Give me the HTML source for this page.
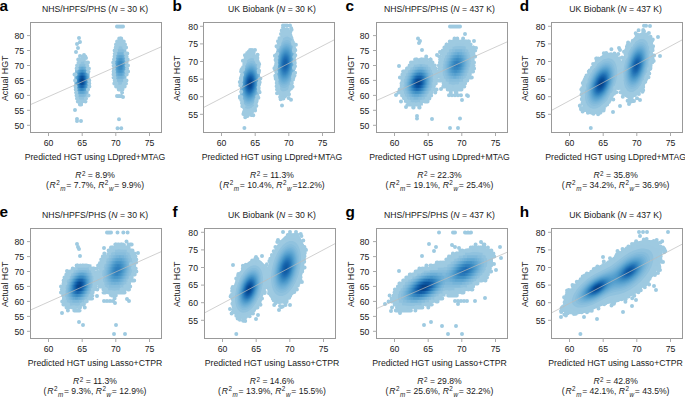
<!DOCTYPE html>
<html><head><meta charset="utf-8"><style>
html,body{margin:0;padding:0;background:#fff;}
svg{display:block;}
</style></head><body>
<svg width="685" height="397" viewBox="0 0 685 397" font-family="'Liberation Sans', sans-serif" font-size="8.6" fill="#1a1a1a">
<clipPath id="c0"><rect x="30.5" y="22.5" width="131.0" height="110.0"/></clipPath>
<g clip-path="url(#c0)">
<path fill="#9dc9e1" d="M122 90.6L117.9 90.5L117.9 88L116.5 87.8L116.2 87.5L116.2 85L115.5 84.9L115.1 84.5L115.1 82L114.5 81.9L114.1 81.5L114.1 79L113.6 78.5L113.6 76L113 75.5L113 58.5L113.5 58L113.5 55.5L114.1 55L114.1 52.5L114.6 52L114.6 49.5L115 49.1L115.6 49L115.6 46.5L116 46.1L116.7 46L116.7 43.5L117 43.2L118.9 43L119 40.4L122.5 40.4L122.6 43L124.5 43.2L124.8 43.5L124.8 46L125.5 46.1L125.9 46.5L125.9 49L126.4 49.5L126.4 52L126.9 52.5L126.9 55L127.5 55.5L127.5 72.5L127 73L127 75.5L126.4 76L126.4 78.5L125.9 79L125.9 81.5L125.4 82L125.4 84.5L125 84.9L123.8 85L123.8 87.5L123.5 87.8L122.1 88L122 90.6ZM83 105.6L80 105.6L79.9 103L78 102.8L77.7 102.5L77.7 100L77 99.9L76.6 99.5L76.6 97L76 96.9L75.6 96.5L75.6 94L75 93.5L75 91L74.5 90.5L74.5 73L75 72.5L75 70L75.6 69.5L75.6 67L76 66.6L76.6 66.5L76.6 64.5L77 64.1L77.6 64L77.6 61.5L78 61.1L79.3 61L79.3 58.5L79.5 58.3L85 58.2L85.8 58.5L85.8 61L87 61.1L87.4 61.5L87.4 64L87.9 64.5L87.9 66.5L88.5 66.5L89 67L89 72.5L89.5 73L89.5 87.5L89 88L89 90.5L88.5 91L88.5 93.5L87.9 94L87.9 96.5L87.5 96.9L86.9 97L86.9 99.5L86.5 99.9L85.8 100L85.8 102.5L85.5 102.8L83.1 103L83 105.6Z"/>
<path fill="#90c2de" d="M122.5 84.6L119.5 84.7L116.9 84.5L116.9 82L114.5 81.5L114.5 79L113.9 78.5L113.9 76L113.3 75.5L113.2 58.5L113.8 58L113.8 55.5L114.4 55L114.4 52.5L115.2 52L115.2 49.5L117.8 49L117.8 46.5L119 46.3L123.7 46.5L123.7 49L126 49.5L126 52L126.7 52.5L126.7 55L127.2 55.5L127.3 72.5L126.7 73L126.7 75.5L126.2 76L126.2 78.5L125.4 79L125.4 81.5L122.8 82L122.8 84.5L122.5 84.6ZM85 99.6L81 99.8L77.7 99.5L77.7 97L75.9 96.5L75.9 94L75.3 93.5L75.3 91L74.7 90.5L74.7 73L75.2 72.5L75.2 70L75.8 69.5L75.8 67L77 66.5L77 64.5L80.2 64L80.2 61.5L84.7 61.5L84.7 64L87.5 64.4L87.6 66.5L88.7 67L88.8 72.5L89.3 73L89.3 87.5L88.8 88L88.8 90.5L88.2 91L88.2 93.5L87.6 94L87.6 96.5L85.4 97L85.4 99.5L85 99.6Z"/>
<path fill="#87bddc" d="M122.5 81.6L119.5 81.8L116.9 81.5L116.9 79L114.9 78.5L114.9 76L113.8 75.5L113.8 73L113.4 72.5L113.4 69.5L113.5 58.5L114.2 58L114.2 55.5L115.4 55L115.4 52.5L117.6 52L117.6 49.5L118.5 49.4L121 49.2L123.7 49.5L123.7 52L125.7 52.5L125.7 55L126.8 55.5L127.2 61.5L127 72.5L126.4 73L126.4 75.5L125.2 76L125.2 78.5L123 79L123 81.5L122.5 81.6ZM85.5 96.6L81 96.9L77.3 96.5L77.3 94L75.6 93.5L75.6 91L74.9 90.5L74.9 73L75.5 72.5L75.5 70L76.7 69.5L76.7 67L79.1 66.5L79.1 64.5L82.5 64.2L85.7 64.5L85.7 66.5L87.9 67L87.9 69.5L88.6 70L88.6 72.5L89.2 73L89.2 87.5L88.6 88L88.6 90.5L87.9 91L87.9 93.5L86 94L86 96.5L85.5 96.6Z"/>
<path fill="#7eb8da" d="M123.5 78.6L119.5 78.9L116.2 78.5L116.2 76L114.8 75.5L114.8 73L114.1 72.5L114.1 70L113.7 69.5L113.6 66.5L113.8 61.5L114.3 61L114.3 58.5L115.2 58L115.2 55.5L116.8 55L116.8 52.5L117 52.4L121 52.1L124.4 52.5L124.4 55L125.8 55.5L125.8 58L126.5 58.5L126.5 61L126.9 61.5L127 64.5L126.8 69.5L126.3 70L126.3 72.5L125.4 73L125.4 75.5L123.8 76L123.8 78.5L123.5 78.6ZM84 96.6L81.5 96.7L78.9 96.5L78.9 94L76.6 93.5L76.6 91L75.4 90.5L75.4 88L74.9 87.5L74.9 84.5L74.9 76L75.2 75.5L75.2 73L76.2 72.5L76.2 70L77.8 69.5L77.8 67L79 66.7L83.5 66.5L86.8 67L86.8 69.5L88.2 70L88.2 72.5L89 73L89 87.5L88.2 88L88.2 90.5L86.9 91L86.9 93.5L84.4 94L84.4 96.5L84 96.6Z"/>
<path fill="#75b3d8" d="M122 78.6L117.6 78.5L117.6 76L115.7 75.5L115.7 73L114.8 72.5L114.8 70L114.4 69.5L114.3 64.5L114.5 64L114.5 61.5L115.1 61L115.1 58.5L116.1 58L116.1 55.5L118.1 55L118.1 52.5L119 52.4L123 52.5L123 55L124.9 55.5L124.9 58L125.8 58.5L125.8 61L126.2 61.5L126.3 66.5L126.1 67L126.1 69.5L125.5 70L125.5 72.5L124.5 73L124.5 75.5L122.5 76L122.5 78.5L122 78.6ZM86 93.5L81.5 94L77.5 93.5L77.4 91L76 90.5L76 88L75.3 87.5L75.3 85L75 84.5L75.2 76L75.8 75.5L75.8 73L76.9 72.5L76.9 70L78.8 69.5L78.8 67L82.5 66.7L85.8 67L85.8 69.5L87.5 70L87.5 72.5L88.5 73L88.5 75.5L89 76L88.9 84.5L88.4 85L88.4 87.5L87.5 88L87.5 90.5L86 91L86 93.5Z"/>
<path fill="#6caed6" d="M123.5 75.5L120 76L116.5 75.5L116.5 73L115.5 72.5L115.5 70L115 69.5L114.8 66.5L115.1 61.5L115.7 61L115.7 58.5L116.9 58L116.9 55.5L120.5 55L124.1 55.5L124.1 58L125.1 58.5L125.1 61L125.6 61.5L125.8 64.5L125.5 69.5L124.9 70L124.9 72.5L123.7 73L123.5 75.5ZM85 93.6L81.5 93.9L78.2 93.5L78.2 91L76.6 90.5L76.6 88L75.8 87.5L75.4 81.5L75.7 76L76.3 75.5L76.3 73L77.5 72.5L77.5 70L79.9 69.5L79.9 67L82.5 66.8L84.8 67L84.8 69.5L86.9 70L86.9 72.5L88 73L88 75.5L88.5 76L88.7 79L88.5 84.5L87.9 85L87.9 87.5L87 88L87 90.5L85.2 91L85.2 93.5L85 93.6Z"/>
<path fill="#64a9d3" d="M122.5 75.6L120 75.8L117.4 75.5L117.4 73L116.1 72.5L116.1 70L115.5 69.5L115.4 66.5L115.6 61.5L116.3 61L116.3 58.5L117.8 58L117.8 55.5L118 55.5L120.5 55.2L123.2 55.5L123.2 58L124.5 58.5L124.5 61L125.1 61.5L125.2 64.5L125 69.5L124.3 70L124.3 72.5L122.8 73L122.8 75.5L122.5 75.6ZM84 93.6L81.5 93.7L79 93.5L79 91L77.1 90.5L77.1 88L76.2 87.5L76.2 85L75.8 84.5L75.8 79L76.1 78.5L76.1 76L76.8 75.5L76.8 73L78.1 72.5L78.1 70L81.3 69.5L81.3 67L83.3 67L83.3 69.5L86.4 70L86.4 72.5L87.5 73L87.5 75.5L88.1 76L88.3 81.5L88.1 84.5L87.5 85L87.5 87.5L86.5 88L86.5 90.5L84.5 91L84.5 93.5L84 93.6Z"/>
<path fill="#5da4d0" d="M121.5 75.5L118.4 75.5L118.4 73L116.7 72.5L116.7 70L116 69.5L115.8 64.5L116.1 64L116.1 61.5L116.9 61L116.9 58.5L118.8 58L118.8 55.5L119.5 55.4L122.2 55.5L122.2 58L123.9 58.5L123.9 61L124.6 61.5L124.8 66.5L124.5 67L124.5 69.5L123.7 70L123.7 72.5L121.8 73L121.8 75.5L121.5 75.5ZM83.5 93.5L79.9 93.5L79.9 91L77.6 90.5L77.6 88L76.6 87.5L76.6 85L76.2 84.5L76.1 79L76.4 78.5L76.4 76L77.2 75.5L77.2 73L78.6 72.5L78.6 70L80 69.7L83 69.6L85.8 70L85.8 72.5L87.1 73L87.1 75.5L87.7 76L87.9 81.5L87.7 84.5L87.1 85L87.1 87.5L86 88L86 90.5L83.5 91L83.5 93.5Z"/>
<path fill="#559fce" d="M123 72.5L120 72.9L117.3 72.5L117.3 70L116.5 69.5L116.3 64.5L116.6 64L116.6 61.5L117.5 61L117.5 58.5L120.5 58L123.3 58.5L123.3 61L124.1 61.5L124.3 66.5L124 67L124 69.5L123.1 70L123 72.5ZM85.5 90.5L81.5 91L78 90.5L78 88L77 87.5L77 85L76.5 84.5L76.4 81.5L76.8 76L77.6 75.5L77.6 73L79.2 72.5L79.2 70L82.5 69.7L85.3 70L85.3 72.5L86.7 73L86.7 75.5L87.4 76L87.6 79L87.4 84.5L86.8 85L86.8 87.5L85.5 88L85.5 90.5Z"/>
<path fill="#4e9acb" d="M122 72.6L120 72.8L117.9 72.5L117.9 70L117 69.5L116.8 64.5L117.1 64L117.1 61.5L118.2 61L118.2 58.5L120.5 58.2L122.6 58.5L122.6 61L123.6 61.5L123.8 66.5L123.5 67L123.5 69.5L122.4 70L122.4 72.5L122 72.6ZM85 90.5L81.5 90.9L78.5 90.5L78.5 88L77.3 87.5L77.3 85L76.8 84.5L76.7 81.5L77.1 76L78 75.5L78 73L79.8 72.5L79.8 70L82.5 69.8L84.7 70L84.7 72.5L86.4 73L86.4 75.5L87.1 76L87.1 78.5L87.3 79L87.1 84.5L86.4 85L86.4 87.5L85.1 88L85 90.5Z"/>
<path fill="#4795c8" d="M121.5 72.5L118.8 72.5L118.8 70L117.5 69.5L117.2 64.5L117.6 64L117.6 61.5L119.1 61L119.1 58.5L121.8 58.5L121.8 61L123.1 61.5L123.4 66.5L123 67L123 69.5L121.5 70L121.5 72.5ZM84.5 90.5L81.5 90.8L79 90.5L79 88L77.6 87.5L77.6 85L77.1 84.5L77 81.5L77.4 76L78.3 75.5L78.3 73L80.5 72.5L80.5 70L84 70L84 72.5L86 73L86 75.5L86.8 76L86.8 78.5L87 79L86.8 84.5L86.1 85L86.1 87.5L84.6 88L84.5 90.5Z"/>
<path fill="#4090c5" d="M122 69.6L120 69.9L118.1 69.5L117.7 64.5L118.2 64L118.2 61.5L120.5 61.1L122.5 61.5L122.9 66.5L122.4 67L122.4 69.5L122 69.6ZM84 90.5L81.5 90.7L79.5 90.5L79.5 88L77.9 87.5L77.9 85L77.3 84.5L77.3 79L77.7 78.5L77.7 76L78.7 75.5L78.7 73L81.5 72.5L81.5 70L82.9 70L82.9 72.5L85.6 73L85.6 75.5L86.5 76L86.5 78.5L86.8 79L86.5 84.5L85.8 85L85.8 87.5L84.1 88L84 90.5Z"/>
<path fill="#3a8ac2" d="M121.5 69.6L120 69.7L118.8 69.5L118.8 67L118.3 66.5L118.3 64.5L118.9 64L118.9 61.5L120.5 61.3L121.8 61.5L121.8 64L122.3 64.5L122.3 66.5L121.7 67L121.7 69.5L121.5 69.6ZM83.5 90.5L80.1 90.5L80.1 88L78.3 87.5L78.3 85L77.6 84.5L77.5 79L78 78.5L78 76L79 75.5L79 73L80 72.8L83 72.6L85.3 73L85.3 75.5L86.2 76L86.2 78.5L86.5 79L86.3 84.5L85.5 85L85.5 87.5L83.5 88L83.5 90.5Z"/>
<path fill="#3484bf" d="M121.5 66.6L120 66.9L119 66.5L119 64.5L120.5 64L121.5 64.4L121.5 66.6ZM82.5 90.5L80.9 90.5L80.9 88L78.6 87.5L78.6 85L77.9 84.5L77.8 79L78.2 78.5L78.2 76L79.4 75.5L79.4 73L81.5 72.7L84.9 73L84.9 75.5L85.9 76L85.9 78.5L86.2 79L86 84.5L85.1 85L85.1 87.5L82.6 88L82.5 90.5Z"/>
<path fill="#2e7ebc" d="M84.5 87.6L81.5 87.9L78.9 87.5L78.9 85L78.1 84.5L78 79L78.5 78.5L78.5 76L79.8 75.5L79.8 73L82 72.7L84.5 73L84.5 75.5L85.7 76L85.7 78.5L86 79L85.7 84.5L84.8 85L84.8 87.5L84.5 87.6Z"/>
<path fill="#2878b9" d="M84 87.6L81.5 87.9L79.2 87.5L79.2 85L78.4 84.5L78.3 79L78.8 78.5L78.8 76L80.3 75.5L80.3 73L82 72.8L84.1 73L84.1 75.5L85.4 76L85.4 78.5L85.8 79L85.5 84.5L84.5 85L84.5 87.5L84 87.6Z"/>
<path fill="#2272b6" d="M84 87.5L82 87.8L79.6 87.5L79.6 85L78.7 84.5L78.5 79L79.1 78.5L79.1 76L80.8 75.5L80.8 73L83.5 73L83.5 75.5L85.1 76L85.1 78.5L85.5 79L85.2 84.5L84.1 85L84 87.5Z"/>
<path fill="#1d6cb1" d="M83.5 87.5L80 87.5L80 85L78.9 84.5L78.8 79L79.3 78.5L79.3 76L81.7 75.5L81.7 73L82.6 73L82.6 75.5L84.8 76L84.8 78.5L85.3 79L85 84.5L83.7 85L83.7 87.5L83.5 87.5Z"/>
<path fill="#1966ad" d="M83 87.5L80.5 87.5L80.5 85L79.2 84.5L79 79L79.6 78.5L79.6 76L80.5 75.8L82.5 75.6L84.5 76L84.5 78.5L85 79L84.7 84.5L83.2 85L83.2 87.5L83 87.5Z"/>
<path fill="#1461a8" d="M82.5 87.5L81.3 87.5L81.3 85L79.5 84.5L79.3 79L80 78.5L80 76L81.5 75.7L84.2 76L84.2 78.5L84.7 79L84.4 84.5L82.5 85L82.5 87.5Z"/>
<path fill="#105ba4" d="M84 84.5L82 84.9L79.8 84.5L79.5 79L80.3 78.5L80.3 76L82 75.8L83.8 76L83.8 78.5L84.5 79L84.5 81.5L84.1 82L84 84.5Z"/>
<path fill="#0b559f" d="M83.5 84.6L81.5 84.8L80.1 84.5L79.8 79L80.8 78.5L80.8 76L83.4 76L83.4 78.5L84.2 79L84.2 81.5L83.8 82L83.8 84.5L83.5 84.6Z"/>
<path fill="#084f9a" d="M83 84.6L80.5 84.5L80.2 79L81.4 78.5L81.4 76L82.8 76L82.8 78.5L83.9 79L83.9 81.5L83.4 82L83.4 84.5L83 84.6Z"/>
<path fill="#084991" d="M82.5 84.6L81 84.5L81 82L80.5 81.5L80.5 79L81.5 78.7L82.5 78.6L83.5 79L83.5 81.5L82.9 82L82.9 84.5L82.5 84.6Z"/>
<path fill="#084388" d="M83 81.5L82 81.9L81 81.5L81 79L82 78.8L83.1 79L83 81.5Z"/>
<path fill="#9ECAE1" d="M73.6 86.4a2 2 0 1 0 4 0a2 2 0 1 0-4 0M86.5 95.4a2 2 0 1 0 4 0a2 2 0 1 0-4 0M73.5 74.5a2 2 0 1 0 4 0a2 2 0 1 0-4 0M114.3 44.6a2 2 0 1 0 4 0a2 2 0 1 0-4 0M85.7 68.5a2 2 0 1 0 4 0a2 2 0 1 0-4 0M123.6 83.4a2 2 0 1 0 4 0a2 2 0 1 0-4 0M114.1 47.6a2 2 0 1 0 4 0a2 2 0 1 0-4 0M76.2 59.5a2 2 0 1 0 4 0a2 2 0 1 0-4 0M111.9 65.5a2 2 0 1 0 4 0a2 2 0 1 0-4 0M114.0 50.5a2 2 0 1 0 4 0a2 2 0 1 0-4 0M116.7 89.4a2 2 0 1 0 4 0a2 2 0 1 0-4 0M114.2 83.4a2 2 0 1 0 4 0a2 2 0 1 0-4 0M83.5 101.4a2 2 0 1 0 4 0a2 2 0 1 0-4 0M116.8 89.4a2 2 0 1 0 4 0a2 2 0 1 0-4 0M117.3 89.4a2 2 0 1 0 4 0a2 2 0 1 0-4 0M123.0 44.6a2 2 0 1 0 4 0a2 2 0 1 0-4 0M86.0 62.5a2 2 0 1 0 4 0a2 2 0 1 0-4 0M77.9 104.4a2 2 0 1 0 4 0a2 2 0 1 0-4 0M86.0 89.4a2 2 0 1 0 4 0a2 2 0 1 0-4 0M120.1 89.4a2 2 0 1 0 4 0a2 2 0 1 0-4 0M77.4 101.4a2 2 0 1 0 4 0a2 2 0 1 0-4 0M123.6 47.6a2 2 0 1 0 4 0a2 2 0 1 0-4 0M120.6 86.4a2 2 0 1 0 4 0a2 2 0 1 0-4 0M121.6 44.6a2 2 0 1 0 4 0a2 2 0 1 0-4 0M80.5 59.5a2 2 0 1 0 4 0a2 2 0 1 0-4 0M115.0 86.4a2 2 0 1 0 4 0a2 2 0 1 0-4 0M120.3 86.4a2 2 0 1 0 4 0a2 2 0 1 0-4 0M73.7 89.4a2 2 0 1 0 4 0a2 2 0 1 0-4 0M113.0 50.5a2 2 0 1 0 4 0a2 2 0 1 0-4 0M112.3 59.5a2 2 0 1 0 4 0a2 2 0 1 0-4 0M73.5 86.4a2 2 0 1 0 4 0a2 2 0 1 0-4 0M111.6 77.5a2 2 0 1 0 4 0a2 2 0 1 0-4 0M111.6 65.5a2 2 0 1 0 4 0a2 2 0 1 0-4 0M112.7 80.4a2 2 0 1 0 4 0a2 2 0 1 0-4 0M121.8 41.6a2 2 0 1 0 4 0a2 2 0 1 0-4 0M81.5 56.5a2 2 0 1 0 4 0a2 2 0 1 0-4 0M87.3 83.4a2 2 0 1 0 4 0a2 2 0 1 0-4 0M122.7 86.4a2 2 0 1 0 4 0a2 2 0 1 0-4 0M81.4 56.5a2 2 0 1 0 4 0a2 2 0 1 0-4 0M111.2 62.5a2 2 0 1 0 4 0a2 2 0 1 0-4 0M79.1 104.4a2 2 0 1 0 4 0a2 2 0 1 0-4 0M124.6 65.5a2 2 0 1 0 4 0a2 2 0 1 0-4 0M111.6 65.5a2 2 0 1 0 4 0a2 2 0 1 0-4 0M112.8 53.5a2 2 0 1 0 4 0a2 2 0 1 0-4 0M111.6 71.5a2 2 0 1 0 4 0a2 2 0 1 0-4 0M76.9 62.5a2 2 0 1 0 4 0a2 2 0 1 0-4 0M117.7 41.6a2 2 0 1 0 4 0a2 2 0 1 0-4 0M116.2 41.6a2 2 0 1 0 4 0a2 2 0 1 0-4 0M112.0 59.5a2 2 0 1 0 4 0a2 2 0 1 0-4 0M75.4 65.5a2 2 0 1 0 4 0a2 2 0 1 0-4 0M120.5 89.4a2 2 0 1 0 4 0a2 2 0 1 0-4 0M74.5 95.4a2 2 0 1 0 4 0a2 2 0 1 0-4 0M113.2 53.5a2 2 0 1 0 4 0a2 2 0 1 0-4 0M112.5 77.5a2 2 0 1 0 4 0a2 2 0 1 0-4 0M114.0 44.6a2 2 0 1 0 4 0a2 2 0 1 0-4 0M125.1 68.5a2 2 0 1 0 4 0a2 2 0 1 0-4 0M119.2 41.6a2 2 0 1 0 4 0a2 2 0 1 0-4 0M124.3 56.5a2 2 0 1 0 4 0a2 2 0 1 0-4 0M112.1 74.5a2 2 0 1 0 4 0a2 2 0 1 0-4 0M124.6 65.5a2 2 0 1 0 4 0a2 2 0 1 0-4 0M124.4 71.5a2 2 0 1 0 4 0a2 2 0 1 0-4 0M124.6 62.5a2 2 0 1 0 4 0a2 2 0 1 0-4 0M121.2 44.6a2 2 0 1 0 4 0a2 2 0 1 0-4 0M123.1 80.4a2 2 0 1 0 4 0a2 2 0 1 0-4 0M124.6 59.5a2 2 0 1 0 4 0a2 2 0 1 0-4 0M114.3 83.4a2 2 0 1 0 4 0a2 2 0 1 0-4 0M112.3 83.4a2 2 0 1 0 4 0a2 2 0 1 0-4 0M74.8 68.5a2 2 0 1 0 4 0a2 2 0 1 0-4 0M73.1 80.4a2 2 0 1 0 4 0a2 2 0 1 0-4 0M113.8 50.5a2 2 0 1 0 4 0a2 2 0 1 0-4 0M122.0 83.4a2 2 0 1 0 4 0a2 2 0 1 0-4 0M114.1 86.4a2 2 0 1 0 4 0a2 2 0 1 0-4 0M122.3 47.6a2 2 0 1 0 4 0a2 2 0 1 0-4 0M83.2 56.5a2 2 0 1 0 4 0a2 2 0 1 0-4 0M112.6 50.5a2 2 0 1 0 4 0a2 2 0 1 0-4 0M121.8 86.4a2 2 0 1 0 4 0a2 2 0 1 0-4 0M124.5 74.5a2 2 0 1 0 4 0a2 2 0 1 0-4 0M121.2 44.6a2 2 0 1 0 4 0a2 2 0 1 0-4 0M84.0 98.4a2 2 0 1 0 4 0a2 2 0 1 0-4 0M124.9 59.5a2 2 0 1 0 4 0a2 2 0 1 0-4 0M112.5 56.5a2 2 0 1 0 4 0a2 2 0 1 0-4 0M125.3 53.5a2 2 0 1 0 4 0a2 2 0 1 0-4 0M122.9 83.4a2 2 0 1 0 4 0a2 2 0 1 0-4 0M114.4 83.4a2 2 0 1 0 4 0a2 2 0 1 0-4 0M117.1 89.4a2 2 0 1 0 4 0a2 2 0 1 0-4 0M120.7 41.6a2 2 0 1 0 4 0a2 2 0 1 0-4 0M86.0 71.5a2 2 0 1 0 4 0a2 2 0 1 0-4 0M118.4 38.6a2 2 0 1 0 4 0a2 2 0 1 0-4 0M74.6 68.5a2 2 0 1 0 4 0a2 2 0 1 0-4 0M124.5 74.5a2 2 0 1 0 4 0a2 2 0 1 0-4 0M76.6 59.5a2 2 0 1 0 4 0a2 2 0 1 0-4 0M76.6 62.5a2 2 0 1 0 4 0a2 2 0 1 0-4 0M80.8 56.5a2 2 0 1 0 4 0a2 2 0 1 0-4 0M120.7 44.6a2 2 0 1 0 4 0a2 2 0 1 0-4 0M112.0 71.5a2 2 0 1 0 4 0a2 2 0 1 0-4 0M120.1 92.4a2 2 0 1 0 4 0a2 2 0 1 0-4 0M123.7 53.5a2 2 0 1 0 4 0a2 2 0 1 0-4 0M123.0 83.4a2 2 0 1 0 4 0a2 2 0 1 0-4 0M118.8 38.6a2 2 0 1 0 4 0a2 2 0 1 0-4 0M86.5 71.5a2 2 0 1 0 4 0a2 2 0 1 0-4 0M85.3 65.5a2 2 0 1 0 4 0a2 2 0 1 0-4 0M121.1 41.6a2 2 0 1 0 4 0a2 2 0 1 0-4 0M84.3 62.5a2 2 0 1 0 4 0a2 2 0 1 0-4 0M114.8 47.6a2 2 0 1 0 4 0a2 2 0 1 0-4 0M122.5 83.4a2 2 0 1 0 4 0a2 2 0 1 0-4 0M75.8 101.4a2 2 0 1 0 4 0a2 2 0 1 0-4 0M112.7 53.5a2 2 0 1 0 4 0a2 2 0 1 0-4 0M124.6 53.5a2 2 0 1 0 4 0a2 2 0 1 0-4 0M112.4 77.5a2 2 0 1 0 4 0a2 2 0 1 0-4 0M112.0 71.5a2 2 0 1 0 4 0a2 2 0 1 0-4 0M74.7 95.4a2 2 0 1 0 4 0a2 2 0 1 0-4 0M111.2 62.5a2 2 0 1 0 4 0a2 2 0 1 0-4 0M120.2 86.4a2 2 0 1 0 4 0a2 2 0 1 0-4 0M87.4 86.4a2 2 0 1 0 4 0a2 2 0 1 0-4 0M125.3 59.5a2 2 0 1 0 4 0a2 2 0 1 0-4 0M75.1 65.5a2 2 0 1 0 4 0a2 2 0 1 0-4 0M117.7 89.4a2 2 0 1 0 4 0a2 2 0 1 0-4 0M113.9 47.6a2 2 0 1 0 4 0a2 2 0 1 0-4 0M72.5 74.5a2 2 0 1 0 4 0a2 2 0 1 0-4 0M119.2 38.6a2 2 0 1 0 4 0a2 2 0 1 0-4 0M126.0 65.5a2 2 0 1 0 4 0a2 2 0 1 0-4 0M111.6 65.5a2 2 0 1 0 4 0a2 2 0 1 0-4 0M117.6 89.4a2 2 0 1 0 4 0a2 2 0 1 0-4 0M113.3 50.5a2 2 0 1 0 4 0a2 2 0 1 0-4 0M126.1 71.5a2 2 0 1 0 4 0a2 2 0 1 0-4 0M124.1 47.6a2 2 0 1 0 4 0a2 2 0 1 0-4 0M116.8 44.6a2 2 0 1 0 4 0a2 2 0 1 0-4 0M125.1 59.5a2 2 0 1 0 4 0a2 2 0 1 0-4 0M119.9 41.6a2 2 0 1 0 4 0a2 2 0 1 0-4 0M117.0 41.6a2 2 0 1 0 4 0a2 2 0 1 0-4 0M79.9 59.5a2 2 0 1 0 4 0a2 2 0 1 0-4 0M87.3 80.4a2 2 0 1 0 4 0a2 2 0 1 0-4 0M120.4 41.6a2 2 0 1 0 4 0a2 2 0 1 0-4 0M124.6 62.5a2 2 0 1 0 4 0a2 2 0 1 0-4 0M75.4 65.5a2 2 0 1 0 4 0a2 2 0 1 0-4 0M124.0 83.4a2 2 0 1 0 4 0a2 2 0 1 0-4 0M111.5 62.5a2 2 0 1 0 4 0a2 2 0 1 0-4 0M117.2 38.6a2 2 0 1 0 4 0a2 2 0 1 0-4 0M75.0 98.4a2 2 0 1 0 4 0a2 2 0 1 0-4 0M114.1 83.4a2 2 0 1 0 4 0a2 2 0 1 0-4 0M81.5 56.5a2 2 0 1 0 4 0a2 2 0 1 0-4 0M121.9 44.6a2 2 0 1 0 4 0a2 2 0 1 0-4 0M112.9 50.5a2 2 0 1 0 4 0a2 2 0 1 0-4 0M113.9 50.5a2 2 0 1 0 4 0a2 2 0 1 0-4 0M86.9 68.5a2 2 0 1 0 4 0a2 2 0 1 0-4 0M111.8 68.5a2 2 0 1 0 4 0a2 2 0 1 0-4 0M125.3 71.5a2 2 0 1 0 4 0a2 2 0 1 0-4 0M74.1 92.4a2 2 0 1 0 4 0a2 2 0 1 0-4 0M119.4 41.6a2 2 0 1 0 4 0a2 2 0 1 0-4 0M76.5 62.5a2 2 0 1 0 4 0a2 2 0 1 0-4 0M86.3 71.5a2 2 0 1 0 4 0a2 2 0 1 0-4 0M74.2 92.4a2 2 0 1 0 4 0a2 2 0 1 0-4 0M124.8 71.5a2 2 0 1 0 4 0a2 2 0 1 0-4 0M120.1 86.4a2 2 0 1 0 4 0a2 2 0 1 0-4 0M121.7 44.6a2 2 0 1 0 4 0a2 2 0 1 0-4 0M124.7 59.5a2 2 0 1 0 4 0a2 2 0 1 0-4 0M124.6 56.5a2 2 0 1 0 4 0a2 2 0 1 0-4 0M122.4 47.6a2 2 0 1 0 4 0a2 2 0 1 0-4 0M117.4 41.6a2 2 0 1 0 4 0a2 2 0 1 0-4 0M113.4 50.5a2 2 0 1 0 4 0a2 2 0 1 0-4 0M111.5 74.5a2 2 0 1 0 4 0a2 2 0 1 0-4 0M111.4 62.5a2 2 0 1 0 4 0a2 2 0 1 0-4 0M123.5 80.4a2 2 0 1 0 4 0a2 2 0 1 0-4 0M113.2 80.4a2 2 0 1 0 4 0a2 2 0 1 0-4 0M113.6 50.5a2 2 0 1 0 4 0a2 2 0 1 0-4 0M112.2 74.5a2 2 0 1 0 4 0a2 2 0 1 0-4 0M124.5 80.4a2 2 0 1 0 4 0a2 2 0 1 0-4 0M120.4 44.6a2 2 0 1 0 4 0a2 2 0 1 0-4 0M112.5 77.5a2 2 0 1 0 4 0a2 2 0 1 0-4 0M112.1 74.5a2 2 0 1 0 4 0a2 2 0 1 0-4 0M119.5 41.6a2 2 0 1 0 4 0a2 2 0 1 0-4 0M86.3 71.5a2 2 0 1 0 4 0a2 2 0 1 0-4 0M124.7 74.5a2 2 0 1 0 4 0a2 2 0 1 0-4 0M120.4 86.4a2 2 0 1 0 4 0a2 2 0 1 0-4 0M114.5 47.6a2 2 0 1 0 4 0a2 2 0 1 0-4 0M113.7 47.6a2 2 0 1 0 4 0a2 2 0 1 0-4 0M125.7 59.5a2 2 0 1 0 4 0a2 2 0 1 0-4 0M113.6 83.4a2 2 0 1 0 4 0a2 2 0 1 0-4 0M115.1 41.6a2 2 0 1 0 4 0a2 2 0 1 0-4 0M116.5 44.6a2 2 0 1 0 4 0a2 2 0 1 0-4 0M123.1 47.6a2 2 0 1 0 4 0a2 2 0 1 0-4 0M84.0 98.4a2 2 0 1 0 4 0a2 2 0 1 0-4 0M77.0 38.0a2 2 0 1 0 4 0a2 2 0 1 0-4 0M78.0 42.0a2 2 0 1 0 4 0a2 2 0 1 0-4 0M75.0 44.0a2 2 0 1 0 4 0a2 2 0 1 0-4 0M76.0 48.0a2 2 0 1 0 4 0a2 2 0 1 0-4 0M74.0 52.0a2 2 0 1 0 4 0a2 2 0 1 0-4 0M78.0 56.0a2 2 0 1 0 4 0a2 2 0 1 0-4 0M82.0 55.0a2 2 0 1 0 4 0a2 2 0 1 0-4 0M84.0 58.0a2 2 0 1 0 4 0a2 2 0 1 0-4 0M75.0 119.0a2 2 0 1 0 4 0a2 2 0 1 0-4 0M75.0 121.0a2 2 0 1 0 4 0a2 2 0 1 0-4 0M79.0 121.0a2 2 0 1 0 4 0a2 2 0 1 0-4 0M115.0 26.4a2 2 0 1 0 4 0a2 2 0 1 0-4 0M117.0 26.4a2 2 0 1 0 4 0a2 2 0 1 0-4 0M119.0 26.4a2 2 0 1 0 4 0a2 2 0 1 0-4 0M121.0 26.4a2 2 0 1 0 4 0a2 2 0 1 0-4 0M117.0 119.3a2 2 0 1 0 4 0a2 2 0 1 0-4 0M115.5 128.2a2 2 0 1 0 4 0a2 2 0 1 0-4 0M119.3 128.2a2 2 0 1 0 4 0a2 2 0 1 0-4 0M115.0 95.9a2 2 0 1 0 4 0a2 2 0 1 0-4 0M117.0 95.9a2 2 0 1 0 4 0a2 2 0 1 0-4 0M119.0 95.9a2 2 0 1 0 4 0a2 2 0 1 0-4 0M121.0 97.0a2 2 0 1 0 4 0a2 2 0 1 0-4 0M73.0 110.0a2 2 0 1 0 4 0a2 2 0 1 0-4 0"/>
<line x1="30.5" y1="104.6" x2="161.5" y2="46.7" stroke="#bcbcbc" stroke-width="0.7"/>
</g>
<rect x="30.5" y="22.5" width="131.0" height="110.0" fill="none" stroke="#999" stroke-width="1"/>
<line x1="48.5" y1="132.5" x2="48.5" y2="136.0" stroke="#aaa" stroke-width="1"/>
<text x="48.5" y="145.8" text-anchor="middle" font-size="8.7">60</text>
<line x1="82.2" y1="132.5" x2="82.2" y2="136.0" stroke="#aaa" stroke-width="1"/>
<text x="82.2" y="145.8" text-anchor="middle" font-size="8.7">65</text>
<line x1="115.8" y1="132.5" x2="115.8" y2="136.0" stroke="#aaa" stroke-width="1"/>
<text x="115.8" y="145.8" text-anchor="middle" font-size="8.7">70</text>
<line x1="149.5" y1="132.5" x2="149.5" y2="136.0" stroke="#aaa" stroke-width="1"/>
<text x="149.5" y="145.8" text-anchor="middle" font-size="8.7">75</text>
<line x1="27.0" y1="125.3" x2="30.5" y2="125.3" stroke="#aaa" stroke-width="1"/>
<text x="24.1" y="128.5" text-anchor="end" font-size="8.7">50</text>
<line x1="27.0" y1="110.3" x2="30.5" y2="110.3" stroke="#aaa" stroke-width="1"/>
<text x="24.1" y="113.5" text-anchor="end" font-size="8.7">55</text>
<line x1="27.0" y1="95.4" x2="30.5" y2="95.4" stroke="#aaa" stroke-width="1"/>
<text x="24.1" y="98.6" text-anchor="end" font-size="8.7">60</text>
<line x1="27.0" y1="80.4" x2="30.5" y2="80.4" stroke="#aaa" stroke-width="1"/>
<text x="24.1" y="83.6" text-anchor="end" font-size="8.7">65</text>
<line x1="27.0" y1="65.5" x2="30.5" y2="65.5" stroke="#aaa" stroke-width="1"/>
<text x="24.1" y="68.7" text-anchor="end" font-size="8.7">70</text>
<line x1="27.0" y1="50.5" x2="30.5" y2="50.5" stroke="#aaa" stroke-width="1"/>
<text x="24.1" y="53.8" text-anchor="end" font-size="8.7">75</text>
<line x1="27.0" y1="35.6" x2="30.5" y2="35.6" stroke="#aaa" stroke-width="1"/>
<text x="24.1" y="38.8" text-anchor="end" font-size="8.7">80</text>
<text transform="translate(7.7,78.3) rotate(-90)" text-anchor="middle" font-size="8.8">Actual HGT</text>
<text x="95.0" y="12.3" text-anchor="middle" font-size="8.66">NHS/HPFS/PHS (<tspan font-style="italic">N</tspan> = 30 K)</text>
<text x="-0.6" y="11.0" font-weight="bold" font-size="15.3" fill="#000">a</text>
<text x="95.0" y="159.5" text-anchor="middle" font-size="8.68">Predicted HGT using LDpred+MTAG</text>
<text x="95.0" y="178.0" text-anchor="middle"><tspan font-style="italic">R</tspan><tspan font-size="6.3" dy="-1.9" dx="0.5">2</tspan><tspan dy="1.9"> = 8.9%</tspan></text>
<text x="95.0" y="187.8" text-anchor="middle">(<tspan font-style="italic" dx="0.8">R</tspan><tspan font-size="6.3" dy="-2.4" dx="0.5">2</tspan><tspan font-size="6.3" font-style="italic" dy="5.4" dx="0.5">m</tspan><tspan dy="-3.0" dx="0.8">= 7.7%, </tspan><tspan font-style="italic">R</tspan><tspan font-size="6.3" dy="-2.4" dx="0.5">2</tspan><tspan font-size="6.3" font-style="italic" dy="5.4" dx="0.5">w</tspan><tspan dy="-3.0" dx="0.8">= 9.9%)</tspan></text>
<clipPath id="c1"><rect x="203.5" y="22.5" width="131.0" height="110.0"/></clipPath>
<g clip-path="url(#c1)">
<path fill="#9dc9e1" d="M285 98.5L282.5 98.6L282 98.1L281.5 98.1L280.3 97L279.7 95.5L279.2 95L279.2 94.5L278.7 94L278.7 93.5L278.2 93L278.1 92L277.6 91.5L277.6 90.5L277.1 90L277.1 88.5L276.6 88L276.6 86.5L276.1 86L276.1 83L275.6 82.5L275.5 79L275 78.5L275 59.5L275.5 59L275.5 55L276 54.5L276.1 51.5L276.5 51L276.6 48.5L277.1 48L277.1 46L277.6 45.5L277.6 44L278.1 43.5L278.1 42L278.6 41.5L278.6 40.5L279.1 40L279.1 39L279.6 38.5L279.7 37.5L280.2 37L280.2 36L280.7 35.5L280.7 35L281.2 34.5L281.8 33L282.8 32L282.9 31.5L284.5 30L285 29.9L285.5 29.5L288.5 29.4L290.2 31L290.2 31.5L291.2 32.5L291.8 34L292.3 34.5L292.3 35.5L292.8 36L292.9 37L293.4 37.5L293.4 39L293.9 39.5L293.9 41L294.4 41.5L294.4 44L294.9 44.5L295 48L295.5 48.5L295.5 69.5L295 70L295 74L294.5 74.5L294.4 77.5L294 78L293.9 80L293.4 80.5L293.4 82.5L292.9 83L292.9 84.5L292.4 85L292.4 86.5L291.9 87L291.9 88L291.4 88.5L291.3 89.5L290.8 90L290.8 91L290.3 91.5L290.3 92L289.8 92.5L289.8 93L289.3 93.5L288.7 95L287.7 96L287.6 96.5L286 98L285.5 98.1L285 98.5ZM250 115L247 115.1L244.3 112.5L243.7 111L243.2 110.5L243.1 109.5L242.1 108L242.1 106.5L241.6 106L241.6 104.5L241.1 104L241.1 102L240.6 101.5L240.5 98L240 97.5L240 78.5L240.5 78L240.5 74.5L241 74L241.1 71L241.5 70.5L241.6 68.5L242.1 68L242.1 66.5L242.6 66L242.6 64.5L243.1 64L243.1 63L243.6 62.5L243.6 61.5L244.1 61L244.2 60L245.2 58.5L245.2 57.5L248.5 52.9L249 52.9L250 52L253 51.9L255.7 54.5L256.3 56L256.8 56.5L256.9 57.5L257.9 59L257.9 60.5L258.4 61L258.4 62.5L258.9 63L258.9 65L259.4 65.5L259.5 69L260 69.5L260 88.5L259.5 89L259.5 92.5L259 93L258.9 96L258.5 96.5L258.4 98.5L257.9 99L257.9 100.5L257.4 101L257.4 102.5L256.9 103L256.9 104L256.4 104.5L256.4 105.5L255.9 106L255.8 107L254.8 108.5L254.8 109.5L254.3 110L254.2 110.5L252.2 113L252.1 113.5L250 115Z"/>
<path fill="#90c2de" d="M285.5 91L283 91.4L280.5 90.5L278.4 88.5L276.5 85.4L276.4 83L275.9 82.5L275.8 79L275.3 78.5L275.2 59.5L275.7 59L275.8 55L276.2 54.5L276.3 51.5L276.8 51L276.9 48.5L277.4 48L277.5 46.1L278.8 43.5L280.8 40.5L283 38.2L285.5 36.9L287.5 36.6L289.5 37.2L291.8 39L293.8 42L294.1 44L294.6 44.5L294.7 48L295.2 48.5L295.2 49.5L295.3 69.5L294.8 70L294.7 74L294.2 74.5L294.1 77.5L293.7 78L293.6 80L293.1 80.5L292.8 82.5L291.2 85.5L289.5 87.9L287.5 89.9L285.5 91ZM250 108.6L247.5 108.8L245.5 108.2L243.4 106.5L241.5 103.8L241.4 102L240.9 101.5L240.8 98L240.3 97.5L240.2 78.5L240.7 78L240.8 74.5L241.2 74L241.3 71L241.8 70.5L241.9 68.5L242.4 68L242.5 66.5L242.9 66L243.2 65L245.3 62L247.5 59.8L250 58.4L252 58.1L254.5 58.8L256.5 60.4L258.5 63.2L258.6 65L259.1 65.5L259.2 69L259.7 69.5L259.7 70L259.8 88.5L259.3 89L259.2 92.5L258.8 93L258.7 96L258.2 96.5L258.1 98.5L257.6 99L257.5 100.5L257.1 101L257 101.6L255.1 104.5L253.5 106.4L252 107.6L250 108.6Z"/>
<path fill="#87bddc" d="M284 88L282.5 87.8L281.5 87.4L279.5 85.8L277.7 83L276.4 79.5L275.5 75.9L275.5 59.5L275.9 59L276 56.2L277.1 52L278.4 48.5L279.9 45.5L281.5 43.2L283.5 41.2L285.5 40.2L287 40L288.5 40.3L289.5 40.8L291.3 42.5L293.1 45.5L294.4 49L295 52.5L295 69.5L294.6 70L294.5 72.3L293.3 76.5L290.7 82.5L289 84.9L287.5 86.5L285.5 87.7L284 88ZM250.5 105.5L248 106L245.5 105L243.4 103L241.6 99.5L240.5 96.2L240.4 80.5L240.4 78.5L240.9 78L241.1 74.5L241.4 74L241.5 73.1L242.4 70.5L244.1 67L245.8 64.5L247.5 62.7L249.5 61.5L251.5 61L254 61.6L256 63.3L257.8 66L259.1 69.5L259.5 70.8L259.6 73.5L259.6 86.5L259.6 88.5L259.1 89L259 92.2L256.7 98.5L255.3 101L253.8 103L252 104.7L250.5 105.5Z"/>
<path fill="#7eb8da" d="M285 85.6L283 85.7L281 84.7L279.5 83.1L278.1 80.5L276.9 77L276.2 73.5L275.8 69.5L275.8 65L276.3 60L277.2 55.5L278.2 52L279.7 48.5L281.2 46L283 43.9L285 42.6L287 42.2L288.5 42.6L290.4 44L291.8 46L292.9 48.5L293.8 51.5L294.5 55L294.8 59L294.8 63L293.8 71L292.7 75L291.6 78L290.1 81L288.5 83.2L287 84.6L285 85.6ZM249.5 104L247.5 104L245.5 103L243.7 101L242.4 98.5L241.3 95L240.6 91.5L240.5 82.9L241.8 75.5L242.9 72L244.2 69L245.8 66.5L247.5 64.6L249.5 63.3L251.5 62.9L253.5 63.4L255 64.5L256.5 66.4L257.8 69L258.7 72L259.4 76L259.5 84.1L258.2 91.5L256 97.5L254.6 100L253 101.9L251.5 103.1L249.5 104Z"/>
<path fill="#75b3d8" d="M284.5 84L282.5 83.8L281 82.8L279.5 80.9L278.3 78.5L277.4 75.5L276.8 72L276.5 68L276.6 64L277.1 59.5L277.9 56L278.9 52.5L280.2 49.5L281.8 47L283.5 45.2L285 44.3L287 43.9L288.5 44.4L290 45.6L291.3 47.5L292.4 50L293.3 53L293.8 56.5L294 64L292.9 71.5L290.8 77.5L289.5 80L288 82L286.5 83.3L284.5 84ZM249.5 102.6L247.5 102.5L246 101.7L244.5 100.2L243.2 98L242.1 95L241.4 91.5L241.1 88L241.1 84L242.2 76.5L243.3 73L244.6 70L246.2 67.5L248 65.7L249.5 64.7L251.5 64.3L253 64.7L254.8 66L256 67.5L257.2 70L258.2 73L258.7 76L258.9 83L257.9 90L255.9 96L254.5 98.4L253 100.4L251.5 101.7L249.5 102.6Z"/>
<path fill="#6caed6" d="M285 82.5L283 82.5L281.5 81.6L280.1 80L279.1 78L278.2 75.5L277.6 72.5L277.2 69L277.2 65L278.2 57.5L279.2 54L280.4 51L282 48.3L283.5 46.7L285 45.7L286.5 45.4L288 45.7L289.5 46.8L290.8 48.5L291.7 50.5L292.6 53.5L293.2 56.5L293.4 63L292.6 69.5L291.8 73L290.7 76L289.4 78.5L288 80.5L286.5 81.8L285 82.5ZM250.5 101.1L248.5 101.4L247 101L245.5 99.9L244 97.9L243 95.5L242.2 92.5L241.7 89L241.6 85L241.9 81.5L242.6 77.5L243.6 74L244.9 71L246.5 68.5L248 66.9L250 65.8L251.5 65.6L253 66L254.5 67.1L255.6 68.5L256.7 70.5L258.1 76L258.4 82L257.6 88.5L255.8 94.5L253.5 98.5L252 100.1L250.5 101.1Z"/>
<path fill="#64a9d3" d="M285.5 81.1L284 81.4L282.5 80.9L281 79.6L279.9 78L278.9 75.5L278.2 72.5L277.8 69L277.7 65.5L278.5 58.5L279.3 55.5L280.5 52.3L282 49.7L283.5 47.9L285 47L286.5 46.6L288 47L289 47.7L290.4 49.5L291.3 51.5L292.6 56.5L292.9 62.5L292.2 69L290.6 74.5L289.4 77L288.1 79L287 80.1L285.5 81.1ZM250.5 100L248.5 100.4L247 99.9L245.5 98.7L244.3 97L243.3 94.5L242.6 92L242.2 88.5L242.1 85L242.9 78.5L243.8 75L245.1 72L246.5 69.6L248 68L250 66.8L251.5 66.6L253 67.1L254.2 68L255.4 69.5L256.4 71.5L257.6 76.5L257.9 82L257.2 88L255.6 93.5L253.4 97.5L252 99L250.5 100Z"/>
<path fill="#5da4d0" d="M285 80.1L283.5 80.1L282.2 79.5L281 78.2L280 76.5L279.1 74L278.5 71L278.3 64.5L279.2 58L281 52.7L282.3 50.5L283.5 49.1L285 48.1L286.5 47.8L288 48.3L289 49.1L290.1 50.5L291 52.5L292.1 57.5L292.3 63.5L291.6 69L290 74.5L288.9 76.5L287.5 78.5L286.5 79.4L285 80.1ZM250.5 99.1L249 99.5L247.5 99.2L246 98.1L244.8 96.5L243.9 94.5L243.1 92L242.7 89L242.5 85.5L243.2 79L244.2 75.5L245.2 73L246.5 70.7L248 68.9L249.5 67.9L251 67.5L252.5 67.8L253.5 68.4L254.5 69.5L255.7 71.5L257.1 76L257.5 81.5L256.9 87.5L255.3 93L253 97L252 98.1L250.5 99.1Z"/>
<path fill="#559fce" d="M285 79.1L283.5 79L282.5 78.5L281.4 77.5L280.3 75.5L279 70.5L278.7 64.5L279.6 58.5L281.3 53.5L282.5 51.4L283.7 50L285 49.1L286.5 48.9L288 49.4L289 50.3L290.7 53.5L291.7 58L291.9 63.5L291.2 69L289.6 74L287.5 77.4L286.5 78.3L285 79.1ZM249.5 98.6L248 98.5L246.5 97.6L245.5 96.5L244.5 94.7L243.2 90L243 84L243.9 78L245.7 73L248 69.8L249.5 68.8L251 68.4L252.5 68.7L253.5 69.4L254.5 70.5L255.6 72.5L256.8 77.5L257 83L256.3 88.5L254.5 93.5L253.4 95.5L252 97.2L250.5 98.2L249.5 98.6Z"/>
<path fill="#4e9acb" d="M285 78.1L283.5 78L282.5 77.4L281.5 76.3L280.5 74.5L279.4 70L279.2 64.5L279.9 59L281.6 54L282.9 52L284 50.8L285 50.1L286.5 49.9L287.5 50.2L288.5 50.9L289.5 52.3L290.3 54L291.3 58.5L291.4 63.5L290.7 69L289.2 73.5L287.3 76.5L286 77.7L285 78.1ZM250 97.6L248.5 97.8L247.5 97.4L246 96.1L245 94.5L243.6 90L243.3 84.5L244 79L245.7 74L248 70.6L249.5 69.6L251 69.2L252.5 69.6L253.5 70.3L255.2 73L256.4 77.5L256.7 82.5L256.1 87.5L254.5 92.5L252.5 95.8L251.5 96.8L250 97.6Z"/>
<path fill="#4795c8" d="M285 77.1L284 77.1L282.7 76.5L281.8 75.5L280.9 74L279.8 69.5L279.6 64L280.4 59L282 54.5L284 51.8L285 51.1L286.5 50.8L287.5 51.2L288.5 52.1L290 54.9L290.9 59L291 63.5L290.4 68.5L289 72.7L287 75.9L285 77.1ZM249.5 97L248 96.8L247 96.3L246 95.2L245.1 93.5L243.9 89L243.7 84L244.5 78.5L246.2 74L247.5 72L248.5 71L249.5 70.3L251 70L252 70.2L253.3 71L255 73.7L256.1 78L256.3 83L255.6 88L254.1 92.5L252 95.6L251 96.4L249.5 97Z"/>
<path fill="#4090c5" d="M285.5 76L284.5 76.2L283.5 76L282.5 75.3L281.5 73.8L280.3 70L280 65.5L280.5 60.5L281.8 56L282.9 54L284 52.7L285 52L286 51.8L287 51.9L288 52.6L289.5 55L290.4 58.5L290.6 62.5L290.2 67L289 71.5L287.5 74.3L285.5 76ZM250 96.2L248.5 96.3L247.5 95.8L246.5 94.9L245.6 93.5L244.3 89.5L244 84.5L244.8 79L246.4 74.5L248.5 71.7L250 70.8L251 70.7L252 70.9L253 71.6L254.7 74L255.8 78L256 82.5L255.4 87.5L254.1 91.5L252 94.8L250 96.2Z"/>
<path fill="#3a8ac2" d="M285.5 75.1L284.5 75.3L283.5 75L282.5 74.2L281.8 73L280.7 69.5L280.4 65L280.9 60.5L282.1 56.5L284 53.7L285 52.9L286 52.7L287.5 53.2L289.1 55.5L290 59L290.2 63L289.8 67L288.7 71L287 73.9L285.5 75.1ZM249.5 95.6L248.5 95.5L247.4 95L246.5 94L245.5 92.3L244.5 88.5L244.4 83.5L245.1 79L246.6 75L248.5 72.4L249.5 71.7L251 71.4L252 71.6L253 72.4L254.6 75L255.5 79L255.6 83.5L254.9 88L253.5 91.8L251.5 94.6L249.5 95.6Z"/>
<path fill="#3484bf" d="M285.5 74.2L284.5 74.4L283.5 74L282 72.2L281 69L280.8 65L281.3 60.5L282.5 56.9L284 54.6L285 53.9L286 53.6L287.5 54.3L288.9 56.5L289.6 59.5L289.8 63L289.5 66.5L288.5 70.2L287 72.9L285.5 74.2ZM250.5 94.6L249.5 94.9L248.5 94.8L247.5 94.3L246.4 93L245.1 89.5L244.6 84.5L245.3 79.5L246.8 75.5L248 73.6L249 72.7L250 72.2L251 72.1L252 72.4L252.8 73L254.1 75L255.1 78.5L255.4 82.5L254.9 86.5L253.9 90L252.5 92.7L250.5 94.6Z"/>
<path fill="#2e7ebc" d="M285.5 73.3L284 73.3L282.5 71.8L281.5 69L281.2 65L281.6 61L282.8 57.5L284.5 55.1L286 54.6L287.5 55.3L288.5 57L289.2 59.5L289.4 63L289.1 66.5L288.3 69.5L287 71.9L285.5 73.3ZM250 94.2L249 94.3L248 93.9L246.3 92L245.2 88.5L245 84L245.6 79.5L247 75.9L249 73.4L250 72.8L251 72.7L252.6 73.5L254.1 76L254.9 79L255 83L254.6 86.5L253.5 90.1L252 92.6L251 93.6L250 94.2Z"/>
<path fill="#2878b9" d="M285.5 72.3L284 72.3L283.1 71.5L282.5 70.5L281.8 68L281.6 64.5L282 61.3L283 58.2L284.5 56.1L286 55.5L287.5 56.5L288.3 58L288.9 60.5L289 63.5L288.6 66.5L287.9 69L286.9 71L285.5 72.3ZM249.5 93.6L248.5 93.5L247.7 93L246.3 91L245.4 87.5L245.3 83.5L246 79.5L247.4 76L249 74L250 73.5L251 73.4L252.5 74.2L253.9 76.5L254.6 79.5L254.7 83.5L254 87.5L252.9 90.5L251.5 92.5L250.5 93.3L249.5 93.6Z"/>
<path fill="#2272b6" d="M285.5 71.3L284.5 71.4L284 71.2L283 70L282.2 67.5L282 64.5L282.5 61.2L283.5 58.5L284.5 57.1L286 56.5L287 57.1L288 58.9L288.5 61L288.6 63.5L288.2 66.5L287.5 68.7L286.5 70.5L285.5 71.3ZM250.5 92.6L249.5 92.9L248.5 92.8L247 91.3L245.9 88.5L245.6 85L246 81L247 77.6L248.5 75.2L249.5 74.4L250.5 74.1L252 74.5L253.2 76L254.1 78.5L254.4 82L254.1 85.5L253.4 88.5L252 91.2L250.5 92.6Z"/>
<path fill="#1d6cb1" d="M285.5 70.2L284.5 70.3L283.5 69.4L282.8 67.5L282.5 65L282.7 62.5L283.4 60L284.5 58.2L285.5 57.6L286.5 57.9L287.3 59L287.9 61L288.1 63L287.9 65.5L287.4 67.5L286.5 69.3L285.5 70.2ZM250 92.2L248.5 92.1L247 90.4L246.1 87.5L245.9 84.5L246.4 80.5L247.4 77.5L249 75.4L250.5 74.7L252 75.3L253 76.6L253.9 79.5L254.1 82.5L253.8 85.5L253 88.5L251.5 91.1L250 92.2Z"/>
<path fill="#1966ad" d="M285 69.1L284 68.6L283.5 67.6L283.1 66L283.1 64L283.4 62L284 60.3L284.5 59.5L285.5 58.9L286.5 59.3L287 60.1L287.5 62L287.5 64L287.2 66L286.5 67.9L286 68.6L285 69.1ZM250 91.5L248.5 91.3L247.1 89.5L246.4 87L246.2 84L246.6 81L247.6 78L249 76.1L250.5 75.4L252 76L253 77.6L253.6 80L253.8 83L253.4 86L252.5 88.7L251.5 90.4L250 91.5Z"/>
<path fill="#1461a8" d="M285 67.6L284.5 67.3L284 66.4L283.8 64L284.5 61.2L285.5 60.4L286 60.6L286.5 61.3L286.8 64L286.2 66.5L285.5 67.4L285 67.6ZM250.5 90.6L249 90.8L247.6 89.5L246.8 87.5L246.5 84.5L246.9 81L247.8 78.5L249 76.8L250.5 76.1L251.6 76.5L252.7 78L253.3 80L253.5 82.5L253.3 85L252.6 87.5L251.6 89.5L250.5 90.6Z"/>
<path fill="#105ba4" d="M250 90.1L249 90.1L248.5 89.8L247.6 88.5L247 86.5L246.9 84L247.2 81.5L248 79.1L249 77.6L250.5 76.8L251.5 77.2L252.5 78.7L253 80.7L253.1 83L252.8 85.5L252 87.9L251 89.4L250 90.1Z"/>
<path fill="#0b559f" d="M250.5 89.1L249.5 89.4L248.2 88.5L247.5 86.8L247.2 84.5L247.5 81.8L248.3 79.5L249.5 77.9L250.5 77.6L251.5 78.1L252.1 79L252.6 80.5L252.8 82.5L252.1 86.5L251.5 87.9L250.5 89.1Z"/>
<path fill="#084f9a" d="M250 88.5L249 88.3L248.3 87.5L247.7 85.5L247.7 83.5L248 81.5L248.6 80L249.5 78.8L250.5 78.5L251.5 79.2L252 80.2L252.3 83.5L251.5 86.9L251 87.7L250 88.5Z"/>
<path fill="#084991" d="M250 87.5L249 87.3L248.5 86.5L248.1 83.5L248.5 81.5L249 80.4L249.5 79.8L250.5 79.4L251.5 80.5L251.9 83.5L251.3 86L250.7 87L250 87.5Z"/>
<path fill="#084388" d="M250 86.3L249.5 86.3L249 85.7L248.7 84L249 81.9L250 80.7L250.5 80.7L251 81.3L251.3 83L251 85.1L250 86.3Z"/>
<path fill="#9ECAE1" d="M251.9 108.3a2 2 0 1 0 4 0a2 2 0 1 0-4 0M241.9 112.3a2 2 0 1 0 4 0a2 2 0 1 0-4 0M257.4 92.0a2 2 0 1 0 4 0a2 2 0 1 0-4 0M239.3 79.0a2 2 0 1 0 4 0a2 2 0 1 0-4 0M292.1 67.2a2 2 0 1 0 4 0a2 2 0 1 0-4 0M274.2 72.0a2 2 0 1 0 4 0a2 2 0 1 0-4 0M274.1 56.9a2 2 0 1 0 4 0a2 2 0 1 0-4 0M290.7 41.9a2 2 0 1 0 4 0a2 2 0 1 0-4 0M248.2 54.3a2 2 0 1 0 4 0a2 2 0 1 0-4 0M256.4 97.8a2 2 0 1 0 4 0a2 2 0 1 0-4 0M242.8 60.2a2 2 0 1 0 4 0a2 2 0 1 0-4 0M257.2 64.2a2 2 0 1 0 4 0a2 2 0 1 0-4 0M293.1 72.8a2 2 0 1 0 4 0a2 2 0 1 0-4 0M276.6 42.8a2 2 0 1 0 4 0a2 2 0 1 0-4 0M245.0 113.7a2 2 0 1 0 4 0a2 2 0 1 0-4 0M273.8 75.7a2 2 0 1 0 4 0a2 2 0 1 0-4 0M279.0 34.0a2 2 0 1 0 4 0a2 2 0 1 0-4 0M275.9 86.1a2 2 0 1 0 4 0a2 2 0 1 0-4 0M247.2 55.7a2 2 0 1 0 4 0a2 2 0 1 0-4 0M245.2 57.5a2 2 0 1 0 4 0a2 2 0 1 0-4 0M277.3 44.2a2 2 0 1 0 4 0a2 2 0 1 0-4 0M249.9 112.4a2 2 0 1 0 4 0a2 2 0 1 0-4 0M256.6 70.8a2 2 0 1 0 4 0a2 2 0 1 0-4 0M243.7 57.6a2 2 0 1 0 4 0a2 2 0 1 0-4 0M293.3 55.2a2 2 0 1 0 4 0a2 2 0 1 0-4 0M278.1 39.9a2 2 0 1 0 4 0a2 2 0 1 0-4 0M273.0 69.4a2 2 0 1 0 4 0a2 2 0 1 0-4 0M277.6 91.8a2 2 0 1 0 4 0a2 2 0 1 0-4 0M277.5 41.6a2 2 0 1 0 4 0a2 2 0 1 0-4 0M237.9 97.8a2 2 0 1 0 4 0a2 2 0 1 0-4 0M272.9 55.7a2 2 0 1 0 4 0a2 2 0 1 0-4 0M289.6 29.7a2 2 0 1 0 4 0a2 2 0 1 0-4 0M277.6 42.5a2 2 0 1 0 4 0a2 2 0 1 0-4 0M240.8 70.0a2 2 0 1 0 4 0a2 2 0 1 0-4 0M247.1 53.2a2 2 0 1 0 4 0a2 2 0 1 0-4 0M255.6 54.8a2 2 0 1 0 4 0a2 2 0 1 0-4 0M285.8 32.7a2 2 0 1 0 4 0a2 2 0 1 0-4 0M285.2 93.7a2 2 0 1 0 4 0a2 2 0 1 0-4 0M238.3 85.5a2 2 0 1 0 4 0a2 2 0 1 0-4 0M248.4 51.0a2 2 0 1 0 4 0a2 2 0 1 0-4 0M243.8 114.4a2 2 0 1 0 4 0a2 2 0 1 0-4 0M241.4 113.9a2 2 0 1 0 4 0a2 2 0 1 0-4 0M291.9 73.8a2 2 0 1 0 4 0a2 2 0 1 0-4 0M275.0 93.2a2 2 0 1 0 4 0a2 2 0 1 0-4 0M245.9 112.6a2 2 0 1 0 4 0a2 2 0 1 0-4 0M291.1 79.5a2 2 0 1 0 4 0a2 2 0 1 0-4 0M274.4 64.5a2 2 0 1 0 4 0a2 2 0 1 0-4 0M274.1 76.9a2 2 0 1 0 4 0a2 2 0 1 0-4 0M278.5 40.3a2 2 0 1 0 4 0a2 2 0 1 0-4 0M248.1 49.9a2 2 0 1 0 4 0a2 2 0 1 0-4 0M255.2 96.4a2 2 0 1 0 4 0a2 2 0 1 0-4 0M240.9 60.7a2 2 0 1 0 4 0a2 2 0 1 0-4 0M281.2 28.6a2 2 0 1 0 4 0a2 2 0 1 0-4 0M291.4 75.8a2 2 0 1 0 4 0a2 2 0 1 0-4 0M237.9 96.5a2 2 0 1 0 4 0a2 2 0 1 0-4 0M273.6 60.1a2 2 0 1 0 4 0a2 2 0 1 0-4 0M273.3 75.7a2 2 0 1 0 4 0a2 2 0 1 0-4 0M281.0 27.5a2 2 0 1 0 4 0a2 2 0 1 0-4 0M277.7 39.9a2 2 0 1 0 4 0a2 2 0 1 0-4 0M287.8 31.7a2 2 0 1 0 4 0a2 2 0 1 0-4 0M293.2 44.7a2 2 0 1 0 4 0a2 2 0 1 0-4 0M291.5 77.5a2 2 0 1 0 4 0a2 2 0 1 0-4 0M257.7 82.3a2 2 0 1 0 4 0a2 2 0 1 0-4 0M292.3 57.1a2 2 0 1 0 4 0a2 2 0 1 0-4 0M253.6 57.0a2 2 0 1 0 4 0a2 2 0 1 0-4 0M289.8 83.3a2 2 0 1 0 4 0a2 2 0 1 0-4 0M292.3 45.3a2 2 0 1 0 4 0a2 2 0 1 0-4 0M242.9 55.3a2 2 0 1 0 4 0a2 2 0 1 0-4 0M246.9 51.4a2 2 0 1 0 4 0a2 2 0 1 0-4 0M277.5 38.2a2 2 0 1 0 4 0a2 2 0 1 0-4 0M274.2 61.6a2 2 0 1 0 4 0a2 2 0 1 0-4 0M238.5 83.5a2 2 0 1 0 4 0a2 2 0 1 0-4 0M239.3 77.0a2 2 0 1 0 4 0a2 2 0 1 0-4 0M273.6 65.9a2 2 0 1 0 4 0a2 2 0 1 0-4 0M273.6 59.8a2 2 0 1 0 4 0a2 2 0 1 0-4 0M251.3 115.3a2 2 0 1 0 4 0a2 2 0 1 0-4 0M240.1 74.8a2 2 0 1 0 4 0a2 2 0 1 0-4 0M291.2 44.0a2 2 0 1 0 4 0a2 2 0 1 0-4 0M255.8 96.6a2 2 0 1 0 4 0a2 2 0 1 0-4 0M291.0 77.3a2 2 0 1 0 4 0a2 2 0 1 0-4 0M245.0 56.3a2 2 0 1 0 4 0a2 2 0 1 0-4 0M289.2 28.2a2 2 0 1 0 4 0a2 2 0 1 0-4 0M292.3 48.5a2 2 0 1 0 4 0a2 2 0 1 0-4 0M281.6 34.3a2 2 0 1 0 4 0a2 2 0 1 0-4 0M239.0 80.7a2 2 0 1 0 4 0a2 2 0 1 0-4 0M283.5 33.2a2 2 0 1 0 4 0a2 2 0 1 0-4 0M275.0 89.5a2 2 0 1 0 4 0a2 2 0 1 0-4 0M239.3 99.9a2 2 0 1 0 4 0a2 2 0 1 0-4 0M252.8 108.4a2 2 0 1 0 4 0a2 2 0 1 0-4 0M254.3 60.1a2 2 0 1 0 4 0a2 2 0 1 0-4 0M274.7 83.0a2 2 0 1 0 4 0a2 2 0 1 0-4 0M240.0 74.4a2 2 0 1 0 4 0a2 2 0 1 0-4 0M291.9 50.3a2 2 0 1 0 4 0a2 2 0 1 0-4 0M257.1 84.4a2 2 0 1 0 4 0a2 2 0 1 0-4 0M242.9 60.1a2 2 0 1 0 4 0a2 2 0 1 0-4 0M272.4 68.3a2 2 0 1 0 4 0a2 2 0 1 0-4 0M241.4 67.2a2 2 0 1 0 4 0a2 2 0 1 0-4 0M255.4 57.9a2 2 0 1 0 4 0a2 2 0 1 0-4 0M274.5 46.2a2 2 0 1 0 4 0a2 2 0 1 0-4 0M258.4 78.6a2 2 0 1 0 4 0a2 2 0 1 0-4 0M274.0 58.8a2 2 0 1 0 4 0a2 2 0 1 0-4 0M254.1 102.6a2 2 0 1 0 4 0a2 2 0 1 0-4 0M254.1 59.8a2 2 0 1 0 4 0a2 2 0 1 0-4 0M292.2 51.5a2 2 0 1 0 4 0a2 2 0 1 0-4 0M251.7 52.8a2 2 0 1 0 4 0a2 2 0 1 0-4 0M239.9 69.0a2 2 0 1 0 4 0a2 2 0 1 0-4 0M239.3 97.0a2 2 0 1 0 4 0a2 2 0 1 0-4 0M254.5 101.6a2 2 0 1 0 4 0a2 2 0 1 0-4 0M276.3 87.2a2 2 0 1 0 4 0a2 2 0 1 0-4 0M274.1 55.0a2 2 0 1 0 4 0a2 2 0 1 0-4 0M284.3 29.7a2 2 0 1 0 4 0a2 2 0 1 0-4 0M292.8 49.6a2 2 0 1 0 4 0a2 2 0 1 0-4 0M242.8 61.9a2 2 0 1 0 4 0a2 2 0 1 0-4 0M292.3 62.3a2 2 0 1 0 4 0a2 2 0 1 0-4 0M256.8 72.2a2 2 0 1 0 4 0a2 2 0 1 0-4 0M292.8 63.1a2 2 0 1 0 4 0a2 2 0 1 0-4 0M254.4 105.8a2 2 0 1 0 4 0a2 2 0 1 0-4 0M250.2 54.0a2 2 0 1 0 4 0a2 2 0 1 0-4 0M239.9 100.9a2 2 0 1 0 4 0a2 2 0 1 0-4 0M251.5 53.2a2 2 0 1 0 4 0a2 2 0 1 0-4 0M279.1 38.7a2 2 0 1 0 4 0a2 2 0 1 0-4 0M274.8 80.0a2 2 0 1 0 4 0a2 2 0 1 0-4 0M241.1 67.2a2 2 0 1 0 4 0a2 2 0 1 0-4 0M275.6 47.1a2 2 0 1 0 4 0a2 2 0 1 0-4 0M248.4 54.5a2 2 0 1 0 4 0a2 2 0 1 0-4 0M237.8 81.9a2 2 0 1 0 4 0a2 2 0 1 0-4 0M276.9 41.8a2 2 0 1 0 4 0a2 2 0 1 0-4 0M286.6 98.1a2 2 0 1 0 4 0a2 2 0 1 0-4 0M239.4 70.0a2 2 0 1 0 4 0a2 2 0 1 0-4 0M273.7 78.7a2 2 0 1 0 4 0a2 2 0 1 0-4 0M257.6 79.1a2 2 0 1 0 4 0a2 2 0 1 0-4 0M241.0 69.4a2 2 0 1 0 4 0a2 2 0 1 0-4 0M283.2 30.6a2 2 0 1 0 4 0a2 2 0 1 0-4 0M254.0 57.7a2 2 0 1 0 4 0a2 2 0 1 0-4 0M254.6 99.2a2 2 0 1 0 4 0a2 2 0 1 0-4 0M285.5 29.6a2 2 0 1 0 4 0a2 2 0 1 0-4 0M255.6 61.0a2 2 0 1 0 4 0a2 2 0 1 0-4 0M249.6 55.0a2 2 0 1 0 4 0a2 2 0 1 0-4 0M253.0 109.0a2 2 0 1 0 4 0a2 2 0 1 0-4 0M289.4 86.8a2 2 0 1 0 4 0a2 2 0 1 0-4 0M290.5 86.7a2 2 0 1 0 4 0a2 2 0 1 0-4 0M274.5 58.1a2 2 0 1 0 4 0a2 2 0 1 0-4 0M292.3 48.7a2 2 0 1 0 4 0a2 2 0 1 0-4 0M285.0 32.6a2 2 0 1 0 4 0a2 2 0 1 0-4 0M253.9 59.5a2 2 0 1 0 4 0a2 2 0 1 0-4 0M254.3 100.5a2 2 0 1 0 4 0a2 2 0 1 0-4 0M256.7 88.1a2 2 0 1 0 4 0a2 2 0 1 0-4 0M281.4 98.6a2 2 0 1 0 4 0a2 2 0 1 0-4 0M239.1 84.0a2 2 0 1 0 4 0a2 2 0 1 0-4 0M242.3 63.7a2 2 0 1 0 4 0a2 2 0 1 0-4 0M287.5 33.2a2 2 0 1 0 4 0a2 2 0 1 0-4 0M287.0 94.2a2 2 0 1 0 4 0a2 2 0 1 0-4 0M240.4 70.6a2 2 0 1 0 4 0a2 2 0 1 0-4 0M249.8 110.3a2 2 0 1 0 4 0a2 2 0 1 0-4 0M291.5 43.9a2 2 0 1 0 4 0a2 2 0 1 0-4 0M239.0 97.8a2 2 0 1 0 4 0a2 2 0 1 0-4 0M274.1 67.1a2 2 0 1 0 4 0a2 2 0 1 0-4 0M254.7 100.8a2 2 0 1 0 4 0a2 2 0 1 0-4 0M281.9 33.7a2 2 0 1 0 4 0a2 2 0 1 0-4 0M249.7 53.7a2 2 0 1 0 4 0a2 2 0 1 0-4 0M243.3 112.5a2 2 0 1 0 4 0a2 2 0 1 0-4 0M283.3 32.7a2 2 0 1 0 4 0a2 2 0 1 0-4 0M243.3 113.5a2 2 0 1 0 4 0a2 2 0 1 0-4 0M278.6 99.3a2 2 0 1 0 4 0a2 2 0 1 0-4 0M273.5 76.8a2 2 0 1 0 4 0a2 2 0 1 0-4 0M285.0 32.0a2 2 0 1 0 4 0a2 2 0 1 0-4 0M292.5 75.4a2 2 0 1 0 4 0a2 2 0 1 0-4 0M241.6 106.2a2 2 0 1 0 4 0a2 2 0 1 0-4 0M285.8 30.7a2 2 0 1 0 4 0a2 2 0 1 0-4 0M273.5 69.6a2 2 0 1 0 4 0a2 2 0 1 0-4 0M288.3 88.7a2 2 0 1 0 4 0a2 2 0 1 0-4 0M239.1 71.6a2 2 0 1 0 4 0a2 2 0 1 0-4 0M245.5 116.0a2 2 0 1 0 4 0a2 2 0 1 0-4 0M256.6 66.8a2 2 0 1 0 4 0a2 2 0 1 0-4 0M287.3 33.0a2 2 0 1 0 4 0a2 2 0 1 0-4 0M243.0 61.7a2 2 0 1 0 4 0a2 2 0 1 0-4 0M280.4 32.9a2 2 0 1 0 4 0a2 2 0 1 0-4 0M257.1 70.8a2 2 0 1 0 4 0a2 2 0 1 0-4 0M292.5 61.1a2 2 0 1 0 4 0a2 2 0 1 0-4 0M255.2 62.3a2 2 0 1 0 4 0a2 2 0 1 0-4 0M246.4 54.8a2 2 0 1 0 4 0a2 2 0 1 0-4 0M274.2 63.8a2 2 0 1 0 4 0a2 2 0 1 0-4 0M276.0 41.3a2 2 0 1 0 4 0a2 2 0 1 0-4 0M276.5 89.8a2 2 0 1 0 4 0a2 2 0 1 0-4 0M240.3 106.3a2 2 0 1 0 4 0a2 2 0 1 0-4 0M249.8 110.5a2 2 0 1 0 4 0a2 2 0 1 0-4 0M288.0 35.4a2 2 0 1 0 4 0a2 2 0 1 0-4 0M292.0 68.1a2 2 0 1 0 4 0a2 2 0 1 0-4 0M242.5 110.7a2 2 0 1 0 4 0a2 2 0 1 0-4 0M277.1 42.3a2 2 0 1 0 4 0a2 2 0 1 0-4 0M245.2 53.0a2 2 0 1 0 4 0a2 2 0 1 0-4 0M274.2 78.1a2 2 0 1 0 4 0a2 2 0 1 0-4 0M278.0 93.1a2 2 0 1 0 4 0a2 2 0 1 0-4 0M253.8 105.0a2 2 0 1 0 4 0a2 2 0 1 0-4 0M278.3 39.5a2 2 0 1 0 4 0a2 2 0 1 0-4 0M239.2 91.7a2 2 0 1 0 4 0a2 2 0 1 0-4 0M254.2 58.1a2 2 0 1 0 4 0a2 2 0 1 0-4 0M284.1 32.7a2 2 0 1 0 4 0a2 2 0 1 0-4 0M275.0 46.5a2 2 0 1 0 4 0a2 2 0 1 0-4 0M256.5 87.3a2 2 0 1 0 4 0a2 2 0 1 0-4 0M274.6 86.3a2 2 0 1 0 4 0a2 2 0 1 0-4 0M279.7 30.6a2 2 0 1 0 4 0a2 2 0 1 0-4 0M288.8 86.7a2 2 0 1 0 4 0a2 2 0 1 0-4 0M248.9 111.5a2 2 0 1 0 4 0a2 2 0 1 0-4 0M257.1 83.0a2 2 0 1 0 4 0a2 2 0 1 0-4 0M293.9 44.7a2 2 0 1 0 4 0a2 2 0 1 0-4 0M249.2 114.9a2 2 0 1 0 4 0a2 2 0 1 0-4 0M273.6 68.7a2 2 0 1 0 4 0a2 2 0 1 0-4 0M256.6 62.9a2 2 0 1 0 4 0a2 2 0 1 0-4 0M242.8 112.8a2 2 0 1 0 4 0a2 2 0 1 0-4 0M254.2 105.9a2 2 0 1 0 4 0a2 2 0 1 0-4 0M249.5 54.1a2 2 0 1 0 4 0a2 2 0 1 0-4 0M278.6 94.6a2 2 0 1 0 4 0a2 2 0 1 0-4 0M293.0 66.2a2 2 0 1 0 4 0a2 2 0 1 0-4 0M256.7 90.5a2 2 0 1 0 4 0a2 2 0 1 0-4 0M243.2 117.2a2 2 0 1 0 4 0a2 2 0 1 0-4 0M275.4 46.9a2 2 0 1 0 4 0a2 2 0 1 0-4 0M257.6 92.2a2 2 0 1 0 4 0a2 2 0 1 0-4 0M244.3 58.4a2 2 0 1 0 4 0a2 2 0 1 0-4 0M288.3 32.1a2 2 0 1 0 4 0a2 2 0 1 0-4 0M277.1 92.5a2 2 0 1 0 4 0a2 2 0 1 0-4 0M293.3 50.3a2 2 0 1 0 4 0a2 2 0 1 0-4 0M253.1 110.6a2 2 0 1 0 4 0a2 2 0 1 0-4 0M274.7 54.4a2 2 0 1 0 4 0a2 2 0 1 0-4 0M257.3 83.6a2 2 0 1 0 4 0a2 2 0 1 0-4 0M275.3 53.7a2 2 0 1 0 4 0a2 2 0 1 0-4 0M281.6 33.4a2 2 0 1 0 4 0a2 2 0 1 0-4 0M240.0 103.0a2 2 0 1 0 4 0a2 2 0 1 0-4 0M239.9 103.1a2 2 0 1 0 4 0a2 2 0 1 0-4 0M243.7 112.0a2 2 0 1 0 4 0a2 2 0 1 0-4 0M238.8 78.4a2 2 0 1 0 4 0a2 2 0 1 0-4 0M239.2 80.5a2 2 0 1 0 4 0a2 2 0 1 0-4 0M253.5 104.6a2 2 0 1 0 4 0a2 2 0 1 0-4 0M286.8 94.2a2 2 0 1 0 4 0a2 2 0 1 0-4 0M285.2 32.6a2 2 0 1 0 4 0a2 2 0 1 0-4 0M255.4 98.0a2 2 0 1 0 4 0a2 2 0 1 0-4 0M289.0 88.5a2 2 0 1 0 4 0a2 2 0 1 0-4 0M278.1 96.9a2 2 0 1 0 4 0a2 2 0 1 0-4 0M286.4 31.9a2 2 0 1 0 4 0a2 2 0 1 0-4 0M286.5 33.5a2 2 0 1 0 4 0a2 2 0 1 0-4 0M245.4 113.0a2 2 0 1 0 4 0a2 2 0 1 0-4 0M242.4 128.0a2 2 0 1 0 4 0a2 2 0 1 0-4 0M280.0 105.5a2 2 0 1 0 4 0a2 2 0 1 0-4 0M289.0 99.7a2 2 0 1 0 4 0a2 2 0 1 0-4 0M281.0 25.5a2 2 0 1 0 4 0a2 2 0 1 0-4 0M283.0 25.5a2 2 0 1 0 4 0a2 2 0 1 0-4 0M285.0 25.5a2 2 0 1 0 4 0a2 2 0 1 0-4 0M288.0 25.5a2 2 0 1 0 4 0a2 2 0 1 0-4 0M250.0 50.0a2 2 0 1 0 4 0a2 2 0 1 0-4 0M253.0 50.0a2 2 0 1 0 4 0a2 2 0 1 0-4 0"/>
<line x1="203.5" y1="107.5" x2="334.5" y2="39.7" stroke="#bcbcbc" stroke-width="0.7"/>
</g>
<rect x="203.5" y="22.5" width="131.0" height="110.0" fill="none" stroke="#999" stroke-width="1"/>
<line x1="221.5" y1="132.5" x2="221.5" y2="136.0" stroke="#aaa" stroke-width="1"/>
<text x="221.5" y="145.8" text-anchor="middle" font-size="8.7">60</text>
<line x1="255.2" y1="132.5" x2="255.2" y2="136.0" stroke="#aaa" stroke-width="1"/>
<text x="255.2" y="145.8" text-anchor="middle" font-size="8.7">65</text>
<line x1="288.8" y1="132.5" x2="288.8" y2="136.0" stroke="#aaa" stroke-width="1"/>
<text x="288.8" y="145.8" text-anchor="middle" font-size="8.7">70</text>
<line x1="322.5" y1="132.5" x2="322.5" y2="136.0" stroke="#aaa" stroke-width="1"/>
<text x="322.5" y="145.8" text-anchor="middle" font-size="8.7">75</text>
<line x1="200.0" y1="114.3" x2="203.5" y2="114.3" stroke="#aaa" stroke-width="1"/>
<text x="198.0" y="117.5" text-anchor="end" font-size="8.7">55</text>
<line x1="200.0" y1="96.7" x2="203.5" y2="96.7" stroke="#aaa" stroke-width="1"/>
<text x="198.0" y="99.9" text-anchor="end" font-size="8.7">60</text>
<line x1="200.0" y1="79.1" x2="203.5" y2="79.1" stroke="#aaa" stroke-width="1"/>
<text x="198.0" y="82.3" text-anchor="end" font-size="8.7">65</text>
<line x1="200.0" y1="61.5" x2="203.5" y2="61.5" stroke="#aaa" stroke-width="1"/>
<text x="198.0" y="64.7" text-anchor="end" font-size="8.7">70</text>
<line x1="200.0" y1="43.9" x2="203.5" y2="43.9" stroke="#aaa" stroke-width="1"/>
<text x="198.0" y="47.1" text-anchor="end" font-size="8.7">75</text>
<line x1="200.0" y1="26.3" x2="203.5" y2="26.3" stroke="#aaa" stroke-width="1"/>
<text x="198.0" y="29.5" text-anchor="end" font-size="8.7">80</text>
<text transform="translate(180.1,78.3) rotate(-90)" text-anchor="middle" font-size="8.8">Actual HGT</text>
<text x="272.0" y="12.3" text-anchor="middle" font-size="8.66">UK Biobank (<tspan font-style="italic">N</tspan> = 30 K)</text>
<text x="172.4" y="11.0" font-weight="bold" font-size="15.3" fill="#000">b</text>
<text x="272.0" y="159.5" text-anchor="middle" font-size="8.68">Predicted HGT using LDpred+MTAG</text>
<text x="272.0" y="178.0" text-anchor="middle"><tspan font-style="italic">R</tspan><tspan font-size="6.3" dy="-1.9" dx="0.5">2</tspan><tspan dy="1.9"> = 11.3%</tspan></text>
<text x="272.0" y="187.8" text-anchor="middle">(<tspan font-style="italic" dx="0.8">R</tspan><tspan font-size="6.3" dy="-2.4" dx="0.5">2</tspan><tspan font-size="6.3" font-style="italic" dy="5.4" dx="0.5">m</tspan><tspan dy="-3.0" dx="0.8">= 10.4%, </tspan><tspan font-style="italic">R</tspan><tspan font-size="6.3" dy="-2.4" dx="0.5">2</tspan><tspan font-size="6.3" font-style="italic" dy="5.4" dx="0.5">w</tspan><tspan dy="-3.0" dx="0.8">=12.2%)</tspan></text>
<clipPath id="c2"><rect x="376.5" y="22.5" width="131.0" height="110.0"/></clipPath>
<g clip-path="url(#c2)">
<path fill="#9cc9e1" d="M422.5 105.6L414 105.9L407 105.5L407 103L403.9 102.5L403.9 100L402.1 99.5L402.1 97L400.9 96.5L400.9 94L400.2 93.5L400.2 91L399.8 90.5L399.8 85L400.1 84.5L400.1 82L400.6 81.5L400.6 79L401.4 78.5L401.4 76L402.6 75.5L402.6 73L404 72.5L404 70L405.9 69.5L405.9 67L408.4 66.5L408.4 64.5L411.7 64L411.7 61.5L417.5 61L417.5 58.5L426 58.5L426.3 58.5L426.3 61L431.2 61.5L431.2 64L433.7 64.5L433.7 66.5L435.6 67L435.6 69.5L437.5 69.8L438 69.5L438 67L438.7 66.5L438.7 64.5L439.3 64L439.3 61.5L440.1 61L440.1 58.5L441.2 58L441.2 55.5L442.6 55L442.6 52.5L444.3 52L444.3 49.5L446.5 49L446.5 46.5L449.4 46L449.4 43.5L453.8 43L453.8 40.5L460 40.2L466.2 40.5L466.2 43L469.7 43.5L469.7 46L471.8 46.5L471.8 49L473.1 49.5L473.1 52L473.9 52.5L473.9 55L474.4 55.5L474.6 58.5L474.5 64L474.2 64.5L474.2 66.5L473.6 67L473.6 69.5L472.7 70L472.7 72.5L471.6 73L471.6 75.5L470.1 76L470.1 78.5L468.3 79L468.3 81.5L465.9 82L465.9 84.5L462.6 85L462.6 87.5L456.9 88L456.9 90.5L449.3 90.5L449.3 88L444.4 87.5L444.4 85L441.9 84.5L441.9 82L440.1 81.5L440.1 79L438.5 78.6L437.5 78.8L437.3 79L437.3 81.5L436.5 82L436.5 84.5L435.8 85L435.8 87.5L434.7 88L434.7 90.5L433.4 91L433.4 93.5L431.8 94L431.8 96.5L429.7 97L429.7 99.5L426.9 100L426.9 102.5L422.9 103L422.9 105.5L422.5 105.6Z"/>
<path fill="#90c2de" d="M459 84.5L454 84.8L448.8 84.5L448.8 82L445.6 81.5L445.6 79L443.9 78.5L443.9 76L442.9 75.5L442.9 73L442.4 72.5L442.3 69.5L442.5 64.5L443.1 64L443.1 61.5L444 61L444 58.5L445.2 58L445.2 55.5L446.8 55L446.8 52.5L449.1 52L449.1 49.5L452.5 49L452.5 46.5L459.5 46.1L465.7 46.5L465.7 49L468.2 49.5L468.2 52L469.7 52.5L469.7 55L470.5 55.5L470.5 58L470.8 58.5L470.8 64L470.5 64.5L470.5 66.5L469.9 67L469.9 69.5L468.9 70L468.9 72.5L467.5 73L467.5 75.5L465.7 76L465.7 78.5L463.1 79L463.1 81.5L459.1 82L459 84.5ZM420 102.5L415 102.7L410.7 102.5L410.7 100L406.9 99.5L406.9 97L405 96.5L405 94L403.9 93.5L403.9 91L403.3 90.5L403.2 85L403.4 84.5L403.4 82L404 81.5L404 79L404.9 78.5L404.9 76L406.2 75.5L406.2 73L408 72.5L408 70L410.4 69.5L410.4 67L414 66.5L414 64.5L421.5 64.1L427.9 64.5L427.9 66.5L430.6 67L430.6 69.5L432.2 70L432.2 72.5L433 73L433 75.5L433.4 76L433.4 78.5L433.4 81.5L433 82L433 84.5L432.3 85L432.3 87.5L431.2 88L431.2 90.5L429.7 91L429.7 93.5L427.7 94L427.7 96.5L424.9 97L424.9 99.5L420.2 100L420 102.5Z"/>
<path fill="#87bddc" d="M459.5 81.5L454 81.8L449.2 81.5L449.2 79L446.5 78.5L446.5 76L445.2 75.5L445.2 73L444.5 72.5L444.5 70L444.3 69.5L444.5 64.5L445 64L445 61.5L446 61L446 58.5L447.3 58L447.3 55.5L449.3 55L449.3 52.5L452.2 52L452.2 49.5L459 49L465.1 49.5L465.1 52L467.2 52.5L467.2 55L468.3 55.5L468.3 58L468.8 58.5L468.9 64L468.6 64.5L468.6 66.5L467.9 67L467.9 69.5L466.8 70L466.8 72.5L465.3 73L465.3 75.5L463.1 76L463.1 78.5L459.5 79L459.5 81.5ZM421.5 99.5L415.5 99.8L410.1 99.5L410.1 97L407.3 96.5L407.3 94L405.9 93.5L405.9 91L405.1 90.5L405.1 88L404.9 87.5L405.1 82L405.7 81.5L405.7 79L406.6 78.5L406.6 76L408.1 75.5L408.1 73L410.1 72.5L410.1 70L413.1 69.5L413.1 67L419.8 66.5L419.8 64.5L422.1 64.5L422.1 66.5L427.9 67L427.9 69.5L430 70L430 72.5L431.1 73L431.1 75.5L431.6 76L431.7 81.5L431.3 82L431.3 84.5L430.6 85L430.6 87.5L429.4 88L429.4 90.5L427.8 91L427.8 93.5L425.4 94L425.4 96.5L421.7 97L421.7 99.5L421.5 99.5Z"/>
<path fill="#7eb8da" d="M461 78.5L454.5 79L448.6 78.5L448.6 76L446.8 75.5L446.8 73L445.9 72.5L445.9 70L445.6 69.5L445.7 64.5L446.3 64L446.3 61.5L447.3 61L447.3 58.5L448.8 58L448.8 55.5L451.1 55L451.1 52.5L455.2 52L455.2 49.5L462.2 49.5L462.2 52L465.4 52.5L465.4 55L466.8 55.5L466.8 58L467.5 58.5L467.6 64L467.3 64.5L467.3 66.5L466.6 67L466.6 69.5L465.4 70L465.4 72.5L463.7 73L463.7 75.5L461 76L461 78.5ZM418 99.5L413.5 99.5L413.5 97L409 96.5L409 94L407.2 93.5L407.2 91L406.3 90.5L406.3 88L406 87.5L406.2 82L406.8 81.5L406.8 79L407.8 78.5L407.8 76L409.3 75.5L409.3 73L411.6 72.5L411.6 70L415.2 69.5L415.2 67L420.5 66.7L425.8 67L425.8 69.5L428.5 70L428.5 72.5L429.8 73L429.8 75.5L430.5 76L430.6 79L430.2 84.5L429.4 85L429.4 87.5L428.2 88L428.2 90.5L426.4 91L426.4 93.5L423.7 94L423.7 96.5L418.3 97L418.3 99.5L418 99.5Z"/>
<path fill="#75b3d8" d="M459 78.5L454.5 78.8L450.5 78.5L450.5 76L448.1 75.5L448.1 73L447 72.5L447 70L446.6 69.5L446.6 67L446.8 64.5L447.3 64L447.3 61.5L448.4 61L448.4 58.5L450.1 58L450.1 55.5L452.8 55L452.8 52.5L458.5 52.1L463.7 52.5L463.7 55L465.6 55.5L465.6 58L466.4 58.5L466.6 64L466.3 64.5L466.3 66.5L465.6 67L465.6 69.5L464.3 70L464.3 72.5L462.4 73L462.4 75.5L459.1 76L459 78.5ZM422 96.5L416 96.9L410.5 96.5L410.5 94L408.3 93.5L408.3 91L407.3 90.5L407.3 88L406.9 87.5L407 82L407.6 81.5L407.6 79L408.7 78.5L408.7 76L410.3 75.5L410.3 73L412.8 72.5L412.8 70L417.7 69.5L417.7 67L423.4 67L423.4 69.5L427.3 70L427.3 72.5L428.8 73L428.8 75.5L429.6 76L429.7 81.5L429.4 82L429.4 84.5L428.6 85L428.6 87.5L427.3 88L427.3 90.5L425.3 91L425.3 93.5L422.2 94L422.2 96.5L422 96.5Z"/>
<path fill="#6caed6" d="M456 78.5L453.3 78.5L453.3 76L449.3 75.5L449.3 73L448 72.5L448 70L447.5 69.5L447.6 64.5L448.2 64L448.2 61.5L449.4 61L449.4 58.5L451.2 58L451.2 55.5L454.5 55L454.5 52.5L458.5 52.3L462 52.5L462 55L464.4 55.5L464.4 58L465.4 58.5L465.4 61L465.7 61.5L465.4 66.5L464.7 67L464.7 69.5L463.3 70L463.3 72.5L461.1 73L461.1 75.5L456.3 76L456.3 78.5L456 78.5ZM420.5 96.5L416 96.7L412 96.5L412 94L409.3 93.5L409.3 91L408.1 90.5L408.1 88L407.6 87.5L407.6 85L407.7 82L408.3 81.5L408.3 79L409.5 78.5L409.5 76L411.2 75.5L411.2 73L414 72.5L414 70L420.5 69.6L426.1 70L426.1 72.5L428 73L428 75.5L428.8 76L429 81.5L428.7 82L428.7 84.5L427.9 85L427.9 87.5L426.5 88L426.5 90.5L424.4 91L424.4 93.5L420.7 94L420.7 96.5L420.5 96.5Z"/>
<path fill="#64a9d3" d="M459.5 75.6L454.5 75.9L450.6 75.5L450.6 73L448.9 72.5L448.9 70L448.3 69.5L448.4 64.5L449 64L449 61.5L450.2 61L450.2 58.5L452.3 58L452.3 55.5L457.3 55L457.3 52.5L459.2 52.5L459.2 55L463.4 55.5L463.4 58L464.6 58.5L464.6 61L464.9 61.5L464.7 66.5L463.9 67L463.9 69.5L462.4 70L462.4 72.5L459.9 73L459.9 75.5L459.5 75.6ZM418.5 96.5L413.8 96.5L413.8 94L410.1 93.5L410.1 91L408.8 90.5L408.8 88L408.3 87.5L408.3 82L409 81.5L409 79L410.1 78.5L410.1 76L412 75.5L412 73L415.1 72.5L415.1 70L420.5 69.7L425 70L425 72.5L427.2 73L427.2 75.5L428.1 76L428.4 81.5L428.1 82L428.1 84.5L427.2 85L427.2 87.5L425.8 88L425.8 90.5L423.5 91L423.5 93.5L419 94L419 96.5L418.5 96.5Z"/>
<path fill="#5da4d0" d="M458 75.6L452 75.5L452 73L449.8 72.5L449.8 70L449.1 69.5L449.1 64.5L449.7 64L449.7 61.5L451 61L451 58.5L453.4 58L453.4 55.5L458 55.1L462.2 55.5L462.2 58L463.7 58.5L463.7 61L464.2 61.5L464.2 64L463.9 64.5L463.9 66.5L463.1 67L463.1 69.5L461.5 70L461.5 72.5L458.5 73L458.5 75.5L458 75.6ZM422.5 93.5L416.5 94L411 93.5L411 91L409.4 90.5L409.4 88L408.8 87.5L408.8 85L408.9 82L409.5 81.5L409.5 79L410.7 78.5L410.7 76L412.7 75.5L412.7 73L416.3 72.5L416.3 70L420 69.8L423.8 70L423.8 72.5L426.5 73L426.5 75.5L427.5 76L427.8 81.5L427.5 82L427.5 84.5L426.7 85L426.7 87.5L425.1 88L425.1 90.5L422.7 91L422.5 93.5Z"/>
<path fill="#559fce" d="M456 75.5L454.3 75.5L454.3 73L450.7 72.5L450.7 70L449.8 69.5L449.8 64.5L450.4 64L450.4 61.5L451.9 61L451.9 58.5L454.7 58L454.7 55.5L458 55.3L461 55.5L461 58L462.9 58.5L462.9 61L463.5 61.5L463.3 66.5L462.4 67L462.4 69.5L460.6 70L460.6 72.5L456.2 73L456.2 75.5L456 75.5ZM421.5 93.5L416.5 93.9L411.8 93.5L411.8 91L410 90.5L410 88L409.4 87.5L409.4 82L410 81.5L410 79L411.3 78.5L411.3 76L413.4 75.5L413.4 73L417.9 72.5L417.9 70L422.2 70L422.2 72.5L425.8 73L425.8 75.5L427 76L427.3 81.5L427 82L427 84.5L426.1 85L426.1 87.5L424.5 88L424.5 90.5L421.8 91L421.8 93.5L421.5 93.5Z"/>
<path fill="#4e9acb" d="M459.5 72.5L455.5 72.9L451.6 72.5L451.6 70L450.5 69.5L450.4 64.5L451.1 64L451.1 61.5L452.7 61L452.7 58.5L456.7 58L456.7 55.5L459 55.5L459 58L462.1 58.5L462.1 61L462.8 61.5L462.6 66.5L461.7 67L461.7 69.5L459.7 70L459.7 72.5L459.5 72.5ZM420.5 93.6L416.5 93.8L412.7 93.5L412.7 91L410.6 90.5L410.6 88L409.8 87.5L409.9 82L410.5 81.5L410.5 79L411.8 78.5L411.8 76L414.1 75.5L414.1 73L420 72.5L425.1 73L425.1 75.5L426.4 76L426.4 78.5L426.8 79L426.8 81.5L426.5 82L426.5 84.5L425.6 85L425.6 87.5L424 88L424 90.5L421 91L421 93.5L420.5 93.6Z"/>
<path fill="#4795c8" d="M458.5 72.5L455.5 72.7L452.7 72.5L452.7 70L451.3 69.5L451.1 64.5L451.8 64L451.8 61.5L453.6 61L453.6 58.5L457.5 58.1L461.2 58.5L461.2 61L462.1 61.5L461.9 66.5L460.9 67L460.9 69.5L458.6 70L458.5 72.5ZM419.5 93.5L413.7 93.5L413.7 91L411.1 90.5L411.1 88L410.3 87.5L410.3 82L410.9 81.5L410.9 79L412.3 78.5L412.3 76L414.8 75.5L414.8 73L420 72.6L424.4 73L424.4 75.5L425.9 76L425.9 78.5L426.4 79L426.1 84.5L425.2 85L425.2 87.5L423.4 88L423.4 90.5L420 91L420 93.5L419.5 93.5Z"/>
<path fill="#4090c5" d="M456.5 72.5L454.4 72.5L454.4 70L452 69.5L451.8 64.5L452.5 64L452.5 61.5L454.6 61L454.6 58.5L457.5 58.3L460.2 58.5L460.2 61L461.4 61.5L461.3 66.5L460.2 67L460.2 69.5L457 70L457 72.5L456.5 72.5ZM418.5 93.5L415 93.5L415 91L411.7 90.5L411.7 88L410.8 87.5L410.7 82L411.4 81.5L411.4 79L412.8 78.5L412.8 76L415.5 75.5L415.5 73L420 72.7L423.7 73L423.7 75.5L425.4 76L425.4 78.5L425.9 79L425.7 84.5L424.7 85L424.7 87.5L422.9 88L422.9 90.5L418.7 91L418.5 93.5Z"/>
<path fill="#3a8ac2" d="M459 69.6L455.5 69.9L452.9 69.5L452.9 67L452.5 66.5L452.5 64.5L453.3 64L453.3 61.5L456.2 61L456.2 58.5L458.6 58.5L458.6 61L460.6 61.5L460.6 66.5L459.3 67L459.3 69.5L459 69.6ZM422 90.6L416.5 91L412.3 90.5L412.3 88L411.2 87.5L411.1 82L411.8 81.5L411.8 79L413.3 78.5L413.3 76L416.3 75.5L416.3 73L419.5 72.8L422.8 73L422.8 75.5L425 76L425 78.5L425.5 79L425.3 84.5L424.3 85L424.3 87.5L422.3 88L422.3 90.5L422 90.6Z"/>
<path fill="#3484bf" d="M458 69.5L454 69.5L454 67L453.3 66.5L453.3 64.5L454.2 64L454.2 61.5L457 61.2L459.7 61.5L459.8 66.5L458.2 67L458.2 69.5L458 69.5ZM421.5 90.5L417 90.9L412.8 90.5L412.8 88L411.6 87.5L411.5 82L412.2 81.5L412.2 79L413.8 78.5L413.8 76L417.3 75.5L417.3 73L421.9 73L421.9 75.5L424.5 76L424.5 78.5L425.1 79L424.9 84.5L423.8 85L423.8 87.5L421.7 88L421.7 90.5L421.5 90.5Z"/>
<path fill="#2e7ebc" d="M458.5 66.6L456 66.9L454.3 66.5L454.3 64.5L455.5 64L455.5 61.5L458.4 61.5L458.4 64L458.8 64.5L458.8 66.5L458.5 66.6ZM421 90.5L417 90.8L413.4 90.5L413.4 88L412.1 87.5L411.9 82L412.6 81.5L412.6 79L414.3 78.5L414.3 76L419.3 75.5L419.3 73L419.9 73L419.9 75.5L424 76L424 78.5L424.7 79L424.5 84.5L423.4 85L423.4 87.5L421.1 88L421 90.5Z"/>
<path fill="#2878b9" d="M456.5 66.5L456.2 66.5L456.2 64.5L456.9 64.5L456.9 66.5L456.5 66.5ZM420 90.6L417 90.7L414.1 90.5L414.1 88L412.5 87.5L412.3 82L413 81.5L413 79L414.8 78.5L414.8 76L419.5 75.6L423.5 76L423.5 78.5L424.3 79L424.1 84.5L423 85L423 87.5L420.4 88L420.4 90.5L420 90.6Z"/>
<path fill="#2272b6" d="M419.5 90.5L414.9 90.5L414.9 88L412.9 87.5L412.7 82L413.4 81.5L413.4 79L415.3 78.5L415.3 76L419.5 75.7L422.9 76L422.9 78.5L423.9 79L423.7 84.5L422.5 85L422.5 87.5L419.6 88L419.5 90.5Z"/>
<path fill="#1d6cb1" d="M418.5 90.5L416.1 90.5L416.1 88L413.4 87.5L413.1 82L413.8 81.5L413.8 79L415.9 78.5L415.9 76L419.5 75.8L422.3 76L422.3 78.5L423.5 79L423.3 84.5L422.1 85L422.1 87.5L418.5 88L418.5 90.5Z"/>
<path fill="#1966ad" d="M421.5 87.5L417.5 87.9L413.9 87.5L413.9 85L413.5 84.5L413.5 82L414.3 81.5L414.3 79L416.6 78.5L416.6 76L421.6 76L421.6 78.5L423.1 79L422.9 84.5L421.6 85L421.5 87.5Z"/>
<path fill="#1461a8" d="M421 87.5L417.5 87.8L414.4 87.5L414.4 85L413.9 84.5L413.9 82L414.7 81.5L414.7 79L417.5 78.5L417.5 76L420.7 76L420.7 78.5L422.6 79L422.5 84.5L421.1 85L421 87.5Z"/>
<path fill="#105ba4" d="M420.5 87.5L417.5 87.7L414.9 87.5L414.9 85L414.3 84.5L414.3 82L415.2 81.5L415.2 79L419 78.5L422.2 79L422.1 84.5L420.6 85L420.5 87.5Z"/>
<path fill="#0b559f" d="M419.5 87.5L415.6 87.5L415.6 85L414.8 84.5L414.8 82L415.7 81.5L415.7 79L419 78.6L421.7 79L421.6 84.5L419.9 85L419.9 87.5L419.5 87.5Z"/>
<path fill="#084f9a" d="M418.5 87.5L416.5 87.5L416.5 85L415.3 84.5L415.3 82L416.3 81.5L416.3 79L419 78.8L421.1 79L421.2 84.5L418.9 85L418.9 87.5L418.5 87.5Z"/>
<path fill="#084991" d="M420.5 84.5L418 84.9L415.8 84.5L415.8 82L417 81.5L417 79L420.3 79L420.5 84.5Z"/>
<path fill="#084388" d="M419.5 84.6L416.5 84.5L416.5 82L418.5 81.5L419.9 82L419.9 84.5L419.5 84.6Z"/>
<path fill="#9ECAE1" d="M469.8 77.5a2 2 0 1 0 4 0a2 2 0 1 0-4 0M466.1 41.6a2 2 0 1 0 4 0a2 2 0 1 0-4 0M440.4 80.4a2 2 0 1 0 4 0a2 2 0 1 0-4 0M470.8 68.5a2 2 0 1 0 4 0a2 2 0 1 0-4 0M448.0 86.4a2 2 0 1 0 4 0a2 2 0 1 0-4 0M448.7 86.4a2 2 0 1 0 4 0a2 2 0 1 0-4 0M433.8 80.4a2 2 0 1 0 4 0a2 2 0 1 0-4 0M449.3 89.4a2 2 0 1 0 4 0a2 2 0 1 0-4 0M411.7 104.4a2 2 0 1 0 4 0a2 2 0 1 0-4 0M430.9 65.5a2 2 0 1 0 4 0a2 2 0 1 0-4 0M410.1 104.4a2 2 0 1 0 4 0a2 2 0 1 0-4 0M438.7 68.5a2 2 0 1 0 4 0a2 2 0 1 0-4 0M416.6 104.4a2 2 0 1 0 4 0a2 2 0 1 0-4 0M469.2 68.5a2 2 0 1 0 4 0a2 2 0 1 0-4 0M469.6 53.5a2 2 0 1 0 4 0a2 2 0 1 0-4 0M465.8 44.6a2 2 0 1 0 4 0a2 2 0 1 0-4 0M425.9 98.4a2 2 0 1 0 4 0a2 2 0 1 0-4 0M468.2 77.5a2 2 0 1 0 4 0a2 2 0 1 0-4 0M456.9 89.4a2 2 0 1 0 4 0a2 2 0 1 0-4 0M467.0 44.6a2 2 0 1 0 4 0a2 2 0 1 0-4 0M442.3 53.5a2 2 0 1 0 4 0a2 2 0 1 0-4 0M438.6 74.5a2 2 0 1 0 4 0a2 2 0 1 0-4 0M471.2 50.5a2 2 0 1 0 4 0a2 2 0 1 0-4 0M408.1 65.5a2 2 0 1 0 4 0a2 2 0 1 0-4 0M432.2 83.4a2 2 0 1 0 4 0a2 2 0 1 0-4 0M467.4 74.5a2 2 0 1 0 4 0a2 2 0 1 0-4 0M452.9 89.4a2 2 0 1 0 4 0a2 2 0 1 0-4 0M471.1 71.5a2 2 0 1 0 4 0a2 2 0 1 0-4 0M419.7 59.5a2 2 0 1 0 4 0a2 2 0 1 0-4 0M441.1 56.5a2 2 0 1 0 4 0a2 2 0 1 0-4 0M439.5 62.5a2 2 0 1 0 4 0a2 2 0 1 0-4 0M425.6 101.4a2 2 0 1 0 4 0a2 2 0 1 0-4 0M443.8 83.4a2 2 0 1 0 4 0a2 2 0 1 0-4 0M446.0 86.4a2 2 0 1 0 4 0a2 2 0 1 0-4 0M451.3 44.6a2 2 0 1 0 4 0a2 2 0 1 0-4 0M438.0 71.5a2 2 0 1 0 4 0a2 2 0 1 0-4 0M435.2 74.5a2 2 0 1 0 4 0a2 2 0 1 0-4 0M460.5 41.6a2 2 0 1 0 4 0a2 2 0 1 0-4 0M412.7 62.5a2 2 0 1 0 4 0a2 2 0 1 0-4 0M439.7 62.5a2 2 0 1 0 4 0a2 2 0 1 0-4 0M470.2 65.5a2 2 0 1 0 4 0a2 2 0 1 0-4 0M470.3 59.5a2 2 0 1 0 4 0a2 2 0 1 0-4 0M409.0 62.5a2 2 0 1 0 4 0a2 2 0 1 0-4 0M468.9 50.5a2 2 0 1 0 4 0a2 2 0 1 0-4 0M402.0 74.5a2 2 0 1 0 4 0a2 2 0 1 0-4 0M409.0 65.5a2 2 0 1 0 4 0a2 2 0 1 0-4 0M428.5 59.5a2 2 0 1 0 4 0a2 2 0 1 0-4 0M407.0 104.4a2 2 0 1 0 4 0a2 2 0 1 0-4 0M429.1 65.5a2 2 0 1 0 4 0a2 2 0 1 0-4 0M438.1 59.5a2 2 0 1 0 4 0a2 2 0 1 0-4 0M433.5 68.5a2 2 0 1 0 4 0a2 2 0 1 0-4 0M469.5 53.5a2 2 0 1 0 4 0a2 2 0 1 0-4 0M414.2 62.5a2 2 0 1 0 4 0a2 2 0 1 0-4 0M457.2 86.4a2 2 0 1 0 4 0a2 2 0 1 0-4 0M463.6 41.6a2 2 0 1 0 4 0a2 2 0 1 0-4 0M400.1 95.4a2 2 0 1 0 4 0a2 2 0 1 0-4 0M459.5 89.4a2 2 0 1 0 4 0a2 2 0 1 0-4 0M470.9 50.5a2 2 0 1 0 4 0a2 2 0 1 0-4 0M424.2 62.5a2 2 0 1 0 4 0a2 2 0 1 0-4 0M407.6 65.5a2 2 0 1 0 4 0a2 2 0 1 0-4 0M424.1 62.5a2 2 0 1 0 4 0a2 2 0 1 0-4 0M471.4 47.6a2 2 0 1 0 4 0a2 2 0 1 0-4 0M407.6 104.4a2 2 0 1 0 4 0a2 2 0 1 0-4 0M470.3 68.5a2 2 0 1 0 4 0a2 2 0 1 0-4 0M399.0 101.4a2 2 0 1 0 4 0a2 2 0 1 0-4 0M463.9 80.4a2 2 0 1 0 4 0a2 2 0 1 0-4 0M424.2 62.5a2 2 0 1 0 4 0a2 2 0 1 0-4 0M459.4 86.4a2 2 0 1 0 4 0a2 2 0 1 0-4 0M441.7 83.4a2 2 0 1 0 4 0a2 2 0 1 0-4 0M431.7 89.4a2 2 0 1 0 4 0a2 2 0 1 0-4 0M441.6 80.4a2 2 0 1 0 4 0a2 2 0 1 0-4 0M469.1 71.5a2 2 0 1 0 4 0a2 2 0 1 0-4 0M469.6 68.5a2 2 0 1 0 4 0a2 2 0 1 0-4 0M432.9 80.4a2 2 0 1 0 4 0a2 2 0 1 0-4 0M444.6 44.6a2 2 0 1 0 4 0a2 2 0 1 0-4 0M462.3 86.4a2 2 0 1 0 4 0a2 2 0 1 0-4 0M427.2 98.4a2 2 0 1 0 4 0a2 2 0 1 0-4 0M427.6 95.4a2 2 0 1 0 4 0a2 2 0 1 0-4 0M450.7 89.4a2 2 0 1 0 4 0a2 2 0 1 0-4 0M430.8 68.5a2 2 0 1 0 4 0a2 2 0 1 0-4 0M418.8 59.5a2 2 0 1 0 4 0a2 2 0 1 0-4 0M446.4 89.4a2 2 0 1 0 4 0a2 2 0 1 0-4 0M439.5 80.4a2 2 0 1 0 4 0a2 2 0 1 0-4 0M469.7 53.5a2 2 0 1 0 4 0a2 2 0 1 0-4 0M445.0 86.4a2 2 0 1 0 4 0a2 2 0 1 0-4 0M441.2 53.5a2 2 0 1 0 4 0a2 2 0 1 0-4 0M454.4 92.4a2 2 0 1 0 4 0a2 2 0 1 0-4 0M464.3 41.6a2 2 0 1 0 4 0a2 2 0 1 0-4 0M453.2 89.4a2 2 0 1 0 4 0a2 2 0 1 0-4 0M439.9 59.5a2 2 0 1 0 4 0a2 2 0 1 0-4 0M427.4 98.4a2 2 0 1 0 4 0a2 2 0 1 0-4 0M469.4 53.5a2 2 0 1 0 4 0a2 2 0 1 0-4 0M401.1 71.5a2 2 0 1 0 4 0a2 2 0 1 0-4 0M438.6 71.5a2 2 0 1 0 4 0a2 2 0 1 0-4 0M436.9 65.5a2 2 0 1 0 4 0a2 2 0 1 0-4 0M414.3 62.5a2 2 0 1 0 4 0a2 2 0 1 0-4 0M472.7 50.5a2 2 0 1 0 4 0a2 2 0 1 0-4 0M470.3 59.5a2 2 0 1 0 4 0a2 2 0 1 0-4 0M431.8 89.4a2 2 0 1 0 4 0a2 2 0 1 0-4 0M438.9 68.5a2 2 0 1 0 4 0a2 2 0 1 0-4 0M445.7 47.6a2 2 0 1 0 4 0a2 2 0 1 0-4 0M448.0 86.4a2 2 0 1 0 4 0a2 2 0 1 0-4 0M433.8 71.5a2 2 0 1 0 4 0a2 2 0 1 0-4 0M471.6 65.5a2 2 0 1 0 4 0a2 2 0 1 0-4 0M417.6 107.4a2 2 0 1 0 4 0a2 2 0 1 0-4 0M403.3 71.5a2 2 0 1 0 4 0a2 2 0 1 0-4 0M471.5 47.6a2 2 0 1 0 4 0a2 2 0 1 0-4 0M432.7 77.5a2 2 0 1 0 4 0a2 2 0 1 0-4 0M454.0 86.4a2 2 0 1 0 4 0a2 2 0 1 0-4 0M469.4 53.5a2 2 0 1 0 4 0a2 2 0 1 0-4 0M432.5 83.4a2 2 0 1 0 4 0a2 2 0 1 0-4 0M424.9 59.5a2 2 0 1 0 4 0a2 2 0 1 0-4 0M463.1 80.4a2 2 0 1 0 4 0a2 2 0 1 0-4 0M409.4 65.5a2 2 0 1 0 4 0a2 2 0 1 0-4 0M401.8 71.5a2 2 0 1 0 4 0a2 2 0 1 0-4 0M409.6 104.4a2 2 0 1 0 4 0a2 2 0 1 0-4 0M408.2 104.4a2 2 0 1 0 4 0a2 2 0 1 0-4 0M433.3 92.4a2 2 0 1 0 4 0a2 2 0 1 0-4 0M467.4 74.5a2 2 0 1 0 4 0a2 2 0 1 0-4 0M428.8 62.5a2 2 0 1 0 4 0a2 2 0 1 0-4 0M411.6 107.4a2 2 0 1 0 4 0a2 2 0 1 0-4 0M467.1 47.6a2 2 0 1 0 4 0a2 2 0 1 0-4 0M407.4 104.4a2 2 0 1 0 4 0a2 2 0 1 0-4 0M433.6 77.5a2 2 0 1 0 4 0a2 2 0 1 0-4 0M439.6 77.5a2 2 0 1 0 4 0a2 2 0 1 0-4 0M439.7 53.5a2 2 0 1 0 4 0a2 2 0 1 0-4 0M428.6 59.5a2 2 0 1 0 4 0a2 2 0 1 0-4 0M422.8 101.4a2 2 0 1 0 4 0a2 2 0 1 0-4 0M412.1 104.4a2 2 0 1 0 4 0a2 2 0 1 0-4 0M444.9 50.5a2 2 0 1 0 4 0a2 2 0 1 0-4 0M425.8 62.5a2 2 0 1 0 4 0a2 2 0 1 0-4 0M444.9 50.5a2 2 0 1 0 4 0a2 2 0 1 0-4 0M422.1 59.5a2 2 0 1 0 4 0a2 2 0 1 0-4 0M456.1 89.4a2 2 0 1 0 4 0a2 2 0 1 0-4 0M447.8 41.6a2 2 0 1 0 4 0a2 2 0 1 0-4 0M434.6 89.4a2 2 0 1 0 4 0a2 2 0 1 0-4 0M419.8 59.5a2 2 0 1 0 4 0a2 2 0 1 0-4 0M400.4 74.5a2 2 0 1 0 4 0a2 2 0 1 0-4 0M406.3 68.5a2 2 0 1 0 4 0a2 2 0 1 0-4 0M440.1 80.4a2 2 0 1 0 4 0a2 2 0 1 0-4 0M457.0 41.6a2 2 0 1 0 4 0a2 2 0 1 0-4 0M424.1 101.4a2 2 0 1 0 4 0a2 2 0 1 0-4 0M429.2 95.4a2 2 0 1 0 4 0a2 2 0 1 0-4 0M467.5 77.5a2 2 0 1 0 4 0a2 2 0 1 0-4 0M420.3 59.5a2 2 0 1 0 4 0a2 2 0 1 0-4 0M451.8 44.6a2 2 0 1 0 4 0a2 2 0 1 0-4 0M400.4 77.5a2 2 0 1 0 4 0a2 2 0 1 0-4 0M435.7 80.4a2 2 0 1 0 4 0a2 2 0 1 0-4 0M423.0 101.4a2 2 0 1 0 4 0a2 2 0 1 0-4 0M399.5 83.4a2 2 0 1 0 4 0a2 2 0 1 0-4 0M457.0 41.6a2 2 0 1 0 4 0a2 2 0 1 0-4 0M424.8 62.5a2 2 0 1 0 4 0a2 2 0 1 0-4 0M430.8 68.5a2 2 0 1 0 4 0a2 2 0 1 0-4 0M437.9 62.5a2 2 0 1 0 4 0a2 2 0 1 0-4 0M471.4 53.5a2 2 0 1 0 4 0a2 2 0 1 0-4 0M427.4 95.4a2 2 0 1 0 4 0a2 2 0 1 0-4 0M429.2 92.4a2 2 0 1 0 4 0a2 2 0 1 0-4 0M468.8 71.5a2 2 0 1 0 4 0a2 2 0 1 0-4 0M432.8 65.5a2 2 0 1 0 4 0a2 2 0 1 0-4 0M454.1 41.6a2 2 0 1 0 4 0a2 2 0 1 0-4 0M442.7 83.4a2 2 0 1 0 4 0a2 2 0 1 0-4 0M397.6 89.4a2 2 0 1 0 4 0a2 2 0 1 0-4 0M410.9 62.5a2 2 0 1 0 4 0a2 2 0 1 0-4 0M409.8 104.4a2 2 0 1 0 4 0a2 2 0 1 0-4 0M412.5 104.4a2 2 0 1 0 4 0a2 2 0 1 0-4 0M445.2 86.4a2 2 0 1 0 4 0a2 2 0 1 0-4 0M453.8 92.4a2 2 0 1 0 4 0a2 2 0 1 0-4 0M472.1 68.5a2 2 0 1 0 4 0a2 2 0 1 0-4 0M468.4 71.5a2 2 0 1 0 4 0a2 2 0 1 0-4 0M409.1 65.5a2 2 0 1 0 4 0a2 2 0 1 0-4 0M466.2 47.6a2 2 0 1 0 4 0a2 2 0 1 0-4 0M467.5 44.6a2 2 0 1 0 4 0a2 2 0 1 0-4 0M417.2 107.4a2 2 0 1 0 4 0a2 2 0 1 0-4 0M448.5 44.6a2 2 0 1 0 4 0a2 2 0 1 0-4 0M427.3 95.4a2 2 0 1 0 4 0a2 2 0 1 0-4 0M471.8 62.5a2 2 0 1 0 4 0a2 2 0 1 0-4 0M446.4 86.4a2 2 0 1 0 4 0a2 2 0 1 0-4 0M459.1 41.6a2 2 0 1 0 4 0a2 2 0 1 0-4 0M466.5 41.6a2 2 0 1 0 4 0a2 2 0 1 0-4 0M440.8 50.5a2 2 0 1 0 4 0a2 2 0 1 0-4 0M451.2 41.6a2 2 0 1 0 4 0a2 2 0 1 0-4 0M439.2 65.5a2 2 0 1 0 4 0a2 2 0 1 0-4 0M454.3 41.6a2 2 0 1 0 4 0a2 2 0 1 0-4 0M454.4 86.4a2 2 0 1 0 4 0a2 2 0 1 0-4 0M438.4 80.4a2 2 0 1 0 4 0a2 2 0 1 0-4 0M430.5 62.5a2 2 0 1 0 4 0a2 2 0 1 0-4 0M468.5 77.5a2 2 0 1 0 4 0a2 2 0 1 0-4 0M409.2 104.4a2 2 0 1 0 4 0a2 2 0 1 0-4 0M438.2 68.5a2 2 0 1 0 4 0a2 2 0 1 0-4 0M469.5 53.5a2 2 0 1 0 4 0a2 2 0 1 0-4 0M405.1 101.4a2 2 0 1 0 4 0a2 2 0 1 0-4 0M415.6 104.4a2 2 0 1 0 4 0a2 2 0 1 0-4 0M470.3 59.5a2 2 0 1 0 4 0a2 2 0 1 0-4 0M438.9 71.5a2 2 0 1 0 4 0a2 2 0 1 0-4 0M412.5 104.4a2 2 0 1 0 4 0a2 2 0 1 0-4 0M433.3 74.5a2 2 0 1 0 4 0a2 2 0 1 0-4 0M441.3 86.4a2 2 0 1 0 4 0a2 2 0 1 0-4 0M470.4 62.5a2 2 0 1 0 4 0a2 2 0 1 0-4 0M396.4 92.4a2 2 0 1 0 4 0a2 2 0 1 0-4 0M399.9 86.4a2 2 0 1 0 4 0a2 2 0 1 0-4 0M455.3 38.6a2 2 0 1 0 4 0a2 2 0 1 0-4 0M424.2 56.5a2 2 0 1 0 4 0a2 2 0 1 0-4 0M473.2 50.5a2 2 0 1 0 4 0a2 2 0 1 0-4 0M467.1 74.5a2 2 0 1 0 4 0a2 2 0 1 0-4 0M467.0 41.6a2 2 0 1 0 4 0a2 2 0 1 0-4 0M429.1 92.4a2 2 0 1 0 4 0a2 2 0 1 0-4 0M464.0 44.6a2 2 0 1 0 4 0a2 2 0 1 0-4 0M465.2 80.4a2 2 0 1 0 4 0a2 2 0 1 0-4 0M437.2 68.5a2 2 0 1 0 4 0a2 2 0 1 0-4 0M467.4 77.5a2 2 0 1 0 4 0a2 2 0 1 0-4 0M450.2 44.6a2 2 0 1 0 4 0a2 2 0 1 0-4 0M458.4 86.4a2 2 0 1 0 4 0a2 2 0 1 0-4 0M462.3 83.4a2 2 0 1 0 4 0a2 2 0 1 0-4 0M414.9 59.5a2 2 0 1 0 4 0a2 2 0 1 0-4 0M461.1 38.6a2 2 0 1 0 4 0a2 2 0 1 0-4 0M453.8 41.6a2 2 0 1 0 4 0a2 2 0 1 0-4 0M450.6 41.6a2 2 0 1 0 4 0a2 2 0 1 0-4 0M438.6 65.5a2 2 0 1 0 4 0a2 2 0 1 0-4 0M468.3 71.5a2 2 0 1 0 4 0a2 2 0 1 0-4 0M425.7 62.5a2 2 0 1 0 4 0a2 2 0 1 0-4 0M428.4 62.5a2 2 0 1 0 4 0a2 2 0 1 0-4 0M443.0 53.5a2 2 0 1 0 4 0a2 2 0 1 0-4 0M453.5 86.4a2 2 0 1 0 4 0a2 2 0 1 0-4 0M437.3 71.5a2 2 0 1 0 4 0a2 2 0 1 0-4 0M458.1 89.4a2 2 0 1 0 4 0a2 2 0 1 0-4 0M456.4 86.4a2 2 0 1 0 4 0a2 2 0 1 0-4 0M402.9 98.4a2 2 0 1 0 4 0a2 2 0 1 0-4 0M448.1 44.6a2 2 0 1 0 4 0a2 2 0 1 0-4 0M468.3 47.6a2 2 0 1 0 4 0a2 2 0 1 0-4 0M417.4 104.4a2 2 0 1 0 4 0a2 2 0 1 0-4 0M399.6 83.4a2 2 0 1 0 4 0a2 2 0 1 0-4 0M405.4 104.4a2 2 0 1 0 4 0a2 2 0 1 0-4 0M426.3 62.5a2 2 0 1 0 4 0a2 2 0 1 0-4 0M468.9 77.5a2 2 0 1 0 4 0a2 2 0 1 0-4 0M460.5 41.6a2 2 0 1 0 4 0a2 2 0 1 0-4 0M398.1 92.4a2 2 0 1 0 4 0a2 2 0 1 0-4 0M463.1 83.4a2 2 0 1 0 4 0a2 2 0 1 0-4 0M445.5 47.6a2 2 0 1 0 4 0a2 2 0 1 0-4 0M444.5 44.6a2 2 0 1 0 4 0a2 2 0 1 0-4 0M427.3 95.4a2 2 0 1 0 4 0a2 2 0 1 0-4 0M437.6 65.5a2 2 0 1 0 4 0a2 2 0 1 0-4 0M428.7 59.5a2 2 0 1 0 4 0a2 2 0 1 0-4 0M469.0 71.5a2 2 0 1 0 4 0a2 2 0 1 0-4 0M405.4 68.5a2 2 0 1 0 4 0a2 2 0 1 0-4 0M443.6 50.5a2 2 0 1 0 4 0a2 2 0 1 0-4 0M397.9 77.5a2 2 0 1 0 4 0a2 2 0 1 0-4 0M463.6 80.4a2 2 0 1 0 4 0a2 2 0 1 0-4 0M416.7 104.4a2 2 0 1 0 4 0a2 2 0 1 0-4 0M405.0 68.5a2 2 0 1 0 4 0a2 2 0 1 0-4 0M473.1 56.5a2 2 0 1 0 4 0a2 2 0 1 0-4 0M470.7 65.5a2 2 0 1 0 4 0a2 2 0 1 0-4 0M463.4 80.4a2 2 0 1 0 4 0a2 2 0 1 0-4 0M406.7 104.4a2 2 0 1 0 4 0a2 2 0 1 0-4 0M412.3 104.4a2 2 0 1 0 4 0a2 2 0 1 0-4 0M416.4 104.4a2 2 0 1 0 4 0a2 2 0 1 0-4 0M469.2 71.5a2 2 0 1 0 4 0a2 2 0 1 0-4 0M434.1 74.5a2 2 0 1 0 4 0a2 2 0 1 0-4 0M414.5 62.5a2 2 0 1 0 4 0a2 2 0 1 0-4 0M442.4 47.6a2 2 0 1 0 4 0a2 2 0 1 0-4 0M462.4 41.6a2 2 0 1 0 4 0a2 2 0 1 0-4 0M464.2 44.6a2 2 0 1 0 4 0a2 2 0 1 0-4 0M432.1 71.5a2 2 0 1 0 4 0a2 2 0 1 0-4 0M442.7 47.6a2 2 0 1 0 4 0a2 2 0 1 0-4 0M426.0 62.5a2 2 0 1 0 4 0a2 2 0 1 0-4 0M465.3 80.4a2 2 0 1 0 4 0a2 2 0 1 0-4 0M457.0 86.4a2 2 0 1 0 4 0a2 2 0 1 0-4 0M452.5 38.6a2 2 0 1 0 4 0a2 2 0 1 0-4 0M463.9 41.6a2 2 0 1 0 4 0a2 2 0 1 0-4 0M414.7 59.5a2 2 0 1 0 4 0a2 2 0 1 0-4 0M445.7 89.4a2 2 0 1 0 4 0a2 2 0 1 0-4 0M411.2 107.4a2 2 0 1 0 4 0a2 2 0 1 0-4 0M444.3 47.6a2 2 0 1 0 4 0a2 2 0 1 0-4 0M471.5 68.5a2 2 0 1 0 4 0a2 2 0 1 0-4 0M413.1 59.5a2 2 0 1 0 4 0a2 2 0 1 0-4 0M442.1 83.4a2 2 0 1 0 4 0a2 2 0 1 0-4 0M470.5 53.5a2 2 0 1 0 4 0a2 2 0 1 0-4 0M447.6 44.6a2 2 0 1 0 4 0a2 2 0 1 0-4 0M433.8 83.4a2 2 0 1 0 4 0a2 2 0 1 0-4 0M472.0 62.5a2 2 0 1 0 4 0a2 2 0 1 0-4 0M464.2 80.4a2 2 0 1 0 4 0a2 2 0 1 0-4 0M403.8 71.5a2 2 0 1 0 4 0a2 2 0 1 0-4 0M430.3 62.5a2 2 0 1 0 4 0a2 2 0 1 0-4 0M463.1 83.4a2 2 0 1 0 4 0a2 2 0 1 0-4 0M432.1 89.4a2 2 0 1 0 4 0a2 2 0 1 0-4 0M400.1 83.4a2 2 0 1 0 4 0a2 2 0 1 0-4 0M400.1 92.4a2 2 0 1 0 4 0a2 2 0 1 0-4 0M463.9 44.6a2 2 0 1 0 4 0a2 2 0 1 0-4 0M400.6 77.5a2 2 0 1 0 4 0a2 2 0 1 0-4 0M443.2 50.5a2 2 0 1 0 4 0a2 2 0 1 0-4 0M405.2 101.4a2 2 0 1 0 4 0a2 2 0 1 0-4 0M399.6 83.4a2 2 0 1 0 4 0a2 2 0 1 0-4 0M463.9 80.4a2 2 0 1 0 4 0a2 2 0 1 0-4 0M470.4 56.5a2 2 0 1 0 4 0a2 2 0 1 0-4 0M470.4 62.5a2 2 0 1 0 4 0a2 2 0 1 0-4 0M457.9 86.4a2 2 0 1 0 4 0a2 2 0 1 0-4 0M468.6 44.6a2 2 0 1 0 4 0a2 2 0 1 0-4 0M409.0 104.4a2 2 0 1 0 4 0a2 2 0 1 0-4 0M400.5 95.4a2 2 0 1 0 4 0a2 2 0 1 0-4 0M447.4 44.6a2 2 0 1 0 4 0a2 2 0 1 0-4 0M414.6 104.4a2 2 0 1 0 4 0a2 2 0 1 0-4 0M442.9 86.4a2 2 0 1 0 4 0a2 2 0 1 0-4 0M439.9 59.5a2 2 0 1 0 4 0a2 2 0 1 0-4 0M437.9 71.5a2 2 0 1 0 4 0a2 2 0 1 0-4 0M407.5 104.4a2 2 0 1 0 4 0a2 2 0 1 0-4 0M449.4 44.6a2 2 0 1 0 4 0a2 2 0 1 0-4 0M408.9 65.5a2 2 0 1 0 4 0a2 2 0 1 0-4 0M416.2 104.4a2 2 0 1 0 4 0a2 2 0 1 0-4 0M435.3 74.5a2 2 0 1 0 4 0a2 2 0 1 0-4 0M398.1 89.4a2 2 0 1 0 4 0a2 2 0 1 0-4 0M437.3 56.5a2 2 0 1 0 4 0a2 2 0 1 0-4 0M401.2 74.5a2 2 0 1 0 4 0a2 2 0 1 0-4 0M455.8 86.4a2 2 0 1 0 4 0a2 2 0 1 0-4 0M470.1 53.5a2 2 0 1 0 4 0a2 2 0 1 0-4 0M456.9 86.4a2 2 0 1 0 4 0a2 2 0 1 0-4 0M435.9 80.4a2 2 0 1 0 4 0a2 2 0 1 0-4 0M443.8 83.4a2 2 0 1 0 4 0a2 2 0 1 0-4 0M448.8 92.4a2 2 0 1 0 4 0a2 2 0 1 0-4 0M447.9 86.4a2 2 0 1 0 4 0a2 2 0 1 0-4 0M460.9 41.6a2 2 0 1 0 4 0a2 2 0 1 0-4 0M470.7 65.5a2 2 0 1 0 4 0a2 2 0 1 0-4 0M448.0 26.4a2 2 0 1 0 4 0a2 2 0 1 0-4 0M450.0 26.4a2 2 0 1 0 4 0a2 2 0 1 0-4 0M452.0 26.4a2 2 0 1 0 4 0a2 2 0 1 0-4 0M454.0 26.4a2 2 0 1 0 4 0a2 2 0 1 0-4 0M456.0 26.4a2 2 0 1 0 4 0a2 2 0 1 0-4 0M458.0 26.4a2 2 0 1 0 4 0a2 2 0 1 0-4 0M416.0 38.5a2 2 0 1 0 4 0a2 2 0 1 0-4 0M418.0 41.0a2 2 0 1 0 4 0a2 2 0 1 0-4 0M417.0 43.0a2 2 0 1 0 4 0a2 2 0 1 0-4 0M420.0 50.0a2 2 0 1 0 4 0a2 2 0 1 0-4 0M397.0 66.0a2 2 0 1 0 4 0a2 2 0 1 0-4 0M394.0 95.0a2 2 0 1 0 4 0a2 2 0 1 0-4 0M404.0 107.0a2 2 0 1 0 4 0a2 2 0 1 0-4 0M415.0 116.0a2 2 0 1 0 4 0a2 2 0 1 0-4 0M415.0 118.5a2 2 0 1 0 4 0a2 2 0 1 0-4 0M430.0 119.0a2 2 0 1 0 4 0a2 2 0 1 0-4 0M448.0 128.0a2 2 0 1 0 4 0a2 2 0 1 0-4 0M456.0 128.0a2 2 0 1 0 4 0a2 2 0 1 0-4 0M447.0 95.3a2 2 0 1 0 4 0a2 2 0 1 0-4 0M450.0 95.3a2 2 0 1 0 4 0a2 2 0 1 0-4 0M453.0 95.3a2 2 0 1 0 4 0a2 2 0 1 0-4 0M456.0 95.3a2 2 0 1 0 4 0a2 2 0 1 0-4 0M459.0 95.3a2 2 0 1 0 4 0a2 2 0 1 0-4 0M465.0 95.3a2 2 0 1 0 4 0a2 2 0 1 0-4 0M458.0 118.5a2 2 0 1 0 4 0a2 2 0 1 0-4 0M460.0 100.0a2 2 0 1 0 4 0a2 2 0 1 0-4 0M466.0 96.0a2 2 0 1 0 4 0a2 2 0 1 0-4 0M435.0 55.0a2 2 0 1 0 4 0a2 2 0 1 0-4 0M438.0 52.0a2 2 0 1 0 4 0a2 2 0 1 0-4 0M439.0 89.0a2 2 0 1 0 4 0a2 2 0 1 0-4 0M463.0 34.0a2 2 0 1 0 4 0a2 2 0 1 0-4 0M472.0 41.0a2 2 0 1 0 4 0a2 2 0 1 0-4 0M474.0 48.0a2 2 0 1 0 4 0a2 2 0 1 0-4 0"/>
<line x1="376.5" y1="100.5" x2="507.5" y2="41.7" stroke="#bcbcbc" stroke-width="0.7"/>
</g>
<rect x="376.5" y="22.5" width="131.0" height="110.0" fill="none" stroke="#999" stroke-width="1"/>
<line x1="394.5" y1="132.5" x2="394.5" y2="136.0" stroke="#aaa" stroke-width="1"/>
<text x="394.5" y="145.8" text-anchor="middle" font-size="8.7">60</text>
<line x1="428.2" y1="132.5" x2="428.2" y2="136.0" stroke="#aaa" stroke-width="1"/>
<text x="428.2" y="145.8" text-anchor="middle" font-size="8.7">65</text>
<line x1="461.8" y1="132.5" x2="461.8" y2="136.0" stroke="#aaa" stroke-width="1"/>
<text x="461.8" y="145.8" text-anchor="middle" font-size="8.7">70</text>
<line x1="495.5" y1="132.5" x2="495.5" y2="136.0" stroke="#aaa" stroke-width="1"/>
<text x="495.5" y="145.8" text-anchor="middle" font-size="8.7">75</text>
<line x1="373.0" y1="125.3" x2="376.5" y2="125.3" stroke="#aaa" stroke-width="1"/>
<text x="369.4" y="128.5" text-anchor="end" font-size="8.7">50</text>
<line x1="373.0" y1="110.3" x2="376.5" y2="110.3" stroke="#aaa" stroke-width="1"/>
<text x="369.4" y="113.5" text-anchor="end" font-size="8.7">55</text>
<line x1="373.0" y1="95.4" x2="376.5" y2="95.4" stroke="#aaa" stroke-width="1"/>
<text x="369.4" y="98.6" text-anchor="end" font-size="8.7">60</text>
<line x1="373.0" y1="80.4" x2="376.5" y2="80.4" stroke="#aaa" stroke-width="1"/>
<text x="369.4" y="83.6" text-anchor="end" font-size="8.7">65</text>
<line x1="373.0" y1="65.5" x2="376.5" y2="65.5" stroke="#aaa" stroke-width="1"/>
<text x="369.4" y="68.7" text-anchor="end" font-size="8.7">70</text>
<line x1="373.0" y1="50.5" x2="376.5" y2="50.5" stroke="#aaa" stroke-width="1"/>
<text x="369.4" y="53.8" text-anchor="end" font-size="8.7">75</text>
<line x1="373.0" y1="35.6" x2="376.5" y2="35.6" stroke="#aaa" stroke-width="1"/>
<text x="369.4" y="38.8" text-anchor="end" font-size="8.7">80</text>
<text transform="translate(353.6,78.3) rotate(-90)" text-anchor="middle" font-size="8.8">Actual HGT</text>
<text x="439.5" y="12.3" text-anchor="middle" font-size="8.66">NHS/HPFS/PHS (<tspan font-style="italic">N</tspan> = 437 K)</text>
<text x="345.4" y="11.0" font-weight="bold" font-size="15.3" fill="#000">c</text>
<text x="439.5" y="159.5" text-anchor="middle" font-size="8.68">Predicted HGT using LDpred+MTAG</text>
<text x="439.5" y="178.0" text-anchor="middle"><tspan font-style="italic">R</tspan><tspan font-size="6.3" dy="-1.9" dx="0.5">2</tspan><tspan dy="1.9"> = 22.3%</tspan></text>
<text x="439.5" y="187.8" text-anchor="middle">(<tspan font-style="italic" dx="0.8">R</tspan><tspan font-size="6.3" dy="-2.4" dx="0.5">2</tspan><tspan font-size="6.3" font-style="italic" dy="5.4" dx="0.5">m</tspan><tspan dy="-3.0" dx="0.8">= 19.1%, </tspan><tspan font-style="italic">R</tspan><tspan font-size="6.3" dy="-2.4" dx="0.5">2</tspan><tspan font-size="6.3" font-style="italic" dy="5.4" dx="0.5">w</tspan><tspan dy="-3.0" dx="0.8">= 25.4%)</tspan></text>
<clipPath id="c3"><rect x="551.5" y="22.5" width="131.0" height="110.0"/></clipPath>
<g clip-path="url(#c3)">
<path fill="#9cc9e1" d="M595 114.1L592.5 114.5L590 114.3L587.5 113.3L585.8 112L584.2 110L582.7 107L581.8 104L581.3 100.5L581.2 96.5L581.5 92L583.3 83.5L584.8 79L586.7 74.5L590.8 67L594.9 61.5L599 57.4L603.5 54.3L606 53.2L608 52.7L611.5 52.6L614.5 53.7L617 55.9L620 60.5L621 61.1L621.5 60.8L622.5 59.1L626.2 50L628.7 45L631.3 41L634 37.6L637 34.9L640.5 33L643.5 32.5L645 32.8L646.5 33.4L648 34.6L649.5 36.5L650.8 39L651.7 41.5L652.8 48L652.9 56.5L651.7 65L649.7 73L646.8 81L642.8 88.5L639.5 92.8L636 96.1L632.5 98L631 98.4L629 98.4L626.5 97.6L624.2 95.5L622.4 92.5L620 86.5L619.5 85.9L619 85.9L618 87.2L612.2 98.5L609.9 102L607.1 105.5L604 108.8L601 111.2L597.5 113.2L595 114.1Z"/>
<path fill="#90c2de" d="M632.5 92.1L630 92.1L627.5 90.8L625.7 88.5L624.4 85.5L623.4 81L623.1 76.5L623.3 71.5L624.2 65.5L625.7 59.5L627.7 54L629.9 49.5L632.4 45.5L635 42.4L637.5 40.3L640.5 38.9L643 38.9L645 39.8L646.7 41.5L648.1 44L649.1 47.5L649.7 51.5L649.8 56L649.6 60L648.8 65.5L647.7 70L646.2 74.5L644.4 79L642.3 83L639.9 86.5L637.5 89.1L635 91L632.5 92.1ZM596 108.5L593 108.8L590 107.8L587.5 105.5L586 102.5L585.1 98.5L584.9 93.5L585.4 88.5L586.7 83L588.7 77.5L591.2 72.5L594.4 67.5L597.5 63.9L600.5 61.3L604 59.2L607.5 58.2L610.5 58.5L612.5 59.5L614.5 61.5L615.8 64L616.8 67.5L617.2 71L617.1 75L616.4 80L615.3 84L613.7 88.5L611.7 93L609.7 96.5L607.2 100L604.5 103.1L601.5 105.7L598.5 107.6L596 108.5Z"/>
<path fill="#87bddc" d="M634 88.5L631.5 89L629.5 88.4L627.9 87L626.4 84.5L625.3 81L624.8 77L624.8 72.5L625.3 67.5L626.3 63L627.8 58L629.9 53L632.1 49L634.5 45.9L637 43.6L639.5 42.3L642 42.1L643.5 42.6L645.1 44L646.4 46L647.3 48.5L647.9 51.5L648.2 55.5L647.6 63.5L645.7 71.5L644.2 75.5L642.3 79.5L640.5 82.5L638.5 85.1L636 87.4L634 88.5ZM597 105.5L594 105.9L591.5 105.2L589.5 103.5L588 101L587 97.5L586.7 93.5L587.1 88.5L588.1 84L589.8 79L591.9 74.5L594.3 70.5L597.1 67L600 64.2L603 62.3L606 61.2L609 61.3L611 62.1L612.5 63.5L613.8 65.5L614.8 68.5L615.3 72L615.3 75.5L614.8 79.5L613.9 83L612.8 86.5L611.1 90.5L609.3 94L607 97.5L604.5 100.5L602 102.8L599.5 104.5L597 105.5Z"/>
<path fill="#7eb8da" d="M634 86.5L632 86.9L630 86.3L628.5 84.9L627.2 82.5L626.3 79.5L625.8 75.5L625.9 71.5L626.4 67L627.4 62.5L628.8 58L630.8 53.5L632.5 50.5L634.8 47.5L637 45.5L639.5 44.3L641.5 44.2L643 44.7L644.5 46.1L645.6 48L646.5 50.5L647.2 56.5L646.6 64L644.7 71.5L641.7 78.5L639.8 81.5L638 83.7L636 85.5L634 86.5ZM595.5 104L593 103.7L591 102.4L589.5 100.4L588.4 97.5L587.9 94L588 90.5L588.6 86L589.7 82L591.3 78L593.3 74L595.7 70.5L598.5 67.2L601.5 64.8L604 63.5L606.5 63L609 63.3L610.9 64.5L612.2 66L613.3 68.5L613.9 71L614.1 74.5L613.9 78L612.3 85L609.2 92L607.4 95L605 98.2L603 100.2L600.5 102.2L598 103.5L595.5 104Z"/>
<path fill="#75b3d8" d="M634 85L632 85.2L630.5 84.7L629 83.3L627.8 81L627 78L626.6 74.5L626.7 70.5L627.3 66.5L628.3 62L629.6 58L631.2 54.5L632.9 51.5L635 48.8L637 47L639 46L641 45.8L642.5 46.3L643.8 47.5L644.8 49L645.7 51.5L646.2 54.5L646.4 57.5L645.7 64.5L643.8 72L641 78L639.4 80.5L637.5 82.7L635.5 84.3L634 85ZM596.5 102.5L594 102.4L592.2 101.5L590.8 100L589.6 97.5L588.9 94.5L588.8 91L589.3 87L590.2 83L591.7 79L593.7 75L595.6 72L598.1 69L600.5 66.8L603 65.3L605.5 64.5L608 64.6L609.5 65.3L611 66.7L612.1 68.5L612.8 71L613.2 74L613.1 77L612.6 80.5L611.8 84L609.1 90.5L607.4 93.5L605.2 96.5L603 98.9L601 100.6L599 101.7L596.5 102.5Z"/>
<path fill="#6caed6" d="M634.5 83.5L632.5 83.9L631 83.4L629.5 82L628.4 80L627.7 77.5L627.3 74L627.4 70.5L627.9 66.5L628.8 62.5L629.9 59L631.4 55.5L633.1 52.5L635 50.1L637 48.3L639 47.3L641 47.2L642.5 47.9L643.5 49L644.5 50.8L645.2 53L645.7 58.5L645.1 64.5L643.3 71.5L640.8 77L639.2 79.5L637.5 81.4L636 82.7L634.5 83.5ZM598 101L595.5 101.4L593.5 100.8L591.8 99.5L590.6 97.5L589.8 94.5L589.6 91.5L589.8 88L590.6 84L591.8 80.5L593.6 76.5L595.7 73L598 70.2L600.5 67.9L603 66.4L605.5 65.6L607.5 65.8L609 66.4L610.2 67.5L611.4 69.5L612 71.5L612.4 74L612.4 77L611.4 83L609.1 89L605.9 94.5L604 96.8L602 98.7L600 100.1L598 101Z"/>
<path fill="#64a9d3" d="M634 82.6L632.5 82.6L631 82L629.7 80.5L628.8 78.5L628.2 76L627.9 72.5L628.1 69L628.6 65.5L630.7 58.5L633.6 53L635.5 50.7L637 49.4L639 48.4L640.5 48.4L642 49L643 50L644 51.8L644.7 54L645.1 59.5L644.4 65.5L642.7 71.5L640 77L637 80.8L635.5 81.9L634 82.6ZM598 100.1L596 100.4L594 99.9L592.3 98.5L591.1 96.5L590.5 94L590.2 91L590.5 87.5L591.2 84L592.4 80.5L594 77L595.8 74L598 71.2L600 69.2L602.5 67.5L605 66.7L607 66.8L608.5 67.4L609.7 68.5L610.6 70L611.3 72L611.7 74.5L611.7 77L610.8 83L608.7 88.5L605.5 94L602 97.8L600 99.2L598 100.1Z"/>
<path fill="#5da4d0" d="M634 81.5L632.5 81.5L631 80.7L630 79.4L629.2 77.5L628.6 75L628.4 72L629.1 65.5L631 59L632.4 56L634 53.5L635.5 51.7L637.5 50.1L639 49.5L640.5 49.5L642 50.3L642.9 51.5L644.2 55L644.5 60L643.9 65.5L642.1 71.5L639.7 76.5L637 79.8L635.5 80.9L634 81.5ZM598.5 99L596.5 99.4L594.5 99L593 97.9L591.8 96L591.1 93.5L590.8 90.5L591.1 87L591.8 84L592.9 80.5L594.6 77L596.4 74L598.5 71.5L600.5 69.7L603 68.2L605 67.6L607 67.8L608.5 68.6L609.5 69.7L610.8 73L611.1 77.5L610.2 83L608.2 88.5L605.2 93.5L602 96.9L600 98.4L598.5 99Z"/>
<path fill="#559fce" d="M634 80.6L632.5 80.4L631.5 79.9L630.4 78.5L629.6 76.5L628.9 71.5L629.6 65.5L631.3 59.5L634 54.4L635.5 52.6L637 51.3L638.5 50.6L640 50.4L641 50.8L642 51.6L642.9 53L643.6 55L644 60L643.4 65.5L641.8 71L639.5 75.8L637 78.9L635.5 80L634 80.6ZM597 98.5L595.5 98.4L593.8 97.5L592.6 96L591.8 94L591.4 91.5L591.5 88.5L592.7 82.5L593.9 79.5L595.4 76.5L597.1 74L599 71.8L601 70.1L603 68.9L605 68.5L606.5 68.6L608 69.3L609 70.4L609.9 72L610.4 74L610.6 76.5L610.5 79L609.3 84.5L607.2 89.5L604 94.2L600.5 97.3L598.5 98.3L597 98.5Z"/>
<path fill="#4e9acb" d="M634.5 79.6L633 79.6L632 79.1L631 78.1L630.2 76.5L629.7 74.5L629.4 72L629.9 66L631.6 60L634 55.4L635.5 53.5L637 52.2L638.5 51.4L640 51.4L641 51.9L642 52.9L643.2 56L643.6 60L643.1 65L641.8 70L639.5 74.9L637 78L634.5 79.6ZM598.5 97.5L596.5 97.7L595 97.3L593.5 96L592.7 94.5L592.1 92.5L591.9 90L592.1 87L592.7 84L593.7 81L595.1 78L596.6 75.5L598.5 73L600.5 71.1L602.5 69.9L604.5 69.3L606 69.3L607.5 70L608.5 71L609.8 74L610.1 78L609.3 83L607.4 88L604.7 92.5L601.5 95.9L598.5 97.5Z"/>
<path fill="#4795c8" d="M635 78.5L633.5 78.7L632.5 78.4L631.5 77.5L630.7 76L629.9 72L630.2 66.5L631.7 61L634 56.2L635.5 54.3L637 53L638.5 52.3L639.5 52.3L640.5 52.6L641.5 53.5L642.6 56L643.1 60L642.8 64.5L641.7 69L639.7 73.5L637.5 76.7L635 78.5ZM597 97L595.5 96.7L594.5 96L593.4 94.5L592.7 92.5L592.4 88L593.6 82.5L596 77.2L599.2 73L601 71.4L602.5 70.6L604.5 70L606 70.1L607.5 71L608.3 72L609.4 75L609.5 79.5L608.4 84.5L606.2 89.5L603.5 93.3L602 94.8L600 96.2L598.5 96.8L597 97Z"/>
<path fill="#4090c5" d="M635.5 77.5L634 77.9L633 77.7L632 76.9L631.1 75.5L630.3 71.5L630.6 66.5L632.1 61L634.4 56.5L635.5 55.1L637 53.8L638.5 53.1L639.5 53.2L640.5 53.6L641.3 54.5L642.3 57L642.7 60.5L642.4 64.5L641.4 68.5L639.8 72.5L637.5 75.9L635.5 77.5ZM598.5 96.1L597 96.3L595.5 95.8L594.5 95L593.5 93.3L593 91.5L592.8 89L593 86.5L593.7 83.5L596 78L599 73.8L600.5 72.5L602.5 71.2L604 70.8L605.5 70.8L606.5 71.2L607.5 72L608.4 73.5L608.9 75L609.1 79L608.3 83.5L606.5 88L604 92L601.5 94.5L600 95.5L598.5 96.1Z"/>
<path fill="#3a8ac2" d="M634.5 77L633.5 76.9L632.5 76.3L631.6 75L631.1 73.5L630.7 69.5L631.3 65L632.7 60.5L635 56.5L636 55.4L637.5 54.3L638.5 54L639.5 54.1L641 55.3L642 58L642.3 61.5L641.7 66L640.5 70L638.5 73.8L636.5 76.1L634.5 77ZM598 95.6L596.5 95.4L595.5 94.9L594.5 93.9L593.7 92L593.3 88L594.3 83L596.4 78L599.5 74L602.5 71.9L604 71.4L605.5 71.6L606.5 72.1L607.5 73.1L608.6 76L608.6 80L607.7 84L605.8 88.5L603.5 92L600.5 94.6L598 95.6Z"/>
<path fill="#3484bf" d="M635 76.1L634 76.2L633 75.7L632.3 75L631.6 73.5L631.1 70L631.5 66L632.7 61.5L634.5 58L635.6 56.5L637 55.3L638 54.9L639 54.8L640.5 55.8L641.5 58L641.9 61L641.5 65L640.5 68.8L639 72.2L637 74.9L635 76.1ZM599.5 94.5L598 94.9L596.5 94.7L595.4 94L594.5 92.7L593.9 91L593.7 89L594.2 84.5L596.1 79.5L597.5 77L599 75.1L602 72.7L603.5 72.2L605 72.2L606 72.6L607 73.5L607.9 75.5L608.3 78.5L607.8 82.5L606.4 86.5L604.5 90L602 92.9L599.5 94.5Z"/>
<path fill="#2e7ebc" d="M635.5 75.2L634.5 75.4L633.5 75.1L632.3 73.5L631.6 70L631.9 66L633 61.9L635 58.1L637 56.1L638 55.7L639 55.7L640.1 56.5L641.1 58.5L641.4 61.5L641.1 65L640.2 68.5L638.9 71.5L637.1 74L635.5 75.2ZM599 94.1L597.5 94.2L596.5 93.9L595.4 93L594.6 91.5L594.1 88L594.9 83.5L596.7 79L599.5 75.2L601 73.9L602.5 73.1L604 72.8L605 72.9L606.6 74L607.7 76.5L607.8 80L607.1 83.5L605.8 87L603.6 90.5L601.5 92.7L599 94.1Z"/>
<path fill="#2878b9" d="M634.5 74.5L633.5 74.1L633 73.5L632.2 71.5L632 68.5L632.5 65L633.5 61.7L635 58.9L637 56.9L638.5 56.5L639.5 56.9L640 57.5L640.8 59.5L641 62.5L640.5 66L639.5 69.3L638 72.1L636 74.1L634.5 74.5ZM598.5 93.6L597.5 93.5L596.4 93L595.5 92L594.9 90.5L594.6 87L595.4 83L597.1 79L599.8 75.5L602.5 73.7L604 73.4L605 73.6L606.5 75L607.3 77.5L607.4 80.5L606.6 84L605.1 87.5L603 90.7L600.5 92.8L598.5 93.6Z"/>
<path fill="#2272b6" d="M635.5 73.5L634 73.4L633.2 72.5L632.8 71.5L632.4 69L632.8 65.5L633.8 62L635.2 59.5L637 57.7L638.5 57.4L639.5 58.1L640.3 60L640.6 62.5L640.2 65.5L639.5 68.1L638.4 70.5L637 72.5L635.5 73.5ZM600 92.5L598.5 92.9L597.5 92.8L596.5 92.3L595.6 91L595 88L595.5 84L597 80L599.5 76.4L602 74.5L603.5 74.1L604.5 74.2L606 75.3L606.8 77L607 80L606.5 83L605.5 86L604 88.7L602 91.1L600 92.5Z"/>
<path fill="#1d6cb1" d="M635.5 72.7L634.5 72.6L634 72.3L633.3 71L632.9 69L633.1 66L633.9 63L635 60.7L636.5 58.9L638 58.3L639 58.7L639.9 60.5L640.1 62.5L639.9 65L639.1 68L638 70.3L637 71.6L635.5 72.7ZM599.5 92.1L598.5 92.3L597.5 92.1L596.7 91.5L596 90.5L595.4 87.5L595.9 84L597.4 80L599.5 77L602 75.1L604 74.8L605.5 75.7L606.4 77.5L606.6 80L606.1 83L605.1 86L603.5 88.7L601.5 90.9L599.5 92.1Z"/>
<path fill="#1966ad" d="M636 71.5L635 71.7L634.6 71.5L633.8 70.5L633.4 68.5L633.6 66L634.4 63L635.5 60.9L637 59.5L638 59.3L638.9 60L639.4 61L639.6 63L639.4 65L639 67L638 69.3L637 70.7L636 71.5ZM599 91.6L598 91.5L597.1 91L596.5 90.2L596 89L595.9 86L596.5 83L598 79.7L600 77.1L602 75.7L603 75.4L604 75.5L605.3 76.5L606.1 78.5L606.1 81L605.5 84L604.1 87L602.5 89.4L600.5 91L599 91.6Z"/>
<path fill="#1461a8" d="M635.5 70.6L634.5 70L634.1 69L633.9 67.5L634.2 65.5L635.5 62L636.5 60.8L637.5 60.4L638.5 61L638.9 62L639.1 63.5L638.8 65.5L637.5 69L636.5 70.2L635.5 70.6ZM600 90.7L599 90.9L598 90.7L596.8 89.5L596.3 87L596.7 84L597.8 81L599.5 78.3L601.5 76.6L603.5 76.1L604.9 77L605.5 78.3L605.7 80.5L605.3 83L604.5 85.5L603 88L601.5 89.7L600 90.7Z"/>
<path fill="#105ba4" d="M636 69.2L635.5 69.2L634.9 68.5L634.6 67L634.8 65.5L636 62.6L637 61.8L637.5 61.8L638 62.2L638.3 63L638.2 65.5L637.5 67.6L636.9 68.5L636 69.2ZM599.5 90.1L598 89.8L597.1 88.5L596.8 86L597.2 83.5L598.5 80.5L600 78.4L602 77L603.5 76.9L604.5 77.7L605.1 79L605.2 81L604.8 83.5L603.8 86L602.5 88L601 89.5L599.5 90.1Z"/>
<path fill="#0b559f" d="M636.5 67L635.9 67L635.8 65.5L636.5 64L637 63.9L637.2 65.5L636.5 67ZM600.5 89.1L599 89.4L597.8 88.5L597.3 86.5L597.5 84L598.5 81.3L600 79.1L601.5 77.9L603 77.6L604 78.2L604.6 79.5L604.8 81L604.5 83L603 86.5L601.9 88L600.5 89.1Z"/>
<path fill="#084f9a" d="M599.5 88.5L598.5 88.1L597.9 87L597.8 85L598.3 83L599.2 81L600.5 79.4L602 78.5L603 78.6L603.9 79.5L604.2 80.5L604.2 82L603.7 84L602 87.1L601 88L599.5 88.5Z"/>
<path fill="#084991" d="M600 87.6L599 87.2L598.6 86.5L598.4 85L598.7 83.5L599.5 81.6L600.5 80.3L601.5 79.6L602.5 79.5L603 79.8L603.5 80.8L603.3 83.5L602 86.1L601 87.1L600 87.6Z"/>
<path fill="#084388" d="M601 86L600 86.3L599.5 86L599.2 85L599.3 84L599.8 82.5L600.5 81.4L601.5 80.7L602 80.7L602.7 81.5L602.7 83L602 84.9L601 86Z"/>
<path fill="#9ECAE1" d="M643.1 35.6a2 2 0 1 0 4 0a2 2 0 1 0-4 0M634.5 38.8a2 2 0 1 0 4 0a2 2 0 1 0-4 0M598.4 58.9a2 2 0 1 0 4 0a2 2 0 1 0-4 0M622.0 57.9a2 2 0 1 0 4 0a2 2 0 1 0-4 0M641.6 32.2a2 2 0 1 0 4 0a2 2 0 1 0-4 0M637.0 36.6a2 2 0 1 0 4 0a2 2 0 1 0-4 0M639.0 87.5a2 2 0 1 0 4 0a2 2 0 1 0-4 0M651.0 60.2a2 2 0 1 0 4 0a2 2 0 1 0-4 0M595.6 110.7a2 2 0 1 0 4 0a2 2 0 1 0-4 0M650.8 59.2a2 2 0 1 0 4 0a2 2 0 1 0-4 0M644.1 79.3a2 2 0 1 0 4 0a2 2 0 1 0-4 0M648.4 63.5a2 2 0 1 0 4 0a2 2 0 1 0-4 0M619.3 82.7a2 2 0 1 0 4 0a2 2 0 1 0-4 0M607.9 56.3a2 2 0 1 0 4 0a2 2 0 1 0-4 0M626.7 96.3a2 2 0 1 0 4 0a2 2 0 1 0-4 0M604.2 53.1a2 2 0 1 0 4 0a2 2 0 1 0-4 0M590.3 111.3a2 2 0 1 0 4 0a2 2 0 1 0-4 0M644.5 36.5a2 2 0 1 0 4 0a2 2 0 1 0-4 0M596.1 59.5a2 2 0 1 0 4 0a2 2 0 1 0-4 0M591.8 111.4a2 2 0 1 0 4 0a2 2 0 1 0-4 0M610.1 94.5a2 2 0 1 0 4 0a2 2 0 1 0-4 0M650.4 40.3a2 2 0 1 0 4 0a2 2 0 1 0-4 0M634.2 93.4a2 2 0 1 0 4 0a2 2 0 1 0-4 0M650.4 48.6a2 2 0 1 0 4 0a2 2 0 1 0-4 0M618.3 76.3a2 2 0 1 0 4 0a2 2 0 1 0-4 0M602.7 54.6a2 2 0 1 0 4 0a2 2 0 1 0-4 0M650.4 62.3a2 2 0 1 0 4 0a2 2 0 1 0-4 0M647.0 69.1a2 2 0 1 0 4 0a2 2 0 1 0-4 0M581.4 84.6a2 2 0 1 0 4 0a2 2 0 1 0-4 0M591.5 113.7a2 2 0 1 0 4 0a2 2 0 1 0-4 0M630.8 42.5a2 2 0 1 0 4 0a2 2 0 1 0-4 0M617.0 58.2a2 2 0 1 0 4 0a2 2 0 1 0-4 0M619.7 83.2a2 2 0 1 0 4 0a2 2 0 1 0-4 0M588.1 70.9a2 2 0 1 0 4 0a2 2 0 1 0-4 0M617.6 73.8a2 2 0 1 0 4 0a2 2 0 1 0-4 0M582.0 81.5a2 2 0 1 0 4 0a2 2 0 1 0-4 0M596.1 58.6a2 2 0 1 0 4 0a2 2 0 1 0-4 0M604.9 55.9a2 2 0 1 0 4 0a2 2 0 1 0-4 0M647.4 41.5a2 2 0 1 0 4 0a2 2 0 1 0-4 0M610.9 57.3a2 2 0 1 0 4 0a2 2 0 1 0-4 0M609.4 49.3a2 2 0 1 0 4 0a2 2 0 1 0-4 0M587.6 70.4a2 2 0 1 0 4 0a2 2 0 1 0-4 0M618.4 75.1a2 2 0 1 0 4 0a2 2 0 1 0-4 0M644.0 78.7a2 2 0 1 0 4 0a2 2 0 1 0-4 0M614.3 92.2a2 2 0 1 0 4 0a2 2 0 1 0-4 0M609.3 56.6a2 2 0 1 0 4 0a2 2 0 1 0-4 0M619.5 64.1a2 2 0 1 0 4 0a2 2 0 1 0-4 0M583.6 77.4a2 2 0 1 0 4 0a2 2 0 1 0-4 0M580.8 83.0a2 2 0 1 0 4 0a2 2 0 1 0-4 0M619.9 89.2a2 2 0 1 0 4 0a2 2 0 1 0-4 0M636.0 91.0a2 2 0 1 0 4 0a2 2 0 1 0-4 0M631.3 100.9a2 2 0 1 0 4 0a2 2 0 1 0-4 0M596.1 114.2a2 2 0 1 0 4 0a2 2 0 1 0-4 0M649.5 54.2a2 2 0 1 0 4 0a2 2 0 1 0-4 0M624.9 46.7a2 2 0 1 0 4 0a2 2 0 1 0-4 0M613.2 87.8a2 2 0 1 0 4 0a2 2 0 1 0-4 0M648.4 68.6a2 2 0 1 0 4 0a2 2 0 1 0-4 0M639.8 35.1a2 2 0 1 0 4 0a2 2 0 1 0-4 0M622.0 51.8a2 2 0 1 0 4 0a2 2 0 1 0-4 0M611.2 54.9a2 2 0 1 0 4 0a2 2 0 1 0-4 0M594.8 58.4a2 2 0 1 0 4 0a2 2 0 1 0-4 0M633.9 92.6a2 2 0 1 0 4 0a2 2 0 1 0-4 0M620.3 86.4a2 2 0 1 0 4 0a2 2 0 1 0-4 0M649.4 50.0a2 2 0 1 0 4 0a2 2 0 1 0-4 0M594.2 112.2a2 2 0 1 0 4 0a2 2 0 1 0-4 0M620.8 96.8a2 2 0 1 0 4 0a2 2 0 1 0-4 0M583.9 108.1a2 2 0 1 0 4 0a2 2 0 1 0-4 0M630.5 95.0a2 2 0 1 0 4 0a2 2 0 1 0-4 0M624.2 50.0a2 2 0 1 0 4 0a2 2 0 1 0-4 0M632.6 95.0a2 2 0 1 0 4 0a2 2 0 1 0-4 0M592.0 112.2a2 2 0 1 0 4 0a2 2 0 1 0-4 0M614.0 59.8a2 2 0 1 0 4 0a2 2 0 1 0-4 0M623.1 92.6a2 2 0 1 0 4 0a2 2 0 1 0-4 0M634.6 93.3a2 2 0 1 0 4 0a2 2 0 1 0-4 0M648.4 61.9a2 2 0 1 0 4 0a2 2 0 1 0-4 0M594.7 60.9a2 2 0 1 0 4 0a2 2 0 1 0-4 0M630.5 100.3a2 2 0 1 0 4 0a2 2 0 1 0-4 0M617.6 73.4a2 2 0 1 0 4 0a2 2 0 1 0-4 0M583.5 107.9a2 2 0 1 0 4 0a2 2 0 1 0-4 0M612.4 53.6a2 2 0 1 0 4 0a2 2 0 1 0-4 0M617.4 77.3a2 2 0 1 0 4 0a2 2 0 1 0-4 0M631.2 41.0a2 2 0 1 0 4 0a2 2 0 1 0-4 0M582.1 81.1a2 2 0 1 0 4 0a2 2 0 1 0-4 0M591.1 63.9a2 2 0 1 0 4 0a2 2 0 1 0-4 0M630.8 40.7a2 2 0 1 0 4 0a2 2 0 1 0-4 0M634.6 92.9a2 2 0 1 0 4 0a2 2 0 1 0-4 0M621.6 89.5a2 2 0 1 0 4 0a2 2 0 1 0-4 0M650.6 50.3a2 2 0 1 0 4 0a2 2 0 1 0-4 0M582.4 87.9a2 2 0 1 0 4 0a2 2 0 1 0-4 0M622.5 90.1a2 2 0 1 0 4 0a2 2 0 1 0-4 0M619.7 76.4a2 2 0 1 0 4 0a2 2 0 1 0-4 0M622.4 58.5a2 2 0 1 0 4 0a2 2 0 1 0-4 0M640.5 91.7a2 2 0 1 0 4 0a2 2 0 1 0-4 0M619.1 79.5a2 2 0 1 0 4 0a2 2 0 1 0-4 0M633.7 33.2a2 2 0 1 0 4 0a2 2 0 1 0-4 0M638.8 36.6a2 2 0 1 0 4 0a2 2 0 1 0-4 0M578.9 108.0a2 2 0 1 0 4 0a2 2 0 1 0-4 0M604.6 54.9a2 2 0 1 0 4 0a2 2 0 1 0-4 0M581.6 83.9a2 2 0 1 0 4 0a2 2 0 1 0-4 0M643.3 81.7a2 2 0 1 0 4 0a2 2 0 1 0-4 0M597.7 109.4a2 2 0 1 0 4 0a2 2 0 1 0-4 0M643.9 34.7a2 2 0 1 0 4 0a2 2 0 1 0-4 0M579.9 99.6a2 2 0 1 0 4 0a2 2 0 1 0-4 0M627.9 95.4a2 2 0 1 0 4 0a2 2 0 1 0-4 0M581.6 109.8a2 2 0 1 0 4 0a2 2 0 1 0-4 0M644.5 76.6a2 2 0 1 0 4 0a2 2 0 1 0-4 0M614.9 85.5a2 2 0 1 0 4 0a2 2 0 1 0-4 0M649.2 43.0a2 2 0 1 0 4 0a2 2 0 1 0-4 0M634.3 92.3a2 2 0 1 0 4 0a2 2 0 1 0-4 0M618.6 73.4a2 2 0 1 0 4 0a2 2 0 1 0-4 0M629.1 100.4a2 2 0 1 0 4 0a2 2 0 1 0-4 0M636.5 35.0a2 2 0 1 0 4 0a2 2 0 1 0-4 0M641.7 31.0a2 2 0 1 0 4 0a2 2 0 1 0-4 0M619.8 57.8a2 2 0 1 0 4 0a2 2 0 1 0-4 0M648.5 36.8a2 2 0 1 0 4 0a2 2 0 1 0-4 0M618.8 72.5a2 2 0 1 0 4 0a2 2 0 1 0-4 0M623.6 56.8a2 2 0 1 0 4 0a2 2 0 1 0-4 0M589.4 110.8a2 2 0 1 0 4 0a2 2 0 1 0-4 0M647.4 41.2a2 2 0 1 0 4 0a2 2 0 1 0-4 0M612.0 93.8a2 2 0 1 0 4 0a2 2 0 1 0-4 0M578.0 105.6a2 2 0 1 0 4 0a2 2 0 1 0-4 0M651.1 46.3a2 2 0 1 0 4 0a2 2 0 1 0-4 0M628.3 100.9a2 2 0 1 0 4 0a2 2 0 1 0-4 0M599.1 109.2a2 2 0 1 0 4 0a2 2 0 1 0-4 0M630.6 41.5a2 2 0 1 0 4 0a2 2 0 1 0-4 0M641.2 31.0a2 2 0 1 0 4 0a2 2 0 1 0-4 0M615.4 60.8a2 2 0 1 0 4 0a2 2 0 1 0-4 0M620.4 85.3a2 2 0 1 0 4 0a2 2 0 1 0-4 0M624.9 95.4a2 2 0 1 0 4 0a2 2 0 1 0-4 0M642.4 81.7a2 2 0 1 0 4 0a2 2 0 1 0-4 0M621.3 95.1a2 2 0 1 0 4 0a2 2 0 1 0-4 0M625.6 100.7a2 2 0 1 0 4 0a2 2 0 1 0-4 0M634.6 36.0a2 2 0 1 0 4 0a2 2 0 1 0-4 0M640.5 33.9a2 2 0 1 0 4 0a2 2 0 1 0-4 0M598.1 112.8a2 2 0 1 0 4 0a2 2 0 1 0-4 0M580.6 102.9a2 2 0 1 0 4 0a2 2 0 1 0-4 0M586.8 71.5a2 2 0 1 0 4 0a2 2 0 1 0-4 0M649.0 49.2a2 2 0 1 0 4 0a2 2 0 1 0-4 0M595.7 111.2a2 2 0 1 0 4 0a2 2 0 1 0-4 0M623.2 92.8a2 2 0 1 0 4 0a2 2 0 1 0-4 0M583.1 110.0a2 2 0 1 0 4 0a2 2 0 1 0-4 0M619.6 83.9a2 2 0 1 0 4 0a2 2 0 1 0-4 0M619.8 84.5a2 2 0 1 0 4 0a2 2 0 1 0-4 0M627.5 97.9a2 2 0 1 0 4 0a2 2 0 1 0-4 0M605.2 104.6a2 2 0 1 0 4 0a2 2 0 1 0-4 0M602.3 105.6a2 2 0 1 0 4 0a2 2 0 1 0-4 0M606.9 101.9a2 2 0 1 0 4 0a2 2 0 1 0-4 0M649.1 55.1a2 2 0 1 0 4 0a2 2 0 1 0-4 0M650.0 48.3a2 2 0 1 0 4 0a2 2 0 1 0-4 0M579.8 98.9a2 2 0 1 0 4 0a2 2 0 1 0-4 0M647.0 38.8a2 2 0 1 0 4 0a2 2 0 1 0-4 0M593.0 64.3a2 2 0 1 0 4 0a2 2 0 1 0-4 0M619.6 74.8a2 2 0 1 0 4 0a2 2 0 1 0-4 0M617.8 61.4a2 2 0 1 0 4 0a2 2 0 1 0-4 0M627.4 95.2a2 2 0 1 0 4 0a2 2 0 1 0-4 0M580.3 91.5a2 2 0 1 0 4 0a2 2 0 1 0-4 0M580.6 97.1a2 2 0 1 0 4 0a2 2 0 1 0-4 0M609.9 95.4a2 2 0 1 0 4 0a2 2 0 1 0-4 0M626.7 47.9a2 2 0 1 0 4 0a2 2 0 1 0-4 0M577.8 105.8a2 2 0 1 0 4 0a2 2 0 1 0-4 0M637.7 37.1a2 2 0 1 0 4 0a2 2 0 1 0-4 0M598.6 112.3a2 2 0 1 0 4 0a2 2 0 1 0-4 0M591.2 111.0a2 2 0 1 0 4 0a2 2 0 1 0-4 0M643.9 37.6a2 2 0 1 0 4 0a2 2 0 1 0-4 0M642.0 31.3a2 2 0 1 0 4 0a2 2 0 1 0-4 0M617.3 82.1a2 2 0 1 0 4 0a2 2 0 1 0-4 0M648.8 62.1a2 2 0 1 0 4 0a2 2 0 1 0-4 0M647.7 44.0a2 2 0 1 0 4 0a2 2 0 1 0-4 0M629.1 101.5a2 2 0 1 0 4 0a2 2 0 1 0-4 0M598.9 109.5a2 2 0 1 0 4 0a2 2 0 1 0-4 0M616.3 54.0a2 2 0 1 0 4 0a2 2 0 1 0-4 0M580.3 92.6a2 2 0 1 0 4 0a2 2 0 1 0-4 0M581.3 108.1a2 2 0 1 0 4 0a2 2 0 1 0-4 0M604.2 54.4a2 2 0 1 0 4 0a2 2 0 1 0-4 0M584.5 75.4a2 2 0 1 0 4 0a2 2 0 1 0-4 0M636.6 36.8a2 2 0 1 0 4 0a2 2 0 1 0-4 0M617.1 84.6a2 2 0 1 0 4 0a2 2 0 1 0-4 0M601.8 108.3a2 2 0 1 0 4 0a2 2 0 1 0-4 0M596.6 60.4a2 2 0 1 0 4 0a2 2 0 1 0-4 0M616.0 63.1a2 2 0 1 0 4 0a2 2 0 1 0-4 0M619.1 75.0a2 2 0 1 0 4 0a2 2 0 1 0-4 0M623.5 93.3a2 2 0 1 0 4 0a2 2 0 1 0-4 0M625.6 45.1a2 2 0 1 0 4 0a2 2 0 1 0-4 0M615.2 59.7a2 2 0 1 0 4 0a2 2 0 1 0-4 0M581.3 94.7a2 2 0 1 0 4 0a2 2 0 1 0-4 0M648.5 64.4a2 2 0 1 0 4 0a2 2 0 1 0-4 0M607.5 55.1a2 2 0 1 0 4 0a2 2 0 1 0-4 0M580.6 111.4a2 2 0 1 0 4 0a2 2 0 1 0-4 0M590.0 67.8a2 2 0 1 0 4 0a2 2 0 1 0-4 0M645.1 38.1a2 2 0 1 0 4 0a2 2 0 1 0-4 0M648.4 68.0a2 2 0 1 0 4 0a2 2 0 1 0-4 0M634.7 38.7a2 2 0 1 0 4 0a2 2 0 1 0-4 0M630.0 95.6a2 2 0 1 0 4 0a2 2 0 1 0-4 0M604.8 56.5a2 2 0 1 0 4 0a2 2 0 1 0-4 0M598.9 58.6a2 2 0 1 0 4 0a2 2 0 1 0-4 0M619.5 77.3a2 2 0 1 0 4 0a2 2 0 1 0-4 0M641.2 30.1a2 2 0 1 0 4 0a2 2 0 1 0-4 0M645.6 74.6a2 2 0 1 0 4 0a2 2 0 1 0-4 0M585.1 109.8a2 2 0 1 0 4 0a2 2 0 1 0-4 0M600.7 107.1a2 2 0 1 0 4 0a2 2 0 1 0-4 0M618.5 78.9a2 2 0 1 0 4 0a2 2 0 1 0-4 0M624.6 92.8a2 2 0 1 0 4 0a2 2 0 1 0-4 0M625.6 48.8a2 2 0 1 0 4 0a2 2 0 1 0-4 0M641.2 90.3a2 2 0 1 0 4 0a2 2 0 1 0-4 0M624.6 95.4a2 2 0 1 0 4 0a2 2 0 1 0-4 0M579.3 89.6a2 2 0 1 0 4 0a2 2 0 1 0-4 0M597.5 59.7a2 2 0 1 0 4 0a2 2 0 1 0-4 0M617.6 66.4a2 2 0 1 0 4 0a2 2 0 1 0-4 0M619.8 64.7a2 2 0 1 0 4 0a2 2 0 1 0-4 0M609.2 56.3a2 2 0 1 0 4 0a2 2 0 1 0-4 0M603.2 105.7a2 2 0 1 0 4 0a2 2 0 1 0-4 0M594.2 58.4a2 2 0 1 0 4 0a2 2 0 1 0-4 0M642.4 34.7a2 2 0 1 0 4 0a2 2 0 1 0-4 0M619.5 71.8a2 2 0 1 0 4 0a2 2 0 1 0-4 0M601.8 53.3a2 2 0 1 0 4 0a2 2 0 1 0-4 0M618.7 75.9a2 2 0 1 0 4 0a2 2 0 1 0-4 0M581.5 102.6a2 2 0 1 0 4 0a2 2 0 1 0-4 0M601.6 110.6a2 2 0 1 0 4 0a2 2 0 1 0-4 0M601.9 108.7a2 2 0 1 0 4 0a2 2 0 1 0-4 0M625.0 47.9a2 2 0 1 0 4 0a2 2 0 1 0-4 0M607.8 98.9a2 2 0 1 0 4 0a2 2 0 1 0-4 0M636.8 91.2a2 2 0 1 0 4 0a2 2 0 1 0-4 0M648.9 44.1a2 2 0 1 0 4 0a2 2 0 1 0-4 0M636.9 93.9a2 2 0 1 0 4 0a2 2 0 1 0-4 0M616.4 88.3a2 2 0 1 0 4 0a2 2 0 1 0-4 0M609.8 55.4a2 2 0 1 0 4 0a2 2 0 1 0-4 0M619.2 84.4a2 2 0 1 0 4 0a2 2 0 1 0-4 0M610.7 55.8a2 2 0 1 0 4 0a2 2 0 1 0-4 0M620.7 92.8a2 2 0 1 0 4 0a2 2 0 1 0-4 0M644.7 38.4a2 2 0 1 0 4 0a2 2 0 1 0-4 0M585.1 76.3a2 2 0 1 0 4 0a2 2 0 1 0-4 0M640.3 91.3a2 2 0 1 0 4 0a2 2 0 1 0-4 0M637.8 36.5a2 2 0 1 0 4 0a2 2 0 1 0-4 0M612.5 91.7a2 2 0 1 0 4 0a2 2 0 1 0-4 0M649.0 58.1a2 2 0 1 0 4 0a2 2 0 1 0-4 0M582.1 87.7a2 2 0 1 0 4 0a2 2 0 1 0-4 0M626.1 42.4a2 2 0 1 0 4 0a2 2 0 1 0-4 0M641.9 35.9a2 2 0 1 0 4 0a2 2 0 1 0-4 0M648.7 62.6a2 2 0 1 0 4 0a2 2 0 1 0-4 0M594.3 110.8a2 2 0 1 0 4 0a2 2 0 1 0-4 0M640.7 85.2a2 2 0 1 0 4 0a2 2 0 1 0-4 0M607.0 101.8a2 2 0 1 0 4 0a2 2 0 1 0-4 0M617.6 75.3a2 2 0 1 0 4 0a2 2 0 1 0-4 0M590.7 112.9a2 2 0 1 0 4 0a2 2 0 1 0-4 0M600.9 107.1a2 2 0 1 0 4 0a2 2 0 1 0-4 0M617.0 80.1a2 2 0 1 0 4 0a2 2 0 1 0-4 0M641.7 83.0a2 2 0 1 0 4 0a2 2 0 1 0-4 0M629.4 95.1a2 2 0 1 0 4 0a2 2 0 1 0-4 0M620.0 82.3a2 2 0 1 0 4 0a2 2 0 1 0-4 0M646.5 77.3a2 2 0 1 0 4 0a2 2 0 1 0-4 0M583.6 81.8a2 2 0 1 0 4 0a2 2 0 1 0-4 0M646.9 32.9a2 2 0 1 0 4 0a2 2 0 1 0-4 0M614.2 55.6a2 2 0 1 0 4 0a2 2 0 1 0-4 0M646.1 39.4a2 2 0 1 0 4 0a2 2 0 1 0-4 0M582.4 80.7a2 2 0 1 0 4 0a2 2 0 1 0-4 0M650.3 56.8a2 2 0 1 0 4 0a2 2 0 1 0-4 0M645.7 39.0a2 2 0 1 0 4 0a2 2 0 1 0-4 0M615.7 61.7a2 2 0 1 0 4 0a2 2 0 1 0-4 0M647.6 40.6a2 2 0 1 0 4 0a2 2 0 1 0-4 0M637.7 89.2a2 2 0 1 0 4 0a2 2 0 1 0-4 0M649.6 57.7a2 2 0 1 0 4 0a2 2 0 1 0-4 0M648.6 65.7a2 2 0 1 0 4 0a2 2 0 1 0-4 0M629.1 45.1a2 2 0 1 0 4 0a2 2 0 1 0-4 0M591.8 66.2a2 2 0 1 0 4 0a2 2 0 1 0-4 0M648.4 67.5a2 2 0 1 0 4 0a2 2 0 1 0-4 0M644.8 34.4a2 2 0 1 0 4 0a2 2 0 1 0-4 0M580.6 98.2a2 2 0 1 0 4 0a2 2 0 1 0-4 0M579.0 109.3a2 2 0 1 0 4 0a2 2 0 1 0-4 0M647.3 73.5a2 2 0 1 0 4 0a2 2 0 1 0-4 0M651.7 60.9a2 2 0 1 0 4 0a2 2 0 1 0-4 0M602.8 56.9a2 2 0 1 0 4 0a2 2 0 1 0-4 0M580.2 87.9a2 2 0 1 0 4 0a2 2 0 1 0-4 0M585.9 112.8a2 2 0 1 0 4 0a2 2 0 1 0-4 0M609.1 96.7a2 2 0 1 0 4 0a2 2 0 1 0-4 0M582.8 79.5a2 2 0 1 0 4 0a2 2 0 1 0-4 0M623.4 92.7a2 2 0 1 0 4 0a2 2 0 1 0-4 0M652.1 55.4a2 2 0 1 0 4 0a2 2 0 1 0-4 0M647.9 38.1a2 2 0 1 0 4 0a2 2 0 1 0-4 0M581.5 84.5a2 2 0 1 0 4 0a2 2 0 1 0-4 0M639.9 89.0a2 2 0 1 0 4 0a2 2 0 1 0-4 0M617.1 67.9a2 2 0 1 0 4 0a2 2 0 1 0-4 0M630.1 95.9a2 2 0 1 0 4 0a2 2 0 1 0-4 0M611.3 99.5a2 2 0 1 0 4 0a2 2 0 1 0-4 0M623.9 55.5a2 2 0 1 0 4 0a2 2 0 1 0-4 0M645.6 39.0a2 2 0 1 0 4 0a2 2 0 1 0-4 0M648.7 61.8a2 2 0 1 0 4 0a2 2 0 1 0-4 0M649.4 42.0a2 2 0 1 0 4 0a2 2 0 1 0-4 0M619.3 66.3a2 2 0 1 0 4 0a2 2 0 1 0-4 0M618.7 87.9a2 2 0 1 0 4 0a2 2 0 1 0-4 0M619.8 78.8a2 2 0 1 0 4 0a2 2 0 1 0-4 0M625.5 48.1a2 2 0 1 0 4 0a2 2 0 1 0-4 0M644.3 36.2a2 2 0 1 0 4 0a2 2 0 1 0-4 0M648.0 68.9a2 2 0 1 0 4 0a2 2 0 1 0-4 0M602.9 106.1a2 2 0 1 0 4 0a2 2 0 1 0-4 0M608.8 54.5a2 2 0 1 0 4 0a2 2 0 1 0-4 0M630.2 95.5a2 2 0 1 0 4 0a2 2 0 1 0-4 0M618.9 83.4a2 2 0 1 0 4 0a2 2 0 1 0-4 0M640.7 35.0a2 2 0 1 0 4 0a2 2 0 1 0-4 0M619.6 82.8a2 2 0 1 0 4 0a2 2 0 1 0-4 0M650.8 39.6a2 2 0 1 0 4 0a2 2 0 1 0-4 0M579.5 94.4a2 2 0 1 0 4 0a2 2 0 1 0-4 0M641.0 85.7a2 2 0 1 0 4 0a2 2 0 1 0-4 0M650.4 62.3a2 2 0 1 0 4 0a2 2 0 1 0-4 0M620.0 57.5a2 2 0 1 0 4 0a2 2 0 1 0-4 0M623.9 55.8a2 2 0 1 0 4 0a2 2 0 1 0-4 0M612.1 57.4a2 2 0 1 0 4 0a2 2 0 1 0-4 0M607.6 100.5a2 2 0 1 0 4 0a2 2 0 1 0-4 0M646.1 38.4a2 2 0 1 0 4 0a2 2 0 1 0-4 0M618.4 92.2a2 2 0 1 0 4 0a2 2 0 1 0-4 0M605.1 104.1a2 2 0 1 0 4 0a2 2 0 1 0-4 0M634.0 92.9a2 2 0 1 0 4 0a2 2 0 1 0-4 0M623.4 53.7a2 2 0 1 0 4 0a2 2 0 1 0-4 0M584.7 108.6a2 2 0 1 0 4 0a2 2 0 1 0-4 0M635.3 93.5a2 2 0 1 0 4 0a2 2 0 1 0-4 0M629.4 97.5a2 2 0 1 0 4 0a2 2 0 1 0-4 0M636.6 30.2a2 2 0 1 0 4 0a2 2 0 1 0-4 0M635.0 98.3a2 2 0 1 0 4 0a2 2 0 1 0-4 0M626.0 93.7a2 2 0 1 0 4 0a2 2 0 1 0-4 0M641.2 86.9a2 2 0 1 0 4 0a2 2 0 1 0-4 0M613.7 58.7a2 2 0 1 0 4 0a2 2 0 1 0-4 0M588.8 128.0a2 2 0 1 0 4 0a2 2 0 1 0-4 0M642.0 25.8a2 2 0 1 0 4 0a2 2 0 1 0-4 0M644.0 25.8a2 2 0 1 0 4 0a2 2 0 1 0-4 0M648.0 26.0a2 2 0 1 0 4 0a2 2 0 1 0-4 0M656.0 37.0a2 2 0 1 0 4 0a2 2 0 1 0-4 0M658.0 56.0a2 2 0 1 0 4 0a2 2 0 1 0-4 0M627.0 104.0a2 2 0 1 0 4 0a2 2 0 1 0-4 0M632.0 101.0a2 2 0 1 0 4 0a2 2 0 1 0-4 0M628.0 97.0a2 2 0 1 0 4 0a2 2 0 1 0-4 0M638.0 100.0a2 2 0 1 0 4 0a2 2 0 1 0-4 0M611.0 112.0a2 2 0 1 0 4 0a2 2 0 1 0-4 0M618.0 106.0a2 2 0 1 0 4 0a2 2 0 1 0-4 0M618.0 50.0a2 2 0 1 0 4 0a2 2 0 1 0-4 0M617.0 48.0a2 2 0 1 0 4 0a2 2 0 1 0-4 0"/>
<line x1="551.5" y1="110.4" x2="682.5" y2="39.7" stroke="#bcbcbc" stroke-width="0.7"/>
</g>
<rect x="551.5" y="22.5" width="131.0" height="110.0" fill="none" stroke="#999" stroke-width="1"/>
<line x1="569.5" y1="132.5" x2="569.5" y2="136.0" stroke="#aaa" stroke-width="1"/>
<text x="569.5" y="145.8" text-anchor="middle" font-size="8.7">60</text>
<line x1="603.2" y1="132.5" x2="603.2" y2="136.0" stroke="#aaa" stroke-width="1"/>
<text x="603.2" y="145.8" text-anchor="middle" font-size="8.7">65</text>
<line x1="636.8" y1="132.5" x2="636.8" y2="136.0" stroke="#aaa" stroke-width="1"/>
<text x="636.8" y="145.8" text-anchor="middle" font-size="8.7">70</text>
<line x1="670.5" y1="132.5" x2="670.5" y2="136.0" stroke="#aaa" stroke-width="1"/>
<text x="670.5" y="145.8" text-anchor="middle" font-size="8.7">75</text>
<line x1="548.0" y1="114.3" x2="551.5" y2="114.3" stroke="#aaa" stroke-width="1"/>
<text x="545.3" y="117.5" text-anchor="end" font-size="8.7">55</text>
<line x1="548.0" y1="96.7" x2="551.5" y2="96.7" stroke="#aaa" stroke-width="1"/>
<text x="545.3" y="99.9" text-anchor="end" font-size="8.7">60</text>
<line x1="548.0" y1="79.1" x2="551.5" y2="79.1" stroke="#aaa" stroke-width="1"/>
<text x="545.3" y="82.3" text-anchor="end" font-size="8.7">65</text>
<line x1="548.0" y1="61.5" x2="551.5" y2="61.5" stroke="#aaa" stroke-width="1"/>
<text x="545.3" y="64.7" text-anchor="end" font-size="8.7">70</text>
<line x1="548.0" y1="43.9" x2="551.5" y2="43.9" stroke="#aaa" stroke-width="1"/>
<text x="545.3" y="47.1" text-anchor="end" font-size="8.7">75</text>
<line x1="548.0" y1="26.3" x2="551.5" y2="26.3" stroke="#aaa" stroke-width="1"/>
<text x="545.3" y="29.5" text-anchor="end" font-size="8.7">80</text>
<text transform="translate(527.5,78.3) rotate(-90)" text-anchor="middle" font-size="8.8">Actual HGT</text>
<text x="615.6" y="12.3" text-anchor="middle" font-size="8.66">UK Biobank (<tspan font-style="italic">N</tspan> = 437 K)</text>
<text x="519.7" y="11.0" font-weight="bold" font-size="15.3" fill="#000">d</text>
<text x="615.6" y="159.5" text-anchor="middle" font-size="8.68">Predicted HGT using LDpred+MTAG</text>
<text x="615.6" y="178.0" text-anchor="middle"><tspan font-style="italic">R</tspan><tspan font-size="6.3" dy="-1.9" dx="0.5">2</tspan><tspan dy="1.9"> = 35.8%</tspan></text>
<text x="615.6" y="187.8" text-anchor="middle">(<tspan font-style="italic" dx="0.8">R</tspan><tspan font-size="6.3" dy="-2.4" dx="0.5">2</tspan><tspan font-size="6.3" font-style="italic" dy="5.4" dx="0.5">m</tspan><tspan dy="-3.0" dx="0.8">= 34.2%, </tspan><tspan font-style="italic">R</tspan><tspan font-size="6.3" dy="-2.4" dx="0.5">2</tspan><tspan font-size="6.3" font-style="italic" dy="5.4" dx="0.5">w</tspan><tspan dy="-3.0" dx="0.8">= 36.9%)</tspan></text>
<clipPath id="c4"><rect x="30.5" y="228.5" width="131.0" height="110.0"/></clipPath>
<g clip-path="url(#c4)">
<path fill="#9cc9e1" d="M81.5 308.5L74 308.9L67.3 308.5L67.3 306L64.5 305.5L64.5 303L63 302.5L63 300L62.1 299.5L62.1 297L61.7 296.5L61.6 291L61.8 290.5L61.8 288L62.4 287.5L62.4 285L63.2 284.5L63.2 282L64.3 281.5L64.3 279L65.6 278.5L65.6 276L67.4 275.5L67.4 273L69.6 272.5L69.6 270.5L72.4 270L72.4 267.5L76.3 267L76.3 264.5L83 264.1L88 264.1L91.5 264.5L91.5 267L94.3 267.5L94.3 270L96.1 270.5L96.1 272.5L97.5 272.8L98.5 272.5L98.6 270.5L99.5 270L99.5 267.5L100.4 267L100.4 264.5L101.5 264L101.5 261.5L102.8 261L102.8 258.5L104.4 258L104.4 255.5L106.4 255L106.4 252.5L108.9 252L108.9 249.5L112.3 249L112.3 246.5L118.1 246L118.1 243.5L122 243.4L125.8 243.5L125.8 246L130.5 246.5L130.5 249L132.8 249.5L132.8 252L134.3 252.5L134.3 255L135.2 255.5L135.2 258L135.8 258.5L135.8 261L136 261.5L135.9 267L135.7 267.5L135.7 270L135.1 270.5L135.1 272.5L134.3 273L134.3 275.5L133.3 276L133.3 278.5L132 279L132 281.5L130.4 282L130.4 284.5L128.4 285L128.4 287.5L125.9 288L125.9 290.5L122.5 291L122.5 293.5L116.6 294L116.6 296.5L109.1 296.5L109.1 294L104.3 293.5L104.3 291L101.9 290.5L101.9 288L100.3 287.5L100.3 285L98.8 284.5L98.8 282L97.5 282L97.5 284.5L96.3 285L96.3 287.5L95.3 288L95.3 290.5L94.1 291L94.1 293.5L92.6 294L92.6 296.5L90.8 297L90.8 299.5L88.6 300L88.6 302.5L85.7 303L85.7 305.5L81.6 306L81.5 308.5Z"/>
<path fill="#90c2de" d="M119.5 290.5L113.5 290.8L108.2 290.5L108.2 288L105.2 287.5L105.2 285L103.7 284.5L103.7 282L102.8 281.5L102.8 279L102.3 278.5L102.2 275.5L102.5 270.5L103 270L103 267.5L103.9 267L103.9 264.5L105 264L105 261.5L106.5 261L106.5 258.5L108.5 258L108.5 255.5L111.1 255L111.1 252.5L115.1 252L115.1 249.5L121 249.2L126.7 249.5L126.7 252L129.6 252.5L129.6 255L131.1 255.5L131.1 258L132 258.5L132 261L132.4 261.5L132.5 264.5L132.3 270L131.8 270.5L131.8 272.5L130.9 273L130.9 275.5L129.8 276L129.8 278.5L128.3 279L128.3 281.5L126.3 282L126.3 284.5L123.7 285L123.7 287.5L119.7 288L119.7 290.5L119.5 290.5ZM80 305.5L74.5 305.8L69.9 305.5L69.9 303L66.9 302.5L66.9 300L65.5 299.5L65.5 297L64.7 296.5L64.5 291L64.6 288L65.1 287.5L65.1 285L66 284.5L66 282L67.1 281.5L67.1 279L68.7 278.5L68.7 276L70.7 275.5L70.7 273L73.4 272.5L73.4 270.5L77.5 270L77.5 267.5L83.5 267.2L89 267.5L89 270L91.7 270.5L91.7 272.5L93.1 273L93.1 275.5L93.8 276L94 281.5L93.8 284.5L93.2 285L93.2 287.5L92.4 288L92.4 290.5L91.1 291L91.1 293.5L89.5 294L89.5 296.5L87.5 297L87.5 299.5L84.7 300L84.7 302.5L80.3 303L80.3 305.5L80 305.5Z"/>
<path fill="#87bddc" d="M119.5 287.6L114 287.8L109 287.5L109 285L106.5 284.5L106.5 282L105.2 281.5L105.2 279L104.5 278.5L104.3 273L104.5 270.5L105.1 270L105.1 267.5L105.9 267L105.9 264.5L107.2 264L107.2 261.5L108.9 261L108.9 258.5L111.3 258L111.3 255.5L114.9 255L114.9 252.5L120.5 252.2L125.8 252.5L125.8 255L128.3 255.5L128.3 258L129.6 258.5L129.6 261L130.3 261.5L130.5 264.5L130.3 270L129.7 270.5L129.7 272.5L128.9 273L128.9 275.5L127.6 276L127.6 278.5L125.9 279L125.9 281.5L123.5 282L123.5 284.5L119.9 285L119.9 287.5L119.5 287.6ZM81.5 302.5L75 302.9L69.8 302.5L69.8 300L67.6 299.5L67.6 297L66.6 296.5L66.6 294L66.2 293.5L66.2 291L66.3 288L66.7 287.5L66.7 285L67.6 284.5L67.6 282L68.8 281.5L68.8 279L70.5 278.5L70.5 276L72.8 275.5L72.8 273L76.2 272.5L76.2 270.5L83 270.1L89 270.5L89 272.5L91 273L91 275.5L91.9 276L92.2 281.5L92.1 284.5L91.6 285L91.6 287.5L90.7 288L90.7 290.5L89.4 291L89.4 293.5L87.7 294L87.7 296.5L85.3 297L85.3 299.5L81.8 300L81.8 302.5L81.5 302.5Z"/>
<path fill="#7eb8da" d="M121 284.6L114 285L108.6 284.5L108.6 282L106.9 281.5L106.9 279L106 278.5L106 276L105.7 275.5L105.9 270.5L106.4 270L106.4 267.5L107.3 267L107.3 264.5L108.7 264L108.7 261.5L110.6 261L110.6 258.5L113.4 258L113.4 255.5L120.5 255L126.2 255.5L126.2 258L127.9 258.5L127.9 261L128.8 261.5L128.8 264L129.1 264.5L128.9 270L128.4 270.5L128.4 272.5L127.5 273L127.5 275.5L126.1 276L126.1 278.5L124.2 279L124.2 281.5L121.4 282L121.4 284.5L121 284.6ZM79 302.5L72.4 302.5L72.4 300L69.1 299.5L69.1 297L67.8 296.5L67.8 294L67.3 293.5L67.3 288L67.8 287.5L67.8 285L68.6 284.5L68.6 282L69.9 281.5L69.9 279L71.7 278.5L71.7 276L74.3 275.5L74.3 273L78.5 272.5L78.5 270.5L82.5 270.3L86.6 270.5L86.6 272.5L89.5 273L89.5 275.5L90.7 276L90.7 278.5L91.1 279L91.1 281.5L91.1 284.5L90.6 285L90.6 287.5L89.7 288L89.7 290.5L88.3 291L88.3 293.5L86.4 294L86.4 296.5L83.8 297L83.8 299.5L79.2 300L79 302.5Z"/>
<path fill="#75b3d8" d="M119 284.5L114.5 284.7L110.8 284.5L110.8 282L108.3 281.5L108.3 279L107.2 278.5L107.2 276L106.8 275.5L106.9 270.5L107.5 270L107.5 267.5L108.4 267L108.4 264.5L109.9 264L109.9 261.5L112 261L112 258.5L115.6 258L115.6 255.5L120 255.3L124 255.5L124 258L126.5 258.5L126.5 261L127.6 261.5L127.6 264L128 264.5L127.9 270L127.3 270.5L127.3 272.5L126.4 273L126.4 275.5L124.9 276L124.9 278.5L122.8 279L122.8 281.5L119.2 282L119.2 284.5L119 284.5ZM82 299.6L75.5 299.9L70.4 299.5L70.4 297L68.8 296.5L68.8 294L68.2 293.5L68.1 288L68.6 287.5L68.6 285L69.4 284.5L69.4 282L70.8 281.5L70.8 279L72.7 278.5L72.7 276L75.6 275.5L75.6 273L82.5 272.5L88 273L88.2 273L88.2 275.5L89.7 276L89.7 278.5L90.3 279L90.2 284.5L89.8 285L89.8 287.5L88.8 288L88.8 290.5L87.4 291L87.4 293.5L85.4 294L85.4 296.5L82.5 297L82.5 299.5L82 299.6Z"/>
<path fill="#6caed6" d="M115 284.5L114.7 284.5L114.7 282L109.7 281.5L109.7 279L108.3 278.5L108.3 276L107.8 275.5L107.8 273L107.9 270.5L108.4 270L108.4 267.5L109.4 267L109.4 264.5L111 264L111 261.5L113.4 261L113.4 258.5L119.3 258L119.3 255.5L120.3 255.5L120.3 258L125.2 258.5L125.2 261L126.5 261.5L126.5 264L127 264.5L126.9 270L126.4 270.5L126.4 272.5L125.4 273L125.4 275.5L123.8 276L123.8 278.5L121.4 279L121.4 281.5L115.3 282L115.3 284.5L115 284.5ZM81 299.5L76 299.8L71.7 299.5L71.7 297L69.7 296.5L69.7 294L68.9 293.5L68.8 288L69.2 287.5L69.2 285L70.1 284.5L70.1 282L71.5 281.5L71.5 279L73.6 278.5L73.6 276L76.8 275.5L76.8 273L82 272.6L87 273L87 275.5L88.8 276L88.8 278.5L89.5 279L89.6 284.5L89.1 285L89.1 287.5L88.2 288L88.2 290.5L86.7 291L86.7 293.5L84.6 294L84.6 296.5L81.2 297L81.2 299.5L81 299.5Z"/>
<path fill="#64a9d3" d="M120 281.5L115 281.8L111.1 281.5L111.1 279L109.3 278.5L109.3 276L108.7 275.5L108.7 270.5L109.2 270L109.2 267.5L110.3 267L110.3 264.5L112 264L112 261.5L114.8 261L114.8 258.5L119.5 258.2L123.8 258.5L123.8 261L125.5 261.5L125.5 264L126.1 264.5L126.1 270L125.6 270.5L125.6 272.5L124.5 273L124.5 275.5L122.8 276L122.8 278.5L120 279L120 281.5ZM79.5 299.5L73.1 299.5L73.1 297L70.5 296.5L70.5 294L69.6 293.5L69.4 288L69.8 287.5L69.8 285L70.7 284.5L70.7 282L72.2 281.5L72.2 279L74.3 278.5L74.3 276L78 275.5L78 273L82 272.8L85.7 273L85.7 275.5L88.1 276L88.1 278.5L88.9 279L89 284.5L88.5 285L88.5 287.5L87.6 288L87.6 290.5L86.1 291L86.1 293.5L83.8 294L83.8 296.5L79.8 297L79.8 299.5L79.5 299.5Z"/>
<path fill="#5da4d0" d="M118 281.5L112.7 281.5L112.7 279L110.3 278.5L110.3 276L109.5 275.5L109.4 270.5L110 270L110 267.5L111.1 267L111.1 264.5L112.9 264L112.9 261.5L116.5 261L116.5 258.5L122.1 258.5L122.1 261L124.5 261.5L124.5 264L125.3 264.5L125.4 270L124.8 270.5L124.8 272.5L123.7 273L123.7 275.5L121.9 276L121.9 278.5L118.3 279L118.3 281.5L118 281.5ZM77.5 299.5L75.1 299.5L75.1 297L71.2 296.5L71.2 294L70.2 293.5L70 288L70.3 287.5L70.3 285L71.2 284.5L71.2 282L72.8 281.5L72.8 279L75.1 278.5L75.1 276L79.5 275.5L79.5 273L84.2 273L84.2 275.5L87.3 276L87.3 278.5L88.3 279L88.4 284.5L88 285L88 287.5L87 288L87 290.5L85.5 291L85.5 293.5L83 294L83 296.5L77.8 297L77.8 299.5L77.5 299.5Z"/>
<path fill="#559fce" d="M120.5 278.6L115.5 279L111.3 278.5L111.3 276L110.3 275.5L110.1 270.5L110.7 270L110.7 267.5L111.9 267L111.9 264.5L113.9 264L113.9 261.5L119 261L123.5 261.5L123.5 264L124.5 264.5L124.7 270L124.1 270.5L124.1 272.5L122.9 273L122.9 275.5L120.9 276L120.9 278.5L120.5 278.6ZM82 296.5L76.5 296.9L72 296.5L72 294L70.7 293.5L70.4 288L70.8 287.5L70.8 285L71.7 284.5L71.7 282L73.3 281.5L73.3 279L75.8 278.5L75.8 276L81.5 275.5L86.5 276L86.6 278.5L87.7 279L87.9 284.5L87.5 285L87.5 287.5L86.5 288L86.5 290.5L84.9 291L84.9 293.5L82.3 294L82.3 296.5L82 296.5Z"/>
<path fill="#4e9acb" d="M119.5 278.5L115.5 278.8L112.4 278.5L112.4 276L111 275.5L110.9 270.5L111.4 270L111.4 267.5L112.6 267L112.6 264.5L115 264L115 261.5L119 261.2L122.4 261.5L122.4 264L123.8 264.5L123.9 270L123.4 270.5L123.4 272.5L122.1 273L122.1 275.5L119.8 276L119.8 278.5L119.5 278.5ZM81.5 296.5L77 296.8L72.7 296.5L72.7 294L71.2 293.5L70.9 288L71.3 287.5L71.3 285L72.2 284.5L72.2 282L73.8 281.5L73.8 279L76.5 278.5L76.5 276L81.5 275.6L85.9 276L85.9 278.5L87.2 279L87.5 284.5L87.1 285L87.1 287.5L86.1 288L86.1 290.5L84.4 291L84.4 293.5L81.5 294L81.5 296.5Z"/>
<path fill="#4795c8" d="M118 278.5L113.8 278.5L113.8 276L111.9 275.5L111.6 270.5L112.1 270L112.1 267.5L113.5 267L113.5 264.5L116.4 264L116.4 261.5L121.1 261.5L121.1 264L122.9 264.5L123.2 270L122.7 270.5L122.7 272.5L121.3 273L121.3 275.5L118.4 276L118.4 278.5L118 278.5ZM80.5 296.5L77 296.7L73.5 296.5L73.5 294L71.8 293.5L71.8 291L71.3 290.5L71.7 285L72.6 284.5L72.6 282L74.3 281.5L74.3 279L77.2 278.5L77.2 276L81.5 275.7L85.2 276L85.2 278.5L86.7 279L87.1 284.5L86.7 285L86.7 287.5L85.6 288L85.6 290.5L83.9 291L83.9 293.5L80.7 294L80.7 296.5L80.5 296.5Z"/>
<path fill="#4090c5" d="M120 275.6L116 275.9L112.7 275.5L112.7 273L112.3 272.5L112.3 270.5L112.8 270L112.8 267.5L114.3 267L114.3 264.5L118.5 264.1L122.1 264.5L122.1 267L122.5 267.5L122.5 270L122 270.5L122 272.5L120.5 273L120.5 275.5L120 275.6ZM79.5 296.5L74.5 296.5L74.5 294L72.3 293.5L72.3 291L71.8 290.5L72.1 285L73.1 284.5L73.1 282L74.8 281.5L74.8 279L78.1 278.5L78.1 276L81.5 275.8L84.3 276L84.3 278.5L86.2 279L86.2 281.5L86.6 282L86.3 287.5L85.2 288L85.2 290.5L83.4 291L83.4 293.5L79.8 294L79.8 296.5L79.5 296.5Z"/>
<path fill="#3a8ac2" d="M119 275.6L116 275.7L113.8 275.5L113.8 273L113.1 272.5L113.1 270.5L113.6 270L113.6 267.5L115.4 267L115.4 264.5L118.5 264.3L121 264.5L121 267L121.7 267.5L121.7 270L121.2 270.5L121.2 272.5L119.4 273L119.4 275.5L119 275.6ZM78 296.5L75.8 296.5L75.8 294L72.8 293.5L72.8 291L72.2 290.5L72.5 285L73.5 284.5L73.5 282L75.3 281.5L75.3 279L79.1 278.5L79.1 276L83.3 276L83.3 278.5L85.7 279L85.7 281.5L86.2 282L85.9 287.5L84.8 288L84.8 290.5L82.9 291L82.9 293.5L78.5 294L78.5 296.5L78 296.5Z"/>
<path fill="#3484bf" d="M117.5 275.5L115.3 275.5L115.3 273L113.9 272.5L113.9 270.5L114.5 270L114.5 267.5L116.9 267L116.9 264.5L119.5 264.5L119.5 267L120.9 267.5L120.9 270L120.3 270.5L120.3 272.5L117.9 273L117.9 275.5L117.5 275.5ZM82 293.6L77 293.9L73.3 293.5L73.3 291L72.6 290.5L72.8 285L73.9 284.5L73.9 282L75.8 281.5L75.8 279L81 278.5L85.3 279L85.3 281.5L85.8 282L85.5 287.5L84.4 288L84.4 290.5L82.3 291L82.3 293.5L82 293.6Z"/>
<path fill="#2e7ebc" d="M119 272.5L117 272.8L115 272.5L115 270.5L115.6 270L115.6 267.5L118 267.2L119.8 267.5L119.8 270L119.2 270.5L119.2 272.5L119 272.5ZM81.5 293.6L77 293.9L73.8 293.5L73.8 291L73 290.5L73.2 285L74.2 284.5L74.2 282L76.3 281.5L76.3 279L81 278.6L84.7 279L84.7 281.5L85.4 282L85.1 287.5L84 288L84 290.5L81.8 291L81.8 293.5L81.5 293.6Z"/>
<path fill="#2878b9" d="M81 293.5L77.5 293.8L74.4 293.5L74.4 291L73.4 290.5L73.6 285L74.6 284.5L74.6 282L76.8 281.5L76.8 279L81 278.7L84.2 279L84.2 281.5L85.1 282L84.8 287.5L83.6 288L83.6 290.5L81.2 291L81.2 293.5L81 293.5Z"/>
<path fill="#2272b6" d="M80.5 293.5L77.5 293.7L75 293.5L75 291L73.8 290.5L73.9 285L75 284.5L75 282L77.4 281.5L77.4 279L81 278.8L83.6 279L83.6 281.5L84.7 282L84.4 287.5L83.2 288L83.2 290.5L80.6 291L80.5 293.5Z"/>
<path fill="#1d6cb1" d="M79.5 293.5L75.8 293.5L75.8 291L74.2 290.5L74.3 285L75.4 284.5L75.4 282L78.1 281.5L78.1 279L83 279L83 281.5L84.3 282L84 287.5L82.8 288L82.8 290.5L79.8 291L79.8 293.5L79.5 293.5Z"/>
<path fill="#1966ad" d="M78.5 293.5L77 293.5L77 291L74.6 290.5L74.7 285L75.9 284.5L75.9 282L78.9 281.5L78.9 279L82.1 279L82.1 281.5L83.8 282L83.7 287.5L82.4 288L82.4 290.5L78.6 291L78.5 293.5Z"/>
<path fill="#1461a8" d="M81.5 290.6L78 290.9L75.1 290.5L75.1 285L76.3 284.5L76.3 282L80.5 281.5L83.4 282L83.3 287.5L81.9 288L81.9 290.5L81.5 290.6Z"/>
<path fill="#105ba4" d="M81 290.6L78 290.8L75.6 290.5L75.5 285L76.8 284.5L76.8 282L80.5 281.6L82.9 282L82.9 287.5L81.4 288L81.4 290.5L81 290.6Z"/>
<path fill="#0b559f" d="M80.5 290.5L78 290.7L76.1 290.5L75.9 285L77.3 284.5L77.3 282L80 281.7L82.4 282L82.4 287.5L80.8 288L80.8 290.5L80.5 290.5Z"/>
<path fill="#084f9a" d="M80 290.5L76.8 290.5L76.8 288L76.4 287.5L76.4 285L77.9 284.5L77.9 282L81.7 282L82 287.5L80.1 288L80 290.5Z"/>
<path fill="#084991" d="M78.5 290.5L78.5 288L76.9 287.5L76.9 285L78.9 284.5L78.9 282L80.8 282L80.8 284.5L81.4 285L81.4 287.5L78.5 288L78.5 290.5Z"/>
<path fill="#084388" d="M80.5 287.6L79 287.7L77.6 287.5L77.6 285L79.5 284.7L80.7 285L80.7 287.5L80.5 287.6Z"/>
<path fill="#9ECAE1" d="M124.0 286.4a2 2 0 1 0 4 0a2 2 0 1 0-4 0M63.7 304.4a2 2 0 1 0 4 0a2 2 0 1 0-4 0M69.7 271.5a2 2 0 1 0 4 0a2 2 0 1 0-4 0M116.2 244.6a2 2 0 1 0 4 0a2 2 0 1 0-4 0M99.2 283.5a2 2 0 1 0 4 0a2 2 0 1 0-4 0M133.7 268.5a2 2 0 1 0 4 0a2 2 0 1 0-4 0M91.0 271.5a2 2 0 1 0 4 0a2 2 0 1 0-4 0M63.9 304.4a2 2 0 1 0 4 0a2 2 0 1 0-4 0M109.9 292.4a2 2 0 1 0 4 0a2 2 0 1 0-4 0M93.8 286.4a2 2 0 1 0 4 0a2 2 0 1 0-4 0M100.8 262.5a2 2 0 1 0 4 0a2 2 0 1 0-4 0M68.4 271.5a2 2 0 1 0 4 0a2 2 0 1 0-4 0M99.3 280.5a2 2 0 1 0 4 0a2 2 0 1 0-4 0M103.1 289.4a2 2 0 1 0 4 0a2 2 0 1 0-4 0M131.9 265.5a2 2 0 1 0 4 0a2 2 0 1 0-4 0M128.7 244.6a2 2 0 1 0 4 0a2 2 0 1 0-4 0M62.5 277.5a2 2 0 1 0 4 0a2 2 0 1 0-4 0M125.5 247.6a2 2 0 1 0 4 0a2 2 0 1 0-4 0M65.9 304.4a2 2 0 1 0 4 0a2 2 0 1 0-4 0M130.7 253.6a2 2 0 1 0 4 0a2 2 0 1 0-4 0M132.9 262.5a2 2 0 1 0 4 0a2 2 0 1 0-4 0M106.7 292.4a2 2 0 1 0 4 0a2 2 0 1 0-4 0M80.9 265.5a2 2 0 1 0 4 0a2 2 0 1 0-4 0M61.8 286.4a2 2 0 1 0 4 0a2 2 0 1 0-4 0M113.3 295.4a2 2 0 1 0 4 0a2 2 0 1 0-4 0M98.1 274.5a2 2 0 1 0 4 0a2 2 0 1 0-4 0M109.2 250.6a2 2 0 1 0 4 0a2 2 0 1 0-4 0M116.9 244.6a2 2 0 1 0 4 0a2 2 0 1 0-4 0M64.5 307.4a2 2 0 1 0 4 0a2 2 0 1 0-4 0M93.6 277.5a2 2 0 1 0 4 0a2 2 0 1 0-4 0M123.2 286.4a2 2 0 1 0 4 0a2 2 0 1 0-4 0M97.8 277.5a2 2 0 1 0 4 0a2 2 0 1 0-4 0M101.5 292.4a2 2 0 1 0 4 0a2 2 0 1 0-4 0M103.2 289.4a2 2 0 1 0 4 0a2 2 0 1 0-4 0M98.7 286.4a2 2 0 1 0 4 0a2 2 0 1 0-4 0M130.0 280.5a2 2 0 1 0 4 0a2 2 0 1 0-4 0M109.9 295.4a2 2 0 1 0 4 0a2 2 0 1 0-4 0M109.4 292.4a2 2 0 1 0 4 0a2 2 0 1 0-4 0M101.9 289.4a2 2 0 1 0 4 0a2 2 0 1 0-4 0M99.5 286.4a2 2 0 1 0 4 0a2 2 0 1 0-4 0M72.3 310.4a2 2 0 1 0 4 0a2 2 0 1 0-4 0M101.8 289.4a2 2 0 1 0 4 0a2 2 0 1 0-4 0M65.2 277.5a2 2 0 1 0 4 0a2 2 0 1 0-4 0M98.8 265.5a2 2 0 1 0 4 0a2 2 0 1 0-4 0M96.3 274.5a2 2 0 1 0 4 0a2 2 0 1 0-4 0M61.7 292.4a2 2 0 1 0 4 0a2 2 0 1 0-4 0M65.9 307.4a2 2 0 1 0 4 0a2 2 0 1 0-4 0M129.2 250.6a2 2 0 1 0 4 0a2 2 0 1 0-4 0M110.2 247.6a2 2 0 1 0 4 0a2 2 0 1 0-4 0M61.3 286.4a2 2 0 1 0 4 0a2 2 0 1 0-4 0M95.8 277.5a2 2 0 1 0 4 0a2 2 0 1 0-4 0M120.1 289.4a2 2 0 1 0 4 0a2 2 0 1 0-4 0M102.3 253.6a2 2 0 1 0 4 0a2 2 0 1 0-4 0M134.1 262.5a2 2 0 1 0 4 0a2 2 0 1 0-4 0M122.5 292.4a2 2 0 1 0 4 0a2 2 0 1 0-4 0M114.4 244.6a2 2 0 1 0 4 0a2 2 0 1 0-4 0M97.6 280.5a2 2 0 1 0 4 0a2 2 0 1 0-4 0M96.3 283.5a2 2 0 1 0 4 0a2 2 0 1 0-4 0M65.9 310.4a2 2 0 1 0 4 0a2 2 0 1 0-4 0M109.1 247.6a2 2 0 1 0 4 0a2 2 0 1 0-4 0M62.4 283.5a2 2 0 1 0 4 0a2 2 0 1 0-4 0M126.1 289.4a2 2 0 1 0 4 0a2 2 0 1 0-4 0M61.6 292.4a2 2 0 1 0 4 0a2 2 0 1 0-4 0M118.6 247.6a2 2 0 1 0 4 0a2 2 0 1 0-4 0M132.4 253.6a2 2 0 1 0 4 0a2 2 0 1 0-4 0M90.2 292.4a2 2 0 1 0 4 0a2 2 0 1 0-4 0M63.3 304.4a2 2 0 1 0 4 0a2 2 0 1 0-4 0M114.3 292.4a2 2 0 1 0 4 0a2 2 0 1 0-4 0M83.7 301.4a2 2 0 1 0 4 0a2 2 0 1 0-4 0M129.5 277.5a2 2 0 1 0 4 0a2 2 0 1 0-4 0M63.3 283.5a2 2 0 1 0 4 0a2 2 0 1 0-4 0M99.9 268.5a2 2 0 1 0 4 0a2 2 0 1 0-4 0M133.5 256.6a2 2 0 1 0 4 0a2 2 0 1 0-4 0M78.4 265.5a2 2 0 1 0 4 0a2 2 0 1 0-4 0M95.3 271.5a2 2 0 1 0 4 0a2 2 0 1 0-4 0M115.6 292.4a2 2 0 1 0 4 0a2 2 0 1 0-4 0M134.4 271.5a2 2 0 1 0 4 0a2 2 0 1 0-4 0M99.0 280.5a2 2 0 1 0 4 0a2 2 0 1 0-4 0M120.7 247.6a2 2 0 1 0 4 0a2 2 0 1 0-4 0M80.5 304.4a2 2 0 1 0 4 0a2 2 0 1 0-4 0M123.6 286.4a2 2 0 1 0 4 0a2 2 0 1 0-4 0M132.7 274.5a2 2 0 1 0 4 0a2 2 0 1 0-4 0M65.6 277.5a2 2 0 1 0 4 0a2 2 0 1 0-4 0M119.2 292.4a2 2 0 1 0 4 0a2 2 0 1 0-4 0M107.2 292.4a2 2 0 1 0 4 0a2 2 0 1 0-4 0M74.1 310.4a2 2 0 1 0 4 0a2 2 0 1 0-4 0M127.1 283.5a2 2 0 1 0 4 0a2 2 0 1 0-4 0M121.5 292.4a2 2 0 1 0 4 0a2 2 0 1 0-4 0M70.7 268.5a2 2 0 1 0 4 0a2 2 0 1 0-4 0M99.2 286.4a2 2 0 1 0 4 0a2 2 0 1 0-4 0M59.0 286.4a2 2 0 1 0 4 0a2 2 0 1 0-4 0M59.8 289.4a2 2 0 1 0 4 0a2 2 0 1 0-4 0M62.5 277.5a2 2 0 1 0 4 0a2 2 0 1 0-4 0M130.6 256.6a2 2 0 1 0 4 0a2 2 0 1 0-4 0M80.3 304.4a2 2 0 1 0 4 0a2 2 0 1 0-4 0M95.3 289.4a2 2 0 1 0 4 0a2 2 0 1 0-4 0M100.6 283.5a2 2 0 1 0 4 0a2 2 0 1 0-4 0M130.6 280.5a2 2 0 1 0 4 0a2 2 0 1 0-4 0M88.6 295.4a2 2 0 1 0 4 0a2 2 0 1 0-4 0M103.7 289.4a2 2 0 1 0 4 0a2 2 0 1 0-4 0M87.3 298.4a2 2 0 1 0 4 0a2 2 0 1 0-4 0M132.2 265.5a2 2 0 1 0 4 0a2 2 0 1 0-4 0M132.2 280.5a2 2 0 1 0 4 0a2 2 0 1 0-4 0M61.8 283.5a2 2 0 1 0 4 0a2 2 0 1 0-4 0M132.0 265.5a2 2 0 1 0 4 0a2 2 0 1 0-4 0M120.2 247.6a2 2 0 1 0 4 0a2 2 0 1 0-4 0M95.1 268.5a2 2 0 1 0 4 0a2 2 0 1 0-4 0M126.9 250.6a2 2 0 1 0 4 0a2 2 0 1 0-4 0M124.0 286.4a2 2 0 1 0 4 0a2 2 0 1 0-4 0M84.1 301.4a2 2 0 1 0 4 0a2 2 0 1 0-4 0M74.6 265.5a2 2 0 1 0 4 0a2 2 0 1 0-4 0M90.2 292.4a2 2 0 1 0 4 0a2 2 0 1 0-4 0M84.6 265.5a2 2 0 1 0 4 0a2 2 0 1 0-4 0M128.0 244.6a2 2 0 1 0 4 0a2 2 0 1 0-4 0M97.7 286.4a2 2 0 1 0 4 0a2 2 0 1 0-4 0M122.6 292.4a2 2 0 1 0 4 0a2 2 0 1 0-4 0M69.2 271.5a2 2 0 1 0 4 0a2 2 0 1 0-4 0M91.5 268.5a2 2 0 1 0 4 0a2 2 0 1 0-4 0M61.6 280.5a2 2 0 1 0 4 0a2 2 0 1 0-4 0M119.2 244.6a2 2 0 1 0 4 0a2 2 0 1 0-4 0M97.5 280.5a2 2 0 1 0 4 0a2 2 0 1 0-4 0M61.9 298.4a2 2 0 1 0 4 0a2 2 0 1 0-4 0M110.5 247.6a2 2 0 1 0 4 0a2 2 0 1 0-4 0M91.0 289.4a2 2 0 1 0 4 0a2 2 0 1 0-4 0M118.9 244.6a2 2 0 1 0 4 0a2 2 0 1 0-4 0M129.7 253.6a2 2 0 1 0 4 0a2 2 0 1 0-4 0M72.8 307.4a2 2 0 1 0 4 0a2 2 0 1 0-4 0M109.3 292.4a2 2 0 1 0 4 0a2 2 0 1 0-4 0M99.7 268.5a2 2 0 1 0 4 0a2 2 0 1 0-4 0M103.2 292.4a2 2 0 1 0 4 0a2 2 0 1 0-4 0M100.4 283.5a2 2 0 1 0 4 0a2 2 0 1 0-4 0M77.6 307.4a2 2 0 1 0 4 0a2 2 0 1 0-4 0M123.1 247.6a2 2 0 1 0 4 0a2 2 0 1 0-4 0M92.1 274.5a2 2 0 1 0 4 0a2 2 0 1 0-4 0M133.1 268.5a2 2 0 1 0 4 0a2 2 0 1 0-4 0M90.4 295.4a2 2 0 1 0 4 0a2 2 0 1 0-4 0M121.2 292.4a2 2 0 1 0 4 0a2 2 0 1 0-4 0M60.9 289.4a2 2 0 1 0 4 0a2 2 0 1 0-4 0M130.5 250.6a2 2 0 1 0 4 0a2 2 0 1 0-4 0M61.4 304.4a2 2 0 1 0 4 0a2 2 0 1 0-4 0M113.7 244.6a2 2 0 1 0 4 0a2 2 0 1 0-4 0M111.7 295.4a2 2 0 1 0 4 0a2 2 0 1 0-4 0M60.2 301.4a2 2 0 1 0 4 0a2 2 0 1 0-4 0M115.2 247.6a2 2 0 1 0 4 0a2 2 0 1 0-4 0M113.7 247.6a2 2 0 1 0 4 0a2 2 0 1 0-4 0M124.9 247.6a2 2 0 1 0 4 0a2 2 0 1 0-4 0M98.1 277.5a2 2 0 1 0 4 0a2 2 0 1 0-4 0M97.9 265.5a2 2 0 1 0 4 0a2 2 0 1 0-4 0M131.7 265.5a2 2 0 1 0 4 0a2 2 0 1 0-4 0M61.5 283.5a2 2 0 1 0 4 0a2 2 0 1 0-4 0M101.5 289.4a2 2 0 1 0 4 0a2 2 0 1 0-4 0M93.2 277.5a2 2 0 1 0 4 0a2 2 0 1 0-4 0M111.0 292.4a2 2 0 1 0 4 0a2 2 0 1 0-4 0M102.5 256.6a2 2 0 1 0 4 0a2 2 0 1 0-4 0M100.1 265.5a2 2 0 1 0 4 0a2 2 0 1 0-4 0M100.2 268.5a2 2 0 1 0 4 0a2 2 0 1 0-4 0M131.6 274.5a2 2 0 1 0 4 0a2 2 0 1 0-4 0M134.3 259.5a2 2 0 1 0 4 0a2 2 0 1 0-4 0M131.0 256.6a2 2 0 1 0 4 0a2 2 0 1 0-4 0M75.7 265.5a2 2 0 1 0 4 0a2 2 0 1 0-4 0M100.5 283.5a2 2 0 1 0 4 0a2 2 0 1 0-4 0M104.2 289.4a2 2 0 1 0 4 0a2 2 0 1 0-4 0M96.6 265.5a2 2 0 1 0 4 0a2 2 0 1 0-4 0M80.7 265.5a2 2 0 1 0 4 0a2 2 0 1 0-4 0M94.8 274.5a2 2 0 1 0 4 0a2 2 0 1 0-4 0M71.3 307.4a2 2 0 1 0 4 0a2 2 0 1 0-4 0M90.1 298.4a2 2 0 1 0 4 0a2 2 0 1 0-4 0M127.0 289.4a2 2 0 1 0 4 0a2 2 0 1 0-4 0M119.7 244.6a2 2 0 1 0 4 0a2 2 0 1 0-4 0M112.6 298.4a2 2 0 1 0 4 0a2 2 0 1 0-4 0M129.7 244.6a2 2 0 1 0 4 0a2 2 0 1 0-4 0M129.0 250.6a2 2 0 1 0 4 0a2 2 0 1 0-4 0M128.2 286.4a2 2 0 1 0 4 0a2 2 0 1 0-4 0M83.4 265.5a2 2 0 1 0 4 0a2 2 0 1 0-4 0M82.0 265.5a2 2 0 1 0 4 0a2 2 0 1 0-4 0M80.1 304.4a2 2 0 1 0 4 0a2 2 0 1 0-4 0M119.5 247.6a2 2 0 1 0 4 0a2 2 0 1 0-4 0M127.3 280.5a2 2 0 1 0 4 0a2 2 0 1 0-4 0M61.2 295.4a2 2 0 1 0 4 0a2 2 0 1 0-4 0M99.2 259.5a2 2 0 1 0 4 0a2 2 0 1 0-4 0M96.6 280.5a2 2 0 1 0 4 0a2 2 0 1 0-4 0M114.4 247.6a2 2 0 1 0 4 0a2 2 0 1 0-4 0M113.5 247.6a2 2 0 1 0 4 0a2 2 0 1 0-4 0M92.6 274.5a2 2 0 1 0 4 0a2 2 0 1 0-4 0M99.9 265.5a2 2 0 1 0 4 0a2 2 0 1 0-4 0M100.8 262.5a2 2 0 1 0 4 0a2 2 0 1 0-4 0M95.6 283.5a2 2 0 1 0 4 0a2 2 0 1 0-4 0M77.9 307.4a2 2 0 1 0 4 0a2 2 0 1 0-4 0M125.3 286.4a2 2 0 1 0 4 0a2 2 0 1 0-4 0M66.1 271.5a2 2 0 1 0 4 0a2 2 0 1 0-4 0M59.0 292.4a2 2 0 1 0 4 0a2 2 0 1 0-4 0M108.1 292.4a2 2 0 1 0 4 0a2 2 0 1 0-4 0M68.6 271.5a2 2 0 1 0 4 0a2 2 0 1 0-4 0M81.4 304.4a2 2 0 1 0 4 0a2 2 0 1 0-4 0M122.6 289.4a2 2 0 1 0 4 0a2 2 0 1 0-4 0M61.9 289.4a2 2 0 1 0 4 0a2 2 0 1 0-4 0M99.5 283.5a2 2 0 1 0 4 0a2 2 0 1 0-4 0M106.6 250.6a2 2 0 1 0 4 0a2 2 0 1 0-4 0M124.5 241.6a2 2 0 1 0 4 0a2 2 0 1 0-4 0M66.5 271.5a2 2 0 1 0 4 0a2 2 0 1 0-4 0M119.6 289.4a2 2 0 1 0 4 0a2 2 0 1 0-4 0M100.0 283.5a2 2 0 1 0 4 0a2 2 0 1 0-4 0M92.0 268.5a2 2 0 1 0 4 0a2 2 0 1 0-4 0M128.9 277.5a2 2 0 1 0 4 0a2 2 0 1 0-4 0M128.5 280.5a2 2 0 1 0 4 0a2 2 0 1 0-4 0M113.3 295.4a2 2 0 1 0 4 0a2 2 0 1 0-4 0M94.1 277.5a2 2 0 1 0 4 0a2 2 0 1 0-4 0M97.1 277.5a2 2 0 1 0 4 0a2 2 0 1 0-4 0M92.4 274.5a2 2 0 1 0 4 0a2 2 0 1 0-4 0M125.6 247.6a2 2 0 1 0 4 0a2 2 0 1 0-4 0M89.7 268.5a2 2 0 1 0 4 0a2 2 0 1 0-4 0M130.5 280.5a2 2 0 1 0 4 0a2 2 0 1 0-4 0M120.9 244.6a2 2 0 1 0 4 0a2 2 0 1 0-4 0M70.5 307.4a2 2 0 1 0 4 0a2 2 0 1 0-4 0M96.1 265.5a2 2 0 1 0 4 0a2 2 0 1 0-4 0M113.8 295.4a2 2 0 1 0 4 0a2 2 0 1 0-4 0M92.3 286.4a2 2 0 1 0 4 0a2 2 0 1 0-4 0M99.5 277.5a2 2 0 1 0 4 0a2 2 0 1 0-4 0M103.6 289.4a2 2 0 1 0 4 0a2 2 0 1 0-4 0M102.1 262.5a2 2 0 1 0 4 0a2 2 0 1 0-4 0M100.8 256.6a2 2 0 1 0 4 0a2 2 0 1 0-4 0M64.3 274.5a2 2 0 1 0 4 0a2 2 0 1 0-4 0M126.2 247.6a2 2 0 1 0 4 0a2 2 0 1 0-4 0M92.5 283.5a2 2 0 1 0 4 0a2 2 0 1 0-4 0M109.0 247.6a2 2 0 1 0 4 0a2 2 0 1 0-4 0M84.0 301.4a2 2 0 1 0 4 0a2 2 0 1 0-4 0M88.6 268.5a2 2 0 1 0 4 0a2 2 0 1 0-4 0M101.1 259.5a2 2 0 1 0 4 0a2 2 0 1 0-4 0M127.2 250.6a2 2 0 1 0 4 0a2 2 0 1 0-4 0M115.5 292.4a2 2 0 1 0 4 0a2 2 0 1 0-4 0M99.1 277.5a2 2 0 1 0 4 0a2 2 0 1 0-4 0M75.5 265.5a2 2 0 1 0 4 0a2 2 0 1 0-4 0M126.3 286.4a2 2 0 1 0 4 0a2 2 0 1 0-4 0M117.8 292.4a2 2 0 1 0 4 0a2 2 0 1 0-4 0M67.2 274.5a2 2 0 1 0 4 0a2 2 0 1 0-4 0M96.8 280.5a2 2 0 1 0 4 0a2 2 0 1 0-4 0M80.7 304.4a2 2 0 1 0 4 0a2 2 0 1 0-4 0M65.8 277.5a2 2 0 1 0 4 0a2 2 0 1 0-4 0M82.8 307.4a2 2 0 1 0 4 0a2 2 0 1 0-4 0M124.7 247.6a2 2 0 1 0 4 0a2 2 0 1 0-4 0M100.4 265.5a2 2 0 1 0 4 0a2 2 0 1 0-4 0M98.7 268.5a2 2 0 1 0 4 0a2 2 0 1 0-4 0M60.9 301.4a2 2 0 1 0 4 0a2 2 0 1 0-4 0M120.0 289.4a2 2 0 1 0 4 0a2 2 0 1 0-4 0M113.3 244.6a2 2 0 1 0 4 0a2 2 0 1 0-4 0M127.9 280.5a2 2 0 1 0 4 0a2 2 0 1 0-4 0M93.6 280.5a2 2 0 1 0 4 0a2 2 0 1 0-4 0M92.1 289.4a2 2 0 1 0 4 0a2 2 0 1 0-4 0M93.0 274.5a2 2 0 1 0 4 0a2 2 0 1 0-4 0M66.9 307.4a2 2 0 1 0 4 0a2 2 0 1 0-4 0M126.6 244.6a2 2 0 1 0 4 0a2 2 0 1 0-4 0M75.3 310.4a2 2 0 1 0 4 0a2 2 0 1 0-4 0M103.4 289.4a2 2 0 1 0 4 0a2 2 0 1 0-4 0M108.8 292.4a2 2 0 1 0 4 0a2 2 0 1 0-4 0M104.8 256.6a2 2 0 1 0 4 0a2 2 0 1 0-4 0M90.6 292.4a2 2 0 1 0 4 0a2 2 0 1 0-4 0M130.7 253.6a2 2 0 1 0 4 0a2 2 0 1 0-4 0M97.2 277.5a2 2 0 1 0 4 0a2 2 0 1 0-4 0M77.6 310.4a2 2 0 1 0 4 0a2 2 0 1 0-4 0M93.0 280.5a2 2 0 1 0 4 0a2 2 0 1 0-4 0M105.0 232.4a2 2 0 1 0 4 0a2 2 0 1 0-4 0M107.0 232.4a2 2 0 1 0 4 0a2 2 0 1 0-4 0M109.0 232.4a2 2 0 1 0 4 0a2 2 0 1 0-4 0M115.5 232.4a2 2 0 1 0 4 0a2 2 0 1 0-4 0M121.3 232.4a2 2 0 1 0 4 0a2 2 0 1 0-4 0M125.6 232.4a2 2 0 1 0 4 0a2 2 0 1 0-4 0M75.0 244.0a2 2 0 1 0 4 0a2 2 0 1 0-4 0M76.0 247.0a2 2 0 1 0 4 0a2 2 0 1 0-4 0M77.0 249.0a2 2 0 1 0 4 0a2 2 0 1 0-4 0M78.0 256.0a2 2 0 1 0 4 0a2 2 0 1 0-4 0M65.0 271.0a2 2 0 1 0 4 0a2 2 0 1 0-4 0M60.0 313.0a2 2 0 1 0 4 0a2 2 0 1 0-4 0M77.0 322.0a2 2 0 1 0 4 0a2 2 0 1 0-4 0M81.0 325.0a2 2 0 1 0 4 0a2 2 0 1 0-4 0M114.0 325.0a2 2 0 1 0 4 0a2 2 0 1 0-4 0M112.0 334.0a2 2 0 1 0 4 0a2 2 0 1 0-4 0M123.0 334.0a2 2 0 1 0 4 0a2 2 0 1 0-4 0M102.0 301.0a2 2 0 1 0 4 0a2 2 0 1 0-4 0M105.0 301.0a2 2 0 1 0 4 0a2 2 0 1 0-4 0M108.0 301.0a2 2 0 1 0 4 0a2 2 0 1 0-4 0M111.0 301.0a2 2 0 1 0 4 0a2 2 0 1 0-4 0M113.0 303.0a2 2 0 1 0 4 0a2 2 0 1 0-4 0M125.0 299.0a2 2 0 1 0 4 0a2 2 0 1 0-4 0M127.0 301.0a2 2 0 1 0 4 0a2 2 0 1 0-4 0M102.0 260.0a2 2 0 1 0 4 0a2 2 0 1 0-4 0M98.0 263.0a2 2 0 1 0 4 0a2 2 0 1 0-4 0M102.0 248.0a2 2 0 1 0 4 0a2 2 0 1 0-4 0M136.0 253.0a2 2 0 1 0 4 0a2 2 0 1 0-4 0M131.0 268.0a2 2 0 1 0 4 0a2 2 0 1 0-4 0M129.0 264.0a2 2 0 1 0 4 0a2 2 0 1 0-4 0M95.0 296.0a2 2 0 1 0 4 0a2 2 0 1 0-4 0"/>
<line x1="30.5" y1="310.0" x2="161.5" y2="251.5" stroke="#bcbcbc" stroke-width="0.7"/>
</g>
<rect x="30.5" y="228.5" width="131.0" height="110.0" fill="none" stroke="#999" stroke-width="1"/>
<line x1="48.5" y1="338.5" x2="48.5" y2="342.0" stroke="#aaa" stroke-width="1"/>
<text x="48.5" y="351.8" text-anchor="middle" font-size="8.7">60</text>
<line x1="82.2" y1="338.5" x2="82.2" y2="342.0" stroke="#aaa" stroke-width="1"/>
<text x="82.2" y="351.8" text-anchor="middle" font-size="8.7">65</text>
<line x1="115.8" y1="338.5" x2="115.8" y2="342.0" stroke="#aaa" stroke-width="1"/>
<text x="115.8" y="351.8" text-anchor="middle" font-size="8.7">70</text>
<line x1="149.5" y1="338.5" x2="149.5" y2="342.0" stroke="#aaa" stroke-width="1"/>
<text x="149.5" y="351.8" text-anchor="middle" font-size="8.7">75</text>
<line x1="27.0" y1="331.3" x2="30.5" y2="331.3" stroke="#aaa" stroke-width="1"/>
<text x="24.1" y="334.5" text-anchor="end" font-size="8.7">50</text>
<line x1="27.0" y1="316.4" x2="30.5" y2="316.4" stroke="#aaa" stroke-width="1"/>
<text x="24.1" y="319.6" text-anchor="end" font-size="8.7">55</text>
<line x1="27.0" y1="301.4" x2="30.5" y2="301.4" stroke="#aaa" stroke-width="1"/>
<text x="24.1" y="304.6" text-anchor="end" font-size="8.7">60</text>
<line x1="27.0" y1="286.4" x2="30.5" y2="286.4" stroke="#aaa" stroke-width="1"/>
<text x="24.1" y="289.6" text-anchor="end" font-size="8.7">65</text>
<line x1="27.0" y1="271.5" x2="30.5" y2="271.5" stroke="#aaa" stroke-width="1"/>
<text x="24.1" y="274.7" text-anchor="end" font-size="8.7">70</text>
<line x1="27.0" y1="256.6" x2="30.5" y2="256.6" stroke="#aaa" stroke-width="1"/>
<text x="24.1" y="259.8" text-anchor="end" font-size="8.7">75</text>
<line x1="27.0" y1="241.6" x2="30.5" y2="241.6" stroke="#aaa" stroke-width="1"/>
<text x="24.1" y="244.8" text-anchor="end" font-size="8.7">80</text>
<text transform="translate(7.7,284.3) rotate(-90)" text-anchor="middle" font-size="8.8">Actual HGT</text>
<text x="95.0" y="218.3" text-anchor="middle" font-size="8.66">NHS/HPFS/PHS (<tspan font-style="italic">N</tspan> = 30 K)</text>
<text x="-0.6" y="217.0" font-weight="bold" font-size="15.3" fill="#000">e</text>
<text x="95.0" y="365.5" text-anchor="middle" font-size="8.68">Predicted HGT using Lasso+CTPR</text>
<text x="95.0" y="384.0" text-anchor="middle"><tspan font-style="italic">R</tspan><tspan font-size="6.3" dy="-1.9" dx="0.5">2</tspan><tspan dy="1.9"> = 11.3%</tspan></text>
<text x="95.0" y="393.8" text-anchor="middle">(<tspan font-style="italic" dx="0.8">R</tspan><tspan font-size="6.3" dy="-2.4" dx="0.5">2</tspan><tspan font-size="6.3" font-style="italic" dy="5.4" dx="0.5">m</tspan><tspan dy="-3.0" dx="0.8">= 9.3%, </tspan><tspan font-style="italic">R</tspan><tspan font-size="6.3" dy="-2.4" dx="0.5">2</tspan><tspan font-size="6.3" font-style="italic" dy="5.4" dx="0.5">w</tspan><tspan dy="-3.0" dx="0.8">= 12.9%)</tspan></text>
<clipPath id="c5"><rect x="204.5" y="228.5" width="131.0" height="110.0"/></clipPath>
<g clip-path="url(#c5)">
<path fill="#9dc9e1" d="M245 318.5L242.5 319L240 318.8L238 318L236.1 316.5L234.5 314.5L233.2 312L232.3 309L231.6 305.5L231.4 301.5L231.6 297L232.9 289L234.3 284L235.7 280L237.7 275.5L239.7 272L243.2 267L247.5 262.6L251 260.3L253 259.5L255 259.1L258 259.2L261 260.7L263.2 263L266 267.8L266.5 268.4L267 268.5L268 267L271.3 257L273.8 251L277.1 245L280.9 240L285 236.1L287 234.8L289.5 233.7L291.5 233.3L293.5 233.2L295.5 233.7L297 234.4L299 235.9L300.5 237.7L301.9 240L303.1 243L304.1 246.5L304.7 250L305 258L304.2 266L302.3 275L299.3 283.5L295.2 291.5L291.1 297L287 300.9L285 302.2L282.5 303.3L280.5 303.7L278.5 303.8L276.5 303.3L275 302.6L273.5 301.5L272 300L270.1 297L267.5 290.3L267 289.3L266.5 288.9L265.5 290L260.3 302.5L256.3 309L253.5 312.5L250.5 315.4L248 317.1L245 318.5Z"/>
<path fill="#90c2de" d="M282.5 296L279.5 296.1L277 295.1L274.8 293L272.9 289.5L271.7 285.5L271.1 280.5L271.2 275L271.8 269.5L273.2 263.5L274.8 258.5L277.3 253L280.1 248.5L283 245L286.5 242.2L289.5 241L292.5 240.9L295 241.9L296.8 243.5L298.4 246L299.8 249.5L300.6 253.5L300.9 258L300.8 262.5L300.2 267.5L298.8 273.5L297.4 278L295.7 282L293.3 286.5L290.8 290L288 292.9L285.5 294.8L282.5 296ZM245 312.6L242.5 312.7L240 311.8L237.7 309.5L236.2 306.5L235.3 302.5L235 298.5L235.3 294L236.2 289L237.7 284L239.7 279L242.2 274.5L244.8 271L247.5 268.3L250.5 266.3L253.5 265.3L256 265.4L258 266.2L259.9 268L261.2 270L262.2 273L262.9 276.5L263 280.5L262.7 284.5L261.8 289L260.4 294L258.7 298L256.7 302L254.7 305L252.5 307.7L250 310.1L247.5 311.7L245 312.6Z"/>
<path fill="#87bddc" d="M283.5 292.5L281 292.9L278.5 292.1L276.5 290.4L274.7 287.5L273.5 283.5L272.9 279L272.9 274.5L273.6 269L274.8 264L276.3 259.5L278.3 255L280.7 251L283.5 247.7L286 245.7L289 244.3L291.5 244.2L293.5 244.9L295.5 246.6L297.1 249L298.2 252L298.9 255.5L299.1 259.5L298.9 264L298.4 268L297.4 272.5L296.1 276.5L294.7 280L292.6 284L290.5 287L288 289.8L285.5 291.7L283.5 292.5ZM245 310L242.5 309.9L240.5 308.8L238.9 307L237.7 304.5L236.9 301L236.6 297L236.9 293L237.8 288.5L239.2 284L240.9 280L243.1 276L245.5 272.9L248 270.4L250.5 268.8L253 268L255.5 268.1L257.3 269L258.8 270.5L260 272.7L260.9 275.5L261.3 278.5L261.3 282L260.9 286L260.2 289.5L259.2 293L257.6 297L255.8 300.5L253.8 303.5L251.7 306L249.5 308L247.5 309.2L245 310Z"/>
<path fill="#7eb8da" d="M283 290.6L280.5 290.5L278.5 289.6L276.6 287.5L275.4 285L274.6 282L274.1 278L274.1 273.5L274.7 269L275.7 264.5L277.3 260L279.1 256L281.3 252.5L283.5 249.8L286 247.7L288.5 246.5L291 246.4L293 247.1L294.5 248.4L295.9 250.5L296.9 253L297.7 256.5L297.9 260L297.8 264L297.3 268L296.3 272.5L295.1 276L293.7 279.5L291.7 283L289.6 286L287.5 288.2L285 289.9L283 290.6ZM246 308.1L243.5 308.2L241.5 307.4L240 305.9L238.7 303.5L238 300.5L237.7 297L237.9 293L238.6 289L239.8 285L241.2 281.5L243.4 277.5L245.5 274.5L247.5 272.5L250 270.7L252.5 269.8L254.5 269.8L256 270.3L257.5 271.5L258.8 273.5L259.7 276L260.2 279L260.3 282L260.1 285L259.4 289L257.3 295.5L255.8 298.5L253.6 302L250 306L248 307.3L246 308.1Z"/>
<path fill="#75b3d8" d="M284 288.7L281.5 289L279.5 288.2L278 286.9L276.5 284.5L275.6 281.5L275.1 278L275 274L275.4 270L276.3 265.5L277.8 261L279.3 257.5L281.4 254L283.5 251.4L286 249.3L288.5 248.2L290.5 248L292.5 248.8L293.9 250L295.2 252L296 254L296.7 257L297 260L296.6 267L294.8 274.5L291.8 281L290 283.8L288 286.1L286 287.7L284 288.7ZM247 306.5L245 307L243 306.6L241.3 305.5L239.9 303.5L238.9 300.5L238.5 297.5L238.6 294L239.1 290L240.2 286L241.7 282L243.3 279L245.4 276L247.5 273.7L249.5 272.2L252 271.2L254 271.1L255.5 271.6L257 272.8L258.1 274.5L258.9 276.5L259.4 279L259.5 282L258.9 288L256.9 294.5L254.1 300L252.2 302.5L250.5 304.3L248.5 305.8L247 306.5Z"/>
<path fill="#6caed6" d="M283 287.5L281 287.4L279.5 286.6L278 284.9L276.8 282.5L276.1 279.5L275.7 276L275.8 272.5L276.4 268.5L277.3 264.5L278.8 260.5L280.2 257.5L282.1 254.5L284.3 252L286.5 250.3L288.5 249.5L290.5 249.5L292 250.1L293.5 251.4L294.5 253L295.5 255.5L296.1 258.5L296.3 261.5L295.6 268.5L293.6 275.5L292.3 278.5L290.6 281.5L289 283.6L287 285.6L285 286.9L283 287.5ZM246.5 305.6L244.5 305.8L243 305.3L241.5 304.1L240.2 302L239.5 299.5L239.1 296.5L239.3 293L239.8 289.5L240.8 286L242.2 282.5L243.8 279.5L245.9 276.5L248 274.3L250 273L252 272.3L254 272.3L255.5 273L256.6 274L257.6 275.5L258.3 277.5L258.9 282.5L258.2 288.5L256.3 294.5L253.5 299.7L251.7 302L250 303.7L248.5 304.7L246.5 305.6Z"/>
<path fill="#64a9d3" d="M284 286.1L282 286.3L280.5 285.8L279 284.5L277.8 282.5L276.8 279.5L276.5 276.5L276.4 273L276.8 269.5L277.7 265.5L278.8 262L280.2 259L282 255.9L284 253.5L286 251.8L288 250.9L290 250.7L291.5 251.2L293 252.5L294 254.1L294.8 256L295.3 258.5L295.6 261.5L295.2 267.5L293.3 274.5L290.7 280L287.5 284L286 285.2L284 286.1ZM247 304.5L245 304.8L243.5 304.5L242 303.3L240.8 301.5L240.2 299.5L239.7 296.5L239.8 293.5L240.3 290L241.2 286.5L242.3 283.5L243.8 280.5L245.8 277.5L247.5 275.7L249.5 274.2L251.5 273.3L253.5 273.2L255 273.8L256 274.7L257 276.2L257.7 278L258.3 282.5L257.7 288L256.1 293.5L253.5 298.6L250.5 302.3L248.5 303.8L247 304.5Z"/>
<path fill="#5da4d0" d="M284 285.1L282 285.1L280.5 284.5L279.1 283L278.1 281L277.4 278.5L277 275.5L277.1 272L277.6 268.5L278.4 265L279.7 261.5L281.1 258.5L282.8 256L284.5 254L286.5 252.5L288.5 251.8L290 251.9L291.5 252.5L292.5 253.5L293.5 255L294.4 257.5L295 262.5L294.4 268.5L292.7 274.5L290.3 279.5L288.5 281.9L287 283.4L285.5 284.5L284 285.1ZM247.5 303.5L245.5 304L244 303.7L242.5 302.7L241.4 301L240.7 299L240.2 296L240.3 293L240.7 290L241.6 286.5L242.8 283.5L244.4 280.5L246 278.2L248 276.1L250 274.7L252 274.1L253.5 274.2L254.5 274.6L255.6 275.5L256.5 276.8L257.2 278.5L257.8 283L257.3 288L255.8 293L253.3 298L250.5 301.5L247.5 303.5Z"/>
<path fill="#559fce" d="M284 284.1L282.5 284.1L280.9 283.5L279.5 282.1L278.5 280.1L277.8 277.5L277.6 275L277.6 272L278.1 268.5L279.8 262.5L281.2 259.5L282.8 257L284.5 255L286 253.8L288 252.9L289.5 252.9L291 253.4L292 254.3L293 255.8L293.8 258L294.4 263L293.9 268.5L292.4 274L290 278.8L287 282.4L285.5 283.5L284 284.1ZM246.5 303.1L245 303.1L243.5 302.5L242.5 301.5L241.4 299.5L240.8 297L240.7 294.5L241.4 289L243.3 283.5L244.6 281L246.4 278.5L248 276.8L249.5 275.7L251.5 274.9L253 274.9L254.5 275.5L255.5 276.5L256.9 279.5L257.3 284L256.6 289L255 294L252.5 298.4L249.5 301.6L248 302.6L246.5 303.1Z"/>
<path fill="#4e9acb" d="M284 283.1L282.5 283.1L281 282.4L280 281.4L279 279.5L278.4 277L278.1 274.5L278.6 268.5L280.4 262.5L283 257.7L284.5 256L286.5 254.4L288 253.9L289.5 253.9L290.9 254.5L291.9 255.5L293.3 258.5L293.9 263L293.4 268.5L291.8 274L289.5 278.5L287 281.5L285.5 282.6L284 283.1ZM247.5 302.1L246 302.4L244.5 302.1L243 301L242.1 299.5L241.4 297.5L241.1 295L241.7 289.5L242.5 286.5L243.7 283.5L246.5 279.1L248 277.5L250 276.1L251.5 275.6L253 275.7L254 276.1L255 277L255.9 278.5L256.5 280L256.9 284L256.3 288.5L254.9 293L252.9 297L250.5 300L249 301.3L247.5 302.1Z"/>
<path fill="#4795c8" d="M284.5 282.1L283 282.2L281.5 281.7L280.5 280.7L279.5 279L278.9 277L278.6 274.5L279 269L280.5 263.5L283 258.7L284.5 256.8L286 255.6L287.5 254.9L289 254.8L290 255L291.3 256L292 257L292.8 259L293.4 263L293 268L291.7 273L289.6 277.5L287 280.6L284.5 282.1ZM247 301.6L245.5 301.7L244 301L243 300L242.2 298.5L241.6 294.5L242.1 289.5L243.9 284L246.5 279.7L248 278.1L249.5 277L251 276.4L252.5 276.3L253.5 276.7L254.6 277.5L255.5 278.9L256 280.3L256.4 284L255.9 288.5L254.5 293L252.4 297L250 299.9L248.5 301L247 301.6Z"/>
<path fill="#4090c5" d="M285 281.1L283.5 281.4L282.5 281.2L281.4 280.5L280.3 279L279.5 277L279.2 275L279.3 269.5L280.8 264L283.1 259.5L284.5 257.7L286 256.4L287.5 255.8L289 255.7L290 256.1L291 256.9L292.3 259.5L292.9 263L292.7 267.5L291.6 272L289.9 276L287.5 279.3L285 281.1ZM246.5 301L245 300.8L244 300.2L243.1 299L242.4 297.5L242 293.5L242.7 288.5L244.5 283.6L247 279.8L248.5 278.4L250 277.4L251.5 277L252.5 277.1L253.5 277.5L254.5 278.4L255.7 281L256 285L255.3 289.5L253.7 294L251.5 297.6L249 300L246.5 301Z"/>
<path fill="#3a8ac2" d="M285.5 280L284 280.5L283 280.4L282 279.9L280.8 278.5L279.7 275L279.7 270L280.9 265L283 260.5L285.5 257.6L287 256.8L288.5 256.5L289.5 256.8L290.5 257.5L291.7 259.5L292.4 263L292.3 267L291.4 271L289.9 275L287.9 278L285.5 280ZM247.5 300.2L246 300.3L245 300.1L244 299.3L243.2 298L242.5 296L242.3 294L242.8 289.5L244.4 284.5L247 280.4L248.5 279L250 278L251.5 277.6L252.5 277.7L253.5 278.2L254.2 279L255.3 281.5L255.7 285L255.2 288.5L254 292.5L252.2 296L250 298.6L247.5 300.2Z"/>
<path fill="#3484bf" d="M284.5 279.6L283.5 279.6L282.2 279L281.3 278L280.6 276.5L280 273L280.4 268.5L281.7 264L283.6 260.5L286 258.1L287.5 257.4L288.5 257.4L289.5 257.8L290.3 258.5L291.6 261L292 264.5L291.6 268.5L290.5 272.5L288.7 276L286.5 278.6L284.5 279.6ZM247.5 299.6L246 299.7L245 299.3L243.5 297.5L242.7 294L243.1 289.5L244.6 285L247 281L249.5 278.9L251 278.3L252 278.3L253 278.7L253.9 279.5L254.9 281.5L255.3 284.5L254.9 288.5L253.6 292.5L252 295.6L250 298L247.5 299.6Z"/>
<path fill="#2e7ebc" d="M285 278.6L284 278.7L283 278.5L282 277.7L281.3 276.5L280.5 273L280.7 269L282 264.5L284 260.9L285.2 259.5L286.5 258.6L287.5 258.3L288.5 258.3L290 259.3L291.1 261.5L291.5 264.5L291.3 268L290.4 271.5L288.8 275L287 277.3L285 278.6ZM247 299.1L246 299L245 298.6L244.1 297.5L243.5 296.2L243.1 292.5L243.7 288.5L245.2 284.5L247.5 281.1L250 279.2L252 279L253.6 280L254.7 282.5L254.9 286L254.3 289.5L253 293L251.3 296L249 298.3L247 299.1Z"/>
<path fill="#2878b9" d="M285.5 277.5L284.5 277.8L283.5 277.7L282 276.4L281.1 273.5L281.1 269.5L282.1 265.5L283.8 262L286 259.7L287 259.3L288 259.2L289.5 259.9L290.5 261.6L291 264.5L290.9 267.5L290.2 270.5L289 273.6L287.5 275.9L285.5 277.5ZM248 298.2L247 298.5L246 298.4L245 297.8L244.1 296.5L243.5 293.5L243.7 290L244.9 286L246.8 282.5L249 280.3L250.5 279.6L251.5 279.5L253 280.2L254.1 282L254.5 284.5L254.3 288L253.3 291.5L251.9 294.5L250 296.9L248 298.2Z"/>
<path fill="#2272b6" d="M285.5 276.7L284.5 276.9L283.5 276.7L282.3 275.5L281.5 272.6L281.7 269L282.6 265.5L284.1 262.5L286 260.6L287 260.1L288 260.1L289.4 261L290.1 262.5L290.5 265L290.3 268L289.6 271L288.5 273.5L287 275.6L285.5 276.7ZM248 297.7L247 297.9L246 297.7L245.1 297L244.5 296.1L243.8 293L244.1 289.5L245.2 286L247 282.9L248.2 281.5L249.5 280.6L251.5 280.2L253 281.1L253.9 283L254.2 285.5L253.9 288.5L253 291.5L251.5 294.4L250 296.3L248 297.7Z"/>
<path fill="#1d6cb1" d="M286 275.5L284.5 276L283.5 275.6L283 275.1L282.1 273L282 270L282.7 266.5L284 263.7L285.5 261.9L286.5 261.2L287.5 261L288.5 261.4L289.5 262.7L289.9 264.5L290 267L289.5 269.7L288.5 272.4L287.5 274L286 275.5ZM248 297.1L247 297.2L246 297L244.8 295.5L244.2 293L244.5 289.5L245.6 286L247.5 282.8L249.5 281.2L250.5 280.8L251.5 280.8L253 282L253.6 283.5L253.8 286L253.5 288.5L252.6 291.5L251.3 294L249.5 296.2L248 297.1Z"/>
<path fill="#1966ad" d="M286 274.6L284.5 274.9L283.3 274L282.6 272L282.6 269.5L283.3 266.5L284.5 264L286 262.4L287.5 262.1L288.5 262.7L289 263.5L289.4 265.5L289.4 267.5L289 269.6L288.1 272L287 273.6L286 274.6ZM247.5 296.6L246 296.2L244.9 294.5L244.5 292L245 288.5L246.2 285.5L248 282.9L250 281.5L251.5 281.5L252.6 282.5L253.3 284.5L253.4 287L253 289.5L252 292.1L250.5 294.5L249 296L247.5 296.6Z"/>
<path fill="#1461a8" d="M285.5 273.7L284.5 273.7L283.5 272.5L283.2 271L283.3 269L283.7 267L284.7 265L286 263.5L287 263.2L288 263.7L288.5 264.5L288.8 266L288.7 268L288.3 270L287.5 271.7L286.5 273.1L285.5 273.7ZM248.5 295.7L247 295.9L246.2 295.5L245.5 294.6L245 292.5L245.2 289.5L246 286.7L247.5 284.1L249.5 282.3L251 282.1L252 282.6L252.8 284L253.1 286L252.8 288.5L252.1 291L251.1 293L250 294.5L248.5 295.7Z"/>
<path fill="#105ba4" d="M286 272.2L285 272.4L284.5 272L284 270.9L284 269L285 265.9L286 264.8L287 264.6L287.5 265L288 266L288 268L287.3 270.5L286 272.2ZM248.5 295L247 295.2L246 294.4L245.4 292.5L245.5 289.5L246.5 286.5L248 284.2L249.5 283L251 282.8L252 283.6L252.5 284.9L252.7 286.5L252.5 288.5L251.9 290.5L251 292.5L250 293.8L248.5 295Z"/>
<path fill="#0b559f" d="M286 270.1L285.4 270L285.2 268.5L285.5 267.5L286 266.9L286.5 266.8L286.9 267.5L286.8 268.5L286.5 269.5L286 270.1ZM248 294.5L247 294.4L246 293L245.8 291L246 289L246.9 286.5L248 284.9L249.5 283.6L250.5 283.5L251.4 284L252 285L252.2 287L252 289L250.5 292.5L249.1 294L248 294.5Z"/>
<path fill="#084f9a" d="M248.5 293.6L247.5 293.7L246.5 292.6L246.2 291L246.5 289L247 287.3L248.1 285.5L249.5 284.4L250.5 284.3L251.3 285L251.7 286L251.5 289L250.3 292L248.5 293.6Z"/>
<path fill="#084991" d="M249 292.5L248 292.8L247.4 292.5L246.9 291.5L246.9 289.5L248 286.5L249 285.5L250 285.2L250.5 285.4L251 286L251.1 288.5L250.5 290.6L249 292.5Z"/>
<path fill="#084388" d="M248.5 291.7L248 291.6L247.6 291L247.6 289L248.5 287L249.5 286.3L250 286.4L250.5 287.5L250.4 289L249.5 291L248.5 291.7Z"/>
<path fill="#9ECAE1" d="M247.5 314.5a2 2 0 1 0 4 0a2 2 0 1 0-4 0M255.2 306.3a2 2 0 1 0 4 0a2 2 0 1 0-4 0M231.7 306.3a2 2 0 1 0 4 0a2 2 0 1 0-4 0M298.5 279.9a2 2 0 1 0 4 0a2 2 0 1 0-4 0M290.2 292.8a2 2 0 1 0 4 0a2 2 0 1 0-4 0M260.0 298.5a2 2 0 1 0 4 0a2 2 0 1 0-4 0M269.3 295.2a2 2 0 1 0 4 0a2 2 0 1 0-4 0M268.1 261.4a2 2 0 1 0 4 0a2 2 0 1 0-4 0M236.4 274.5a2 2 0 1 0 4 0a2 2 0 1 0-4 0M255.5 307.6a2 2 0 1 0 4 0a2 2 0 1 0-4 0M269.7 257.8a2 2 0 1 0 4 0a2 2 0 1 0-4 0M267.1 272.7a2 2 0 1 0 4 0a2 2 0 1 0-4 0M300.3 269.4a2 2 0 1 0 4 0a2 2 0 1 0-4 0M263.4 274.9a2 2 0 1 0 4 0a2 2 0 1 0-4 0M269.1 292.0a2 2 0 1 0 4 0a2 2 0 1 0-4 0M292.9 236.5a2 2 0 1 0 4 0a2 2 0 1 0-4 0M298.9 244.9a2 2 0 1 0 4 0a2 2 0 1 0-4 0M281.3 301.1a2 2 0 1 0 4 0a2 2 0 1 0-4 0M277.1 302.1a2 2 0 1 0 4 0a2 2 0 1 0-4 0M279.0 241.9a2 2 0 1 0 4 0a2 2 0 1 0-4 0M241.9 267.3a2 2 0 1 0 4 0a2 2 0 1 0-4 0M283.5 305.0a2 2 0 1 0 4 0a2 2 0 1 0-4 0M297.9 242.8a2 2 0 1 0 4 0a2 2 0 1 0-4 0M281.0 299.3a2 2 0 1 0 4 0a2 2 0 1 0-4 0M296.6 283.2a2 2 0 1 0 4 0a2 2 0 1 0-4 0M263.0 266.1a2 2 0 1 0 4 0a2 2 0 1 0-4 0M257.8 303.8a2 2 0 1 0 4 0a2 2 0 1 0-4 0M268.9 294.6a2 2 0 1 0 4 0a2 2 0 1 0-4 0M260.5 265.2a2 2 0 1 0 4 0a2 2 0 1 0-4 0M239.1 273.1a2 2 0 1 0 4 0a2 2 0 1 0-4 0M235.3 280.4a2 2 0 1 0 4 0a2 2 0 1 0-4 0M294.3 236.6a2 2 0 1 0 4 0a2 2 0 1 0-4 0M229.6 313.4a2 2 0 1 0 4 0a2 2 0 1 0-4 0M262.7 292.9a2 2 0 1 0 4 0a2 2 0 1 0-4 0M287.4 234.5a2 2 0 1 0 4 0a2 2 0 1 0-4 0M275.3 242.1a2 2 0 1 0 4 0a2 2 0 1 0-4 0M242.1 267.5a2 2 0 1 0 4 0a2 2 0 1 0-4 0M252.1 310.1a2 2 0 1 0 4 0a2 2 0 1 0-4 0M302.1 252.6a2 2 0 1 0 4 0a2 2 0 1 0-4 0M293.3 288.2a2 2 0 1 0 4 0a2 2 0 1 0-4 0M230.5 312.6a2 2 0 1 0 4 0a2 2 0 1 0-4 0M290.5 236.2a2 2 0 1 0 4 0a2 2 0 1 0-4 0M230.2 288.5a2 2 0 1 0 4 0a2 2 0 1 0-4 0M298.2 242.8a2 2 0 1 0 4 0a2 2 0 1 0-4 0M258.9 298.9a2 2 0 1 0 4 0a2 2 0 1 0-4 0M289.3 237.0a2 2 0 1 0 4 0a2 2 0 1 0-4 0M298.6 277.3a2 2 0 1 0 4 0a2 2 0 1 0-4 0M302.6 267.5a2 2 0 1 0 4 0a2 2 0 1 0-4 0M299.9 281.9a2 2 0 1 0 4 0a2 2 0 1 0-4 0M263.1 283.0a2 2 0 1 0 4 0a2 2 0 1 0-4 0M295.9 285.4a2 2 0 1 0 4 0a2 2 0 1 0-4 0M263.5 271.2a2 2 0 1 0 4 0a2 2 0 1 0-4 0M284.7 301.0a2 2 0 1 0 4 0a2 2 0 1 0-4 0M263.0 273.7a2 2 0 1 0 4 0a2 2 0 1 0-4 0M299.4 235.9a2 2 0 1 0 4 0a2 2 0 1 0-4 0M288.2 295.8a2 2 0 1 0 4 0a2 2 0 1 0-4 0M257.8 299.5a2 2 0 1 0 4 0a2 2 0 1 0-4 0M256.2 303.2a2 2 0 1 0 4 0a2 2 0 1 0-4 0M269.7 295.1a2 2 0 1 0 4 0a2 2 0 1 0-4 0M267.3 291.6a2 2 0 1 0 4 0a2 2 0 1 0-4 0M256.6 301.9a2 2 0 1 0 4 0a2 2 0 1 0-4 0M230.1 290.9a2 2 0 1 0 4 0a2 2 0 1 0-4 0M301.5 259.2a2 2 0 1 0 4 0a2 2 0 1 0-4 0M260.9 292.5a2 2 0 1 0 4 0a2 2 0 1 0-4 0M267.4 260.9a2 2 0 1 0 4 0a2 2 0 1 0-4 0M251.3 262.0a2 2 0 1 0 4 0a2 2 0 1 0-4 0M250.4 312.5a2 2 0 1 0 4 0a2 2 0 1 0-4 0M243.8 264.7a2 2 0 1 0 4 0a2 2 0 1 0-4 0M273.5 303.3a2 2 0 1 0 4 0a2 2 0 1 0-4 0M272.2 305.1a2 2 0 1 0 4 0a2 2 0 1 0-4 0M241.2 320.8a2 2 0 1 0 4 0a2 2 0 1 0-4 0M229.2 295.3a2 2 0 1 0 4 0a2 2 0 1 0-4 0M262.7 275.9a2 2 0 1 0 4 0a2 2 0 1 0-4 0M285.8 235.1a2 2 0 1 0 4 0a2 2 0 1 0-4 0M267.3 267.0a2 2 0 1 0 4 0a2 2 0 1 0-4 0M235.6 318.5a2 2 0 1 0 4 0a2 2 0 1 0-4 0M253.3 258.7a2 2 0 1 0 4 0a2 2 0 1 0-4 0M295.4 234.7a2 2 0 1 0 4 0a2 2 0 1 0-4 0M269.1 292.5a2 2 0 1 0 4 0a2 2 0 1 0-4 0M247.7 316.3a2 2 0 1 0 4 0a2 2 0 1 0-4 0M272.7 299.7a2 2 0 1 0 4 0a2 2 0 1 0-4 0M269.9 255.0a2 2 0 1 0 4 0a2 2 0 1 0-4 0M270.1 294.6a2 2 0 1 0 4 0a2 2 0 1 0-4 0M228.6 296.4a2 2 0 1 0 4 0a2 2 0 1 0-4 0M229.8 297.3a2 2 0 1 0 4 0a2 2 0 1 0-4 0M232.0 287.1a2 2 0 1 0 4 0a2 2 0 1 0-4 0M300.1 271.0a2 2 0 1 0 4 0a2 2 0 1 0-4 0M284.5 301.9a2 2 0 1 0 4 0a2 2 0 1 0-4 0M271.7 251.3a2 2 0 1 0 4 0a2 2 0 1 0-4 0M234.2 278.6a2 2 0 1 0 4 0a2 2 0 1 0-4 0M250.2 260.5a2 2 0 1 0 4 0a2 2 0 1 0-4 0M243.0 317.9a2 2 0 1 0 4 0a2 2 0 1 0-4 0M302.4 247.1a2 2 0 1 0 4 0a2 2 0 1 0-4 0M235.2 279.3a2 2 0 1 0 4 0a2 2 0 1 0-4 0M257.6 302.1a2 2 0 1 0 4 0a2 2 0 1 0-4 0M234.3 315.8a2 2 0 1 0 4 0a2 2 0 1 0-4 0M271.7 299.8a2 2 0 1 0 4 0a2 2 0 1 0-4 0M264.9 278.8a2 2 0 1 0 4 0a2 2 0 1 0-4 0M231.6 310.1a2 2 0 1 0 4 0a2 2 0 1 0-4 0M294.0 286.1a2 2 0 1 0 4 0a2 2 0 1 0-4 0M257.6 263.2a2 2 0 1 0 4 0a2 2 0 1 0-4 0M265.1 283.4a2 2 0 1 0 4 0a2 2 0 1 0-4 0M258.7 299.1a2 2 0 1 0 4 0a2 2 0 1 0-4 0M269.9 296.1a2 2 0 1 0 4 0a2 2 0 1 0-4 0M300.2 271.6a2 2 0 1 0 4 0a2 2 0 1 0-4 0M273.4 247.1a2 2 0 1 0 4 0a2 2 0 1 0-4 0M262.8 275.3a2 2 0 1 0 4 0a2 2 0 1 0-4 0M243.2 320.9a2 2 0 1 0 4 0a2 2 0 1 0-4 0M266.8 280.3a2 2 0 1 0 4 0a2 2 0 1 0-4 0M256.8 302.4a2 2 0 1 0 4 0a2 2 0 1 0-4 0M237.0 315.7a2 2 0 1 0 4 0a2 2 0 1 0-4 0M266.1 278.5a2 2 0 1 0 4 0a2 2 0 1 0-4 0M267.0 278.6a2 2 0 1 0 4 0a2 2 0 1 0-4 0M236.1 275.3a2 2 0 1 0 4 0a2 2 0 1 0-4 0M292.3 292.0a2 2 0 1 0 4 0a2 2 0 1 0-4 0M302.4 256.0a2 2 0 1 0 4 0a2 2 0 1 0-4 0M293.7 288.0a2 2 0 1 0 4 0a2 2 0 1 0-4 0M263.9 287.1a2 2 0 1 0 4 0a2 2 0 1 0-4 0M268.7 295.1a2 2 0 1 0 4 0a2 2 0 1 0-4 0M262.8 286.4a2 2 0 1 0 4 0a2 2 0 1 0-4 0M281.9 302.1a2 2 0 1 0 4 0a2 2 0 1 0-4 0M230.7 287.1a2 2 0 1 0 4 0a2 2 0 1 0-4 0M264.0 272.0a2 2 0 1 0 4 0a2 2 0 1 0-4 0M302.2 261.7a2 2 0 1 0 4 0a2 2 0 1 0-4 0M231.6 312.1a2 2 0 1 0 4 0a2 2 0 1 0-4 0M244.5 316.1a2 2 0 1 0 4 0a2 2 0 1 0-4 0M293.6 287.0a2 2 0 1 0 4 0a2 2 0 1 0-4 0M240.8 268.4a2 2 0 1 0 4 0a2 2 0 1 0-4 0M240.9 265.8a2 2 0 1 0 4 0a2 2 0 1 0-4 0M254.5 305.6a2 2 0 1 0 4 0a2 2 0 1 0-4 0M231.0 293.4a2 2 0 1 0 4 0a2 2 0 1 0-4 0M266.9 272.5a2 2 0 1 0 4 0a2 2 0 1 0-4 0M251.0 313.4a2 2 0 1 0 4 0a2 2 0 1 0-4 0M292.9 234.7a2 2 0 1 0 4 0a2 2 0 1 0-4 0M276.1 247.1a2 2 0 1 0 4 0a2 2 0 1 0-4 0M273.9 251.1a2 2 0 1 0 4 0a2 2 0 1 0-4 0M258.5 304.7a2 2 0 1 0 4 0a2 2 0 1 0-4 0M302.0 259.9a2 2 0 1 0 4 0a2 2 0 1 0-4 0M302.8 252.9a2 2 0 1 0 4 0a2 2 0 1 0-4 0M263.4 271.6a2 2 0 1 0 4 0a2 2 0 1 0-4 0M237.8 319.7a2 2 0 1 0 4 0a2 2 0 1 0-4 0M287.2 297.7a2 2 0 1 0 4 0a2 2 0 1 0-4 0M283.6 298.5a2 2 0 1 0 4 0a2 2 0 1 0-4 0M243.1 267.1a2 2 0 1 0 4 0a2 2 0 1 0-4 0M286.1 236.1a2 2 0 1 0 4 0a2 2 0 1 0-4 0M295.1 238.9a2 2 0 1 0 4 0a2 2 0 1 0-4 0M267.0 293.2a2 2 0 1 0 4 0a2 2 0 1 0-4 0M262.8 291.9a2 2 0 1 0 4 0a2 2 0 1 0-4 0M279.7 307.0a2 2 0 1 0 4 0a2 2 0 1 0-4 0M264.5 275.0a2 2 0 1 0 4 0a2 2 0 1 0-4 0M266.5 284.9a2 2 0 1 0 4 0a2 2 0 1 0-4 0M281.7 299.8a2 2 0 1 0 4 0a2 2 0 1 0-4 0M268.3 258.7a2 2 0 1 0 4 0a2 2 0 1 0-4 0M267.7 289.5a2 2 0 1 0 4 0a2 2 0 1 0-4 0M240.9 316.8a2 2 0 1 0 4 0a2 2 0 1 0-4 0M289.7 235.6a2 2 0 1 0 4 0a2 2 0 1 0-4 0M302.5 256.3a2 2 0 1 0 4 0a2 2 0 1 0-4 0M268.2 289.9a2 2 0 1 0 4 0a2 2 0 1 0-4 0M258.3 300.0a2 2 0 1 0 4 0a2 2 0 1 0-4 0M248.2 263.2a2 2 0 1 0 4 0a2 2 0 1 0-4 0M264.9 264.2a2 2 0 1 0 4 0a2 2 0 1 0-4 0M255.4 258.9a2 2 0 1 0 4 0a2 2 0 1 0-4 0M294.9 289.5a2 2 0 1 0 4 0a2 2 0 1 0-4 0M280.7 306.5a2 2 0 1 0 4 0a2 2 0 1 0-4 0M279.1 301.4a2 2 0 1 0 4 0a2 2 0 1 0-4 0M230.4 293.8a2 2 0 1 0 4 0a2 2 0 1 0-4 0M236.2 277.4a2 2 0 1 0 4 0a2 2 0 1 0-4 0M301.3 240.4a2 2 0 1 0 4 0a2 2 0 1 0-4 0M285.2 297.8a2 2 0 1 0 4 0a2 2 0 1 0-4 0M230.8 298.9a2 2 0 1 0 4 0a2 2 0 1 0-4 0M293.1 289.3a2 2 0 1 0 4 0a2 2 0 1 0-4 0M295.8 237.4a2 2 0 1 0 4 0a2 2 0 1 0-4 0M301.9 258.4a2 2 0 1 0 4 0a2 2 0 1 0-4 0M296.6 281.3a2 2 0 1 0 4 0a2 2 0 1 0-4 0M282.0 300.4a2 2 0 1 0 4 0a2 2 0 1 0-4 0M264.9 276.1a2 2 0 1 0 4 0a2 2 0 1 0-4 0M300.3 245.5a2 2 0 1 0 4 0a2 2 0 1 0-4 0M251.4 261.8a2 2 0 1 0 4 0a2 2 0 1 0-4 0M271.6 300.2a2 2 0 1 0 4 0a2 2 0 1 0-4 0M256.3 262.2a2 2 0 1 0 4 0a2 2 0 1 0-4 0M302.1 249.7a2 2 0 1 0 4 0a2 2 0 1 0-4 0M243.9 316.7a2 2 0 1 0 4 0a2 2 0 1 0-4 0M267.6 293.5a2 2 0 1 0 4 0a2 2 0 1 0-4 0M236.4 273.9a2 2 0 1 0 4 0a2 2 0 1 0-4 0M270.8 298.5a2 2 0 1 0 4 0a2 2 0 1 0-4 0M268.9 263.5a2 2 0 1 0 4 0a2 2 0 1 0-4 0M294.8 238.4a2 2 0 1 0 4 0a2 2 0 1 0-4 0M303.6 249.4a2 2 0 1 0 4 0a2 2 0 1 0-4 0M264.9 269.4a2 2 0 1 0 4 0a2 2 0 1 0-4 0M262.5 291.7a2 2 0 1 0 4 0a2 2 0 1 0-4 0M295.4 236.2a2 2 0 1 0 4 0a2 2 0 1 0-4 0M301.2 250.8a2 2 0 1 0 4 0a2 2 0 1 0-4 0M281.4 241.3a2 2 0 1 0 4 0a2 2 0 1 0-4 0M266.4 281.7a2 2 0 1 0 4 0a2 2 0 1 0-4 0M265.0 271.0a2 2 0 1 0 4 0a2 2 0 1 0-4 0M298.7 234.1a2 2 0 1 0 4 0a2 2 0 1 0-4 0M286.8 295.5a2 2 0 1 0 4 0a2 2 0 1 0-4 0M230.4 303.8a2 2 0 1 0 4 0a2 2 0 1 0-4 0M253.0 308.3a2 2 0 1 0 4 0a2 2 0 1 0-4 0M264.9 268.4a2 2 0 1 0 4 0a2 2 0 1 0-4 0M234.3 334.0a2 2 0 1 0 4 0a2 2 0 1 0-4 0M281.0 232.0a2 2 0 1 0 4 0a2 2 0 1 0-4 0M288.0 232.0a2 2 0 1 0 4 0a2 2 0 1 0-4 0M294.0 232.0a2 2 0 1 0 4 0a2 2 0 1 0-4 0M276.0 240.0a2 2 0 1 0 4 0a2 2 0 1 0-4 0M304.0 250.0a2 2 0 1 0 4 0a2 2 0 1 0-4 0M278.0 306.0a2 2 0 1 0 4 0a2 2 0 1 0-4 0M277.0 310.0a2 2 0 1 0 4 0a2 2 0 1 0-4 0M288.0 305.0a2 2 0 1 0 4 0a2 2 0 1 0-4 0M231.0 265.0a2 2 0 1 0 4 0a2 2 0 1 0-4 0M254.0 257.0a2 2 0 1 0 4 0a2 2 0 1 0-4 0M260.0 256.0a2 2 0 1 0 4 0a2 2 0 1 0-4 0M254.0 319.0a2 2 0 1 0 4 0a2 2 0 1 0-4 0M256.0 315.0a2 2 0 1 0 4 0a2 2 0 1 0-4 0M228.0 309.0a2 2 0 1 0 4 0a2 2 0 1 0-4 0"/>
<line x1="204.5" y1="312.9" x2="335.5" y2="243.4" stroke="#bcbcbc" stroke-width="0.7"/>
</g>
<rect x="204.5" y="228.5" width="131.0" height="110.0" fill="none" stroke="#999" stroke-width="1"/>
<line x1="222.5" y1="338.5" x2="222.5" y2="342.0" stroke="#aaa" stroke-width="1"/>
<text x="222.5" y="351.8" text-anchor="middle" font-size="8.7">60</text>
<line x1="256.2" y1="338.5" x2="256.2" y2="342.0" stroke="#aaa" stroke-width="1"/>
<text x="256.2" y="351.8" text-anchor="middle" font-size="8.7">65</text>
<line x1="289.8" y1="338.5" x2="289.8" y2="342.0" stroke="#aaa" stroke-width="1"/>
<text x="289.8" y="351.8" text-anchor="middle" font-size="8.7">70</text>
<line x1="323.5" y1="338.5" x2="323.5" y2="342.0" stroke="#aaa" stroke-width="1"/>
<text x="323.5" y="351.8" text-anchor="middle" font-size="8.7">75</text>
<line x1="201.0" y1="320.3" x2="204.5" y2="320.3" stroke="#aaa" stroke-width="1"/>
<text x="198.0" y="323.5" text-anchor="end" font-size="8.7">55</text>
<line x1="201.0" y1="302.7" x2="204.5" y2="302.7" stroke="#aaa" stroke-width="1"/>
<text x="198.0" y="305.9" text-anchor="end" font-size="8.7">60</text>
<line x1="201.0" y1="285.1" x2="204.5" y2="285.1" stroke="#aaa" stroke-width="1"/>
<text x="198.0" y="288.3" text-anchor="end" font-size="8.7">65</text>
<line x1="201.0" y1="267.5" x2="204.5" y2="267.5" stroke="#aaa" stroke-width="1"/>
<text x="198.0" y="270.7" text-anchor="end" font-size="8.7">70</text>
<line x1="201.0" y1="249.9" x2="204.5" y2="249.9" stroke="#aaa" stroke-width="1"/>
<text x="198.0" y="253.1" text-anchor="end" font-size="8.7">75</text>
<line x1="201.0" y1="232.3" x2="204.5" y2="232.3" stroke="#aaa" stroke-width="1"/>
<text x="198.0" y="235.5" text-anchor="end" font-size="8.7">80</text>
<text transform="translate(180.1,284.3) rotate(-90)" text-anchor="middle" font-size="8.8">Actual HGT</text>
<text x="272.0" y="218.3" text-anchor="middle" font-size="8.66">UK Biobank (<tspan font-style="italic">N</tspan> = 30 K)</text>
<text x="172.4" y="217.0" font-weight="bold" font-size="15.3" fill="#000">f</text>
<text x="272.0" y="365.5" text-anchor="middle" font-size="8.68">Predicted HGT using Lasso+CTPR</text>
<text x="272.0" y="384.0" text-anchor="middle"><tspan font-style="italic">R</tspan><tspan font-size="6.3" dy="-1.9" dx="0.5">2</tspan><tspan dy="1.9"> = 14.6%</tspan></text>
<text x="272.0" y="393.8" text-anchor="middle">(<tspan font-style="italic" dx="0.8">R</tspan><tspan font-size="6.3" dy="-2.4" dx="0.5">2</tspan><tspan font-size="6.3" font-style="italic" dy="5.4" dx="0.5">m</tspan><tspan dy="-3.0" dx="0.8">= 13.9%, </tspan><tspan font-style="italic">R</tspan><tspan font-size="6.3" dy="-2.4" dx="0.5">2</tspan><tspan font-size="6.3" font-style="italic" dy="5.4" dx="0.5">w</tspan><tspan dy="-3.0" dx="0.8">= 15.5%)</tspan></text>
<clipPath id="c6"><rect x="376.5" y="228.5" width="131.0" height="110.0"/></clipPath>
<g clip-path="url(#c6)">
<path fill="#9cc9e1" d="M410.5 311.5L404.4 311.5L404.4 309L396 308.5L396 306L393.4 305.5L393.4 303L392.3 302.5L392.2 297L392.8 296.5L392.8 294L393.9 293.5L393.9 291L395.5 290.5L395.5 288L397.6 287.5L397.6 285L400.1 284.5L400.1 282L403.2 281.5L403.2 279L406.7 278.5L406.7 276L410.9 275.5L410.9 273L415.9 272.5L415.9 270.5L422.3 270L422.3 267.5L431.6 267L431.6 264.5L444 264L444 261.5L448.2 261L448.2 258.5L452.1 258L452.1 255.5L456.5 255L456.5 252.5L462.2 252L462.2 249.5L471.4 249L471.4 246.5L482.7 246.5L482.7 249L488.8 249.5L488.8 252L491.3 252.5L491.3 255L492.4 255.5L492.4 258L492.8 258.5L492.8 261L492.6 264L491.9 264.5L491.9 267L490.8 267.5L490.8 270L489.3 270.5L489.3 272.5L487.3 273L487.3 275.5L485 276L485 278.5L482.1 279L482.1 281.5L478.8 282L478.8 284.5L474.7 285L474.7 287.5L469.5 288L469.5 290.5L462.1 291L462.1 293.5L445.6 294L445.6 296.5L440.4 297L440.4 299.5L435.7 300L435.7 302.5L430.3 303L430.3 305.5L423.4 306L423.4 308.5L410.7 309L410.7 311.5L410.5 311.5Z"/>
<path fill="#90c2de" d="M421.5 305.5L410.5 305.9L402.1 305.5L402.1 303L399 302.5L399 300L398.1 299.5L398.2 294L399 293.5L399 291L400.5 290.5L400.5 288L402.6 287.5L402.6 285L405.2 284.5L405.2 282L408.4 281.5L408.4 279L412.4 278.5L412.4 276L417.3 275.5L417.3 273L423.8 272.5L423.8 270.5L437.8 270L437.8 267.5L447.3 267L447.3 264.5L450.7 264L450.7 261.5L454.3 261L454.3 258.5L458.8 258L458.8 255.5L465.1 255L465.1 252.5L474.5 252.1L482.6 252.5L482.6 255L485.7 255.5L485.7 258L487 258.5L487 261L487.2 261.5L487.2 264L486.8 264.5L486.8 267L485.8 267.5L485.8 270L484.3 270.5L484.3 272.5L482.3 273L482.3 275.5L479.7 276L479.7 278.5L476.5 279L476.5 281.5L472.4 282L472.4 284.5L466.9 285L466.9 287.5L454.5 288L454.5 290.5L448 290.6L442.5 291L442.5 293.5L438.6 294L438.6 296.5L434.3 297L434.3 299.5L429 300L429 302.5L421.6 303L421.5 305.5Z"/>
<path fill="#87bddc" d="M424.5 302.5L413 303L404 302.6L403.1 302.5L403.1 300L401.3 299.5L401 294L401.6 293.5L401.6 291L403.1 290.5L403.1 288L405.1 287.5L405.1 285L407.8 284.5L407.8 282L411.2 281.5L411.2 279L415.5 278.5L415.5 276L421 275.5L421 273L430 272.5L430 270.5L443.5 270.3L447.4 270L447.4 267.5L450.5 267L450.5 264.5L453.7 264L453.7 261.5L457.7 261L457.7 258.5L463.1 258L463.1 255.5L473.5 255.1L481.5 255.5L481.5 258L483.7 258.5L483.7 261L484.3 261.5L484.1 267L483.2 267.5L483.2 270L481.7 270.5L481.7 272.5L479.6 273L479.6 275.5L476.9 276L476.9 278.5L473.3 279L473.3 281.5L468.6 282L468.6 284.5L460.4 285L460.4 287.5L448 287.6L442.9 288L442.9 290.5L439.5 291L439.5 293.5L435.7 294L435.7 296.5L431 297L431 299.5L424.9 300L424.9 302.5L424.5 302.5Z"/>
<path fill="#7eb8da" d="M421 302.5L413 302.8L406.5 302.5L406.5 300L403.5 299.5L403.5 297L402.9 296.5L402.9 294L403.4 293.5L403.4 291L404.7 290.5L404.7 288L406.7 287.5L406.7 285L409.5 284.5L409.5 282L413 281.5L413 279L417.6 278.5L417.6 276L423.9 275.5L423.9 273L431 272.6L446.7 272.5L446.7 270.5L449.7 270L449.7 267.5L452.5 267L452.5 264.5L455.8 264L455.8 261.5L460.1 261L460.1 258.5L467 258L467 255.5L477.5 255.5L477.5 258L481.3 258.5L481.3 261L482.3 261.5L482.3 267L481.5 267.5L481.5 270L480 270.5L480 272.5L477.8 273L477.8 275.5L474.9 276L474.9 278.5L471.1 279L471.1 281.5L465.5 282L465.5 284.5L458 284.8L447.5 284.7L444 285L444 287.5L440.9 288L440.9 290.5L437.6 291L437.6 293.5L433.8 294L433.8 296.5L428.8 297L428.8 299.5L421.5 300L421.5 302.5L421 302.5Z"/>
<path fill="#75b3d8" d="M417 302.5L410.5 302.5L410.5 300L405.4 299.5L405.4 297L404.4 296.5L404.7 291L406 290.5L406 288L408 287.5L408 285L410.8 284.5L410.8 282L414.5 281.5L414.5 279L419.3 278.5L419.3 276L426.6 275.5L426.6 273L434.5 272.8L442.3 273L442.3 275.5L445.8 275.5L445.8 273L448.9 272.5L448.9 270.5L451.3 270L451.3 267.5L454 267L454 264.5L457.4 264L457.4 261.5L462.2 261L462.2 258.5L472 258.1L479.2 258.5L479.2 261L480.7 261.5L480.9 267L480.1 267.5L480.1 270L478.6 270.5L478.6 272.5L476.4 273L476.4 275.5L473.4 276L473.4 278.5L469.2 279L469.2 281.5L462.1 282L462.1 284.5L459 284.6L452.5 284.5L452.5 282L447.5 281.8L444.9 282L444.9 284.5L442.1 285L442.1 287.5L439.4 288L439.4 290.5L436.3 291L436.3 293.5L432.3 294L432.3 296.5L426.9 297L426.9 299.5L417.5 300L417.5 302.5L417 302.5Z"/>
<path fill="#6caed6" d="M467 281.5L457.5 281.9L449.7 281.5L449.7 279L447.6 278.5L447.6 276L448.7 275.5L448.7 273L450.4 272.5L450.4 270.5L452.5 270L452.5 267.5L455.2 267L455.2 264.5L458.8 264L458.8 261.5L464.3 261L464.3 258.5L471.5 258.2L477 258.5L477 261L479.3 261.5L479.7 267L479 267.5L479 270L477.5 270.5L477.5 272.5L475.3 273L475.3 275.5L472.1 276L472.1 278.5L467.5 279L467.5 281.5L467 281.5ZM425 299.5L414.5 299.9L407.1 299.5L407.1 297L405.7 296.5L405.8 291L407 290.5L407 288L409.1 287.5L409.1 285L411.9 284.5L411.9 282L415.7 281.5L415.7 279L420.8 278.5L420.8 276L429.9 275.5L429.9 273L437.4 273L437.4 275.5L443.8 276L443.8 278.5L444.4 279L444.4 281.5L442.9 282L442.9 284.5L440.9 285L440.9 287.5L438.3 288L438.3 290.5L435.1 291L435.1 293.5L431 294L431 296.5L425.2 297L425.2 299.5L425 299.5Z"/>
<path fill="#64a9d3" d="M465.5 281.5L458.5 281.8L452.4 281.5L452.4 279L450 278.5L450.2 273L451.6 272.5L451.6 270.5L453.6 270L453.6 267.5L456.3 267L456.3 264.5L460.2 264L460.2 261.5L466.8 261L466.8 258.5L474.6 258.5L474.6 261L478 261.5L478 264L478.6 264.5L478.6 267L478 267.5L478 270L476.5 270.5L476.5 272.5L474.2 273L474.2 275.5L470.9 276L470.9 278.5L465.7 279L465.5 281.5ZM423 299.5L415 299.8L408.8 299.5L408.8 297L406.8 296.5L406.8 291L408 290.5L408 288L410 287.5L410 285L412.9 284.5L412.9 282L416.8 281.5L416.8 279L422.3 278.5L422.3 276L433 275.6L441.1 276L441.1 278.5L442.4 279L442.4 281.5L441.6 282L441.6 284.5L439.8 285L439.8 287.5L437.4 288L437.4 290.5L434.1 291L434.1 293.5L429.8 294L429.8 296.5L423.5 297L423.5 299.5L423 299.5Z"/>
<path fill="#5da4d0" d="M463.5 281.5L454.9 281.5L454.9 279L451.7 278.5L451.5 273L452.6 272.5L452.6 270.5L454.6 270L454.6 267.5L457.4 267L457.4 264.5L461.5 264L461.5 261.5L470.5 261L476.7 261.5L476.7 264L477.5 264.5L477.5 267L477.1 267.5L477.1 270L475.6 270.5L475.6 272.5L473.2 273L473.2 275.5L469.7 276L469.7 278.5L463.6 279L463.5 281.5ZM421.5 299.5L410.7 299.5L410.7 297L407.9 296.5L407.7 291L408.8 290.5L408.8 288L410.8 287.5L410.8 285L413.7 284.5L413.7 282L417.8 281.5L417.8 279L423.7 278.5L423.7 276L432.5 275.7L439.3 276L439.3 278.5L441 279L441 281.5L440.5 282L440.5 284.5L438.9 285L438.9 287.5L436.5 288L436.5 290.5L433.2 291L433.2 293.5L428.7 294L428.7 296.5L421.6 297L421.5 299.5Z"/>
<path fill="#559fce" d="M468.5 278.5L459.5 279L453.1 278.5L453.1 276L452.6 275.5L452.6 273L453.5 272.5L453.5 270.5L455.5 270L455.5 267.5L458.3 267L458.3 264.5L462.8 264L462.8 261.5L470 261.2L475.3 261.5L475.3 264L476.6 264.5L476.6 267L476.2 267.5L476.2 270L474.7 270.5L474.7 272.5L472.3 273L472.3 275.5L468.5 276L468.5 278.5ZM419 299.5L413 299.5L413 297L408.9 296.5L408.5 291L409.5 290.5L409.5 288L411.6 287.5L411.6 285L414.5 284.5L414.5 282L418.7 281.5L418.7 279L425.2 278.5L425.2 276L432 275.8L437.5 276L437.5 278.5L439.9 279L439.6 284.5L438.1 285L438.1 287.5L435.7 288L435.7 290.5L432.4 291L432.4 293.5L427.7 294L427.7 296.5L419.3 297L419.3 299.5L419 299.5Z"/>
<path fill="#4e9acb" d="M467 278.5L460 278.9L454.4 278.5L454.4 276L453.6 275.5L453.6 273L454.4 272.5L454.4 270.5L456.3 270L456.3 267.5L459.3 267L459.3 264.5L464.3 264L464.3 261.5L469.5 261.3L473.8 261.5L473.8 264L475.6 264.5L475.4 270L473.9 270.5L473.9 272.5L471.4 273L471.4 275.5L467.3 276L467.3 278.5L467 278.5ZM426.5 296.5L416.5 297L409.9 296.5L409.9 294L409.3 293.5L409.3 291L410.3 290.5L410.3 288L412.3 287.5L412.3 285L415.3 284.5L415.3 282L419.6 281.5L419.6 279L427 278.5L427 276L435.6 276L435.6 278.5L438.8 279L438.8 284.5L437.4 285L437.4 287.5L435 288L435 290.5L431.6 291L431.6 293.5L426.7 294L426.7 296.5L426.5 296.5Z"/>
<path fill="#4795c8" d="M466 278.5L460.5 278.7L455.8 278.5L455.8 276L454.6 275.5L454.6 273L455.2 272.5L455.2 270.5L457.1 270L457.1 267.5L460.3 267L460.3 264.5L466.3 264L466.3 261.5L471.9 261.5L471.9 264L474.7 264.5L474.5 270L473.1 270.5L473.1 272.5L470.5 273L470.5 275.5L466 276L466 278.5ZM425.5 296.5L417 296.9L410.9 296.5L410.9 294L410.1 293.5L410.1 291L410.9 290.5L410.9 288L412.9 287.5L412.9 285L416 284.5L416 282L420.5 281.5L420.5 279L429.9 278.5L429.9 276L432.7 276L432.7 278.5L437.8 279L438 284.5L436.7 285L436.7 287.5L434.3 288L434.3 290.5L430.8 291L430.8 293.5L425.7 294L425.5 296.5Z"/>
<path fill="#4090c5" d="M464 278.5L457.5 278.5L457.5 276L455.5 275.5L455.5 273L456.1 272.5L456.1 270.5L457.9 270L457.9 267.5L461.3 267L461.3 264.5L469 264.1L473.7 264.5L473.7 270L472.3 270.5L472.3 272.5L469.6 273L469.6 275.5L464.4 276L464.4 278.5L464 278.5ZM424.5 296.5L417.5 296.8L412 296.5L412 294L410.8 293.5L410.8 291L411.6 290.5L411.6 288L413.6 287.5L413.6 285L416.7 284.5L416.7 282L421.4 281.5L421.4 279L431 278.6L436.9 279L436.9 281.5L437.3 282L437.3 284.5L436 285L436 287.5L433.7 288L433.7 290.5L430.1 291L430.1 293.5L424.6 294L424.5 296.5Z"/>
<path fill="#3a8ac2" d="M468.5 275.5L461 276L456.5 275.5L456.5 273L456.9 272.5L456.9 270.5L458.8 270L458.8 267.5L462.3 267L462.3 264.5L468.5 264.2L472.6 264.5L472.9 270L471.5 270.5L471.5 272.5L468.7 273L468.5 275.5ZM423 296.5L417.5 296.7L413.2 296.5L413.2 294L411.5 293.5L411.5 291L412.2 290.5L412.2 288L414.2 287.5L414.2 285L417.4 284.5L417.4 282L422.4 281.5L422.4 279L430.5 278.7L435.9 279L435.9 281.5L436.6 282L436.6 284.5L435.4 285L435.4 287.5L433 288L433 290.5L429.4 291L429.4 293.5L423.4 294L423.4 296.5L423 296.5Z"/>
<path fill="#3484bf" d="M467.5 275.5L461.5 275.8L457.5 275.5L457.7 270.5L459.6 270L459.6 267.5L463.6 267L463.6 264.5L468 264.3L471.3 264.5L471.3 267L472.1 267.5L472.1 270L470.7 270.5L470.7 272.5L467.7 273L467.5 275.5ZM422 296.5L414.6 296.5L414.6 294L412.2 293.5L412.2 291L412.8 290.5L412.8 288L414.8 287.5L414.8 285L418 284.5L418 282L423.3 281.5L423.3 279L430 278.7L434.9 279L434.9 281.5L435.9 282L435.9 284.5L434.8 285L434.8 287.5L432.4 288L432.4 290.5L428.7 291L428.7 293.5L422 294L422 296.5Z"/>
<path fill="#2e7ebc" d="M466 275.5L462 275.7L458.7 275.5L458.6 270.5L460.5 270L460.5 267.5L465.3 267L465.3 264.5L469.6 264.5L469.6 267L471.2 267.5L471.2 270L469.9 270.5L469.9 272.5L466.5 273L466.5 275.5L466 275.5ZM419.5 296.5L416.7 296.5L416.7 294L413 293.5L413 291L413.4 290.5L413.4 288L415.3 287.5L415.3 285L418.7 284.5L418.7 282L424.4 281.5L424.4 279L433.7 279L433.7 281.5L435.2 282L435.2 284.5L434.2 285L434.2 287.5L431.8 288L431.8 290.5L428 291L428 293.5L419.9 294L419.9 296.5L419.5 296.5Z"/>
<path fill="#2878b9" d="M464.5 275.5L460.3 275.5L460.3 273L459.5 272.5L459.5 270.5L461.5 270L461.5 267.5L467 267.1L470.2 267.5L470.2 270L468.9 270.5L468.9 272.5L464.9 273L464.9 275.5L464.5 275.5ZM427 293.5L418.5 293.9L413.7 293.5L414 288L415.9 287.5L415.9 285L419.4 284.5L419.4 282L425.8 281.5L425.8 279L432.4 279L432.4 281.5L434.5 282L434.5 284.5L433.6 285L433.6 287.5L431.2 288L431.2 290.5L427.2 291L427.2 293.5L427 293.5Z"/>
<path fill="#2272b6" d="M467.5 272.5L463.5 272.9L461 272.6L460.6 272.5L460.6 270.5L462.8 270L462.8 267.5L466.5 267.3L468.9 267.5L468.9 270L467.8 270.5L467.8 272.5L467.5 272.5ZM426 293.5L419 293.8L414.5 293.5L414.6 288L416.5 287.5L416.5 285L420 284.5L420 282L428.1 281.5L428.1 279L430 279L430 281.5L433.8 282L433.8 284.5L433 285L433 287.5L430.6 288L430.6 290.5L426.4 291L426.4 293.5L426 293.5Z"/>
<path fill="#1d6cb1" d="M466 272.5L462.1 272.5L462.1 270.5L464.9 270L464.9 267.5L466.9 267.5L466.9 270L466.4 270.5L466.4 272.5L466 272.5ZM425.5 293.5L419.5 293.8L415.3 293.5L415.2 288L417.1 287.5L417.1 285L420.8 284.5L420.8 282L428.5 281.6L433.1 282L433.1 284.5L432.5 285L432.5 287.5L430 288L430 290.5L425.6 291L425.5 293.5Z"/>
<path fill="#1966ad" d="M424.5 293.5L416.2 293.5L416.2 291L415.8 290.5L415.8 288L417.7 287.5L417.7 285L421.5 284.5L421.5 282L428 281.7L432.3 282L432.3 284.5L431.9 285L431.9 287.5L429.4 288L429.4 290.5L424.7 291L424.7 293.5L424.5 293.5Z"/>
<path fill="#1461a8" d="M423.5 293.5L417.4 293.5L417.4 291L416.4 290.5L416.4 288L418.3 287.5L418.3 285L422.4 284.5L422.4 282L427.5 281.8L431.5 282L431.2 287.5L428.8 288L428.8 290.5L423.6 291L423.5 293.5Z"/>
<path fill="#105ba4" d="M421.5 293.5L419.1 293.5L419.1 291L417.1 290.5L417.1 288L418.9 287.5L418.9 285L423.3 284.5L423.3 282L430.5 282L430.6 287.5L428.1 288L428.1 290.5L421.8 291L421.8 293.5L421.5 293.5Z"/>
<path fill="#0b559f" d="M427 290.5L421 290.9L418 290.6L417.8 290.5L417.8 288L419.6 287.5L419.6 285L424.6 284.5L424.6 282L429.3 282L429.3 284.5L429.9 285L429.9 287.5L427.4 288L427.4 290.5L427 290.5Z"/>
<path fill="#084f9a" d="M426.5 290.5L421.5 290.8L418.6 290.5L418.6 288L420.3 287.5L420.3 285L426.5 284.5L428 284.6L429.2 285L429.2 287.5L426.6 288L426.5 290.5Z"/>
<path fill="#084991" d="M425.5 290.5L419.6 290.5L419.6 288L421.2 287.5L421.2 285L426 284.7L428.3 285L428.3 287.5L425.6 288L425.5 290.5Z"/>
<path fill="#084388" d="M424 290.5L421 290.5L421 288L422.3 287.5L422.3 285L427.3 285L427.3 287.5L424.2 288L424.2 290.5L424 290.5Z"/>
<path fill="#9ECAE1" d="M468.8 286.4a2 2 0 1 0 4 0a2 2 0 1 0-4 0M481.1 250.6a2 2 0 1 0 4 0a2 2 0 1 0-4 0M414.5 307.4a2 2 0 1 0 4 0a2 2 0 1 0-4 0M413.4 310.4a2 2 0 1 0 4 0a2 2 0 1 0-4 0M394.4 301.4a2 2 0 1 0 4 0a2 2 0 1 0-4 0M459.6 253.6a2 2 0 1 0 4 0a2 2 0 1 0-4 0M459.0 253.6a2 2 0 1 0 4 0a2 2 0 1 0-4 0M428.0 304.4a2 2 0 1 0 4 0a2 2 0 1 0-4 0M399.7 307.4a2 2 0 1 0 4 0a2 2 0 1 0-4 0M416.2 307.4a2 2 0 1 0 4 0a2 2 0 1 0-4 0M444.1 262.5a2 2 0 1 0 4 0a2 2 0 1 0-4 0M408.5 274.5a2 2 0 1 0 4 0a2 2 0 1 0-4 0M458.3 250.6a2 2 0 1 0 4 0a2 2 0 1 0-4 0M450.9 253.6a2 2 0 1 0 4 0a2 2 0 1 0-4 0M478.9 247.6a2 2 0 1 0 4 0a2 2 0 1 0-4 0M408.1 277.5a2 2 0 1 0 4 0a2 2 0 1 0-4 0M443.2 262.5a2 2 0 1 0 4 0a2 2 0 1 0-4 0M486.0 253.6a2 2 0 1 0 4 0a2 2 0 1 0-4 0M489.4 250.6a2 2 0 1 0 4 0a2 2 0 1 0-4 0M427.4 304.4a2 2 0 1 0 4 0a2 2 0 1 0-4 0M396.6 289.4a2 2 0 1 0 4 0a2 2 0 1 0-4 0M390.7 298.4a2 2 0 1 0 4 0a2 2 0 1 0-4 0M392.7 304.4a2 2 0 1 0 4 0a2 2 0 1 0-4 0M455.3 253.6a2 2 0 1 0 4 0a2 2 0 1 0-4 0M396.4 310.4a2 2 0 1 0 4 0a2 2 0 1 0-4 0M468.2 250.6a2 2 0 1 0 4 0a2 2 0 1 0-4 0M481.7 244.6a2 2 0 1 0 4 0a2 2 0 1 0-4 0M481.7 247.6a2 2 0 1 0 4 0a2 2 0 1 0-4 0M452.5 292.4a2 2 0 1 0 4 0a2 2 0 1 0-4 0M412.6 274.5a2 2 0 1 0 4 0a2 2 0 1 0-4 0M485.9 247.6a2 2 0 1 0 4 0a2 2 0 1 0-4 0M400.1 283.5a2 2 0 1 0 4 0a2 2 0 1 0-4 0M391.2 301.4a2 2 0 1 0 4 0a2 2 0 1 0-4 0M394.8 292.4a2 2 0 1 0 4 0a2 2 0 1 0-4 0M492.2 256.6a2 2 0 1 0 4 0a2 2 0 1 0-4 0M440.2 298.4a2 2 0 1 0 4 0a2 2 0 1 0-4 0M473.6 247.6a2 2 0 1 0 4 0a2 2 0 1 0-4 0M415.6 307.4a2 2 0 1 0 4 0a2 2 0 1 0-4 0M478.8 247.6a2 2 0 1 0 4 0a2 2 0 1 0-4 0M398.5 286.4a2 2 0 1 0 4 0a2 2 0 1 0-4 0M395.9 286.4a2 2 0 1 0 4 0a2 2 0 1 0-4 0M471.3 247.6a2 2 0 1 0 4 0a2 2 0 1 0-4 0M449.6 259.5a2 2 0 1 0 4 0a2 2 0 1 0-4 0M390.0 307.4a2 2 0 1 0 4 0a2 2 0 1 0-4 0M457.6 253.6a2 2 0 1 0 4 0a2 2 0 1 0-4 0M454.3 256.6a2 2 0 1 0 4 0a2 2 0 1 0-4 0M484.2 253.6a2 2 0 1 0 4 0a2 2 0 1 0-4 0M465.4 250.6a2 2 0 1 0 4 0a2 2 0 1 0-4 0M481.4 277.5a2 2 0 1 0 4 0a2 2 0 1 0-4 0M470.7 247.6a2 2 0 1 0 4 0a2 2 0 1 0-4 0M443.5 292.4a2 2 0 1 0 4 0a2 2 0 1 0-4 0M429.8 304.4a2 2 0 1 0 4 0a2 2 0 1 0-4 0M387.6 295.4a2 2 0 1 0 4 0a2 2 0 1 0-4 0M490.4 256.6a2 2 0 1 0 4 0a2 2 0 1 0-4 0M423.7 304.4a2 2 0 1 0 4 0a2 2 0 1 0-4 0M445.8 259.5a2 2 0 1 0 4 0a2 2 0 1 0-4 0M422.4 268.5a2 2 0 1 0 4 0a2 2 0 1 0-4 0M486.2 271.5a2 2 0 1 0 4 0a2 2 0 1 0-4 0M386.6 301.4a2 2 0 1 0 4 0a2 2 0 1 0-4 0M484.6 253.6a2 2 0 1 0 4 0a2 2 0 1 0-4 0M398.7 307.4a2 2 0 1 0 4 0a2 2 0 1 0-4 0M480.1 250.6a2 2 0 1 0 4 0a2 2 0 1 0-4 0M438.4 265.5a2 2 0 1 0 4 0a2 2 0 1 0-4 0M397.4 283.5a2 2 0 1 0 4 0a2 2 0 1 0-4 0M429.3 265.5a2 2 0 1 0 4 0a2 2 0 1 0-4 0M430.0 301.4a2 2 0 1 0 4 0a2 2 0 1 0-4 0M407.0 310.4a2 2 0 1 0 4 0a2 2 0 1 0-4 0M437.9 265.5a2 2 0 1 0 4 0a2 2 0 1 0-4 0M489.3 262.5a2 2 0 1 0 4 0a2 2 0 1 0-4 0M413.8 307.4a2 2 0 1 0 4 0a2 2 0 1 0-4 0M483.3 274.5a2 2 0 1 0 4 0a2 2 0 1 0-4 0M407.8 274.5a2 2 0 1 0 4 0a2 2 0 1 0-4 0M451.8 295.4a2 2 0 1 0 4 0a2 2 0 1 0-4 0M489.7 256.6a2 2 0 1 0 4 0a2 2 0 1 0-4 0M444.3 259.5a2 2 0 1 0 4 0a2 2 0 1 0-4 0M482.4 244.6a2 2 0 1 0 4 0a2 2 0 1 0-4 0M439.5 265.5a2 2 0 1 0 4 0a2 2 0 1 0-4 0M466.4 289.4a2 2 0 1 0 4 0a2 2 0 1 0-4 0M483.5 280.5a2 2 0 1 0 4 0a2 2 0 1 0-4 0M397.9 283.5a2 2 0 1 0 4 0a2 2 0 1 0-4 0M451.1 292.4a2 2 0 1 0 4 0a2 2 0 1 0-4 0M445.2 292.4a2 2 0 1 0 4 0a2 2 0 1 0-4 0M446.2 295.4a2 2 0 1 0 4 0a2 2 0 1 0-4 0M401.8 280.5a2 2 0 1 0 4 0a2 2 0 1 0-4 0M401.1 310.4a2 2 0 1 0 4 0a2 2 0 1 0-4 0M483.6 250.6a2 2 0 1 0 4 0a2 2 0 1 0-4 0M469.8 286.4a2 2 0 1 0 4 0a2 2 0 1 0-4 0M473.9 283.5a2 2 0 1 0 4 0a2 2 0 1 0-4 0M418.6 307.4a2 2 0 1 0 4 0a2 2 0 1 0-4 0M434.8 262.5a2 2 0 1 0 4 0a2 2 0 1 0-4 0M473.6 244.6a2 2 0 1 0 4 0a2 2 0 1 0-4 0M457.1 253.6a2 2 0 1 0 4 0a2 2 0 1 0-4 0M417.4 268.5a2 2 0 1 0 4 0a2 2 0 1 0-4 0M433.0 265.5a2 2 0 1 0 4 0a2 2 0 1 0-4 0M420.3 268.5a2 2 0 1 0 4 0a2 2 0 1 0-4 0M419.7 307.4a2 2 0 1 0 4 0a2 2 0 1 0-4 0M485.7 268.5a2 2 0 1 0 4 0a2 2 0 1 0-4 0M449.0 259.5a2 2 0 1 0 4 0a2 2 0 1 0-4 0M390.8 301.4a2 2 0 1 0 4 0a2 2 0 1 0-4 0M392.9 289.4a2 2 0 1 0 4 0a2 2 0 1 0-4 0M480.8 277.5a2 2 0 1 0 4 0a2 2 0 1 0-4 0M450.7 292.4a2 2 0 1 0 4 0a2 2 0 1 0-4 0M458.5 253.6a2 2 0 1 0 4 0a2 2 0 1 0-4 0M482.7 274.5a2 2 0 1 0 4 0a2 2 0 1 0-4 0M411.1 274.5a2 2 0 1 0 4 0a2 2 0 1 0-4 0M392.9 298.4a2 2 0 1 0 4 0a2 2 0 1 0-4 0M473.0 283.5a2 2 0 1 0 4 0a2 2 0 1 0-4 0M404.1 310.4a2 2 0 1 0 4 0a2 2 0 1 0-4 0M438.2 262.5a2 2 0 1 0 4 0a2 2 0 1 0-4 0M395.0 307.4a2 2 0 1 0 4 0a2 2 0 1 0-4 0M471.0 286.4a2 2 0 1 0 4 0a2 2 0 1 0-4 0M468.3 286.4a2 2 0 1 0 4 0a2 2 0 1 0-4 0M476.4 280.5a2 2 0 1 0 4 0a2 2 0 1 0-4 0M413.6 307.4a2 2 0 1 0 4 0a2 2 0 1 0-4 0M435.9 298.4a2 2 0 1 0 4 0a2 2 0 1 0-4 0M394.2 295.4a2 2 0 1 0 4 0a2 2 0 1 0-4 0M455.8 292.4a2 2 0 1 0 4 0a2 2 0 1 0-4 0M436.7 265.5a2 2 0 1 0 4 0a2 2 0 1 0-4 0M480.6 247.6a2 2 0 1 0 4 0a2 2 0 1 0-4 0M434.4 301.4a2 2 0 1 0 4 0a2 2 0 1 0-4 0M389.6 301.4a2 2 0 1 0 4 0a2 2 0 1 0-4 0M398.7 307.4a2 2 0 1 0 4 0a2 2 0 1 0-4 0M424.7 268.5a2 2 0 1 0 4 0a2 2 0 1 0-4 0M438.8 295.4a2 2 0 1 0 4 0a2 2 0 1 0-4 0M487.2 253.6a2 2 0 1 0 4 0a2 2 0 1 0-4 0M418.0 307.4a2 2 0 1 0 4 0a2 2 0 1 0-4 0M487.7 268.5a2 2 0 1 0 4 0a2 2 0 1 0-4 0M426.3 304.4a2 2 0 1 0 4 0a2 2 0 1 0-4 0M454.8 253.6a2 2 0 1 0 4 0a2 2 0 1 0-4 0M426.3 307.4a2 2 0 1 0 4 0a2 2 0 1 0-4 0M435.2 298.4a2 2 0 1 0 4 0a2 2 0 1 0-4 0M481.3 277.5a2 2 0 1 0 4 0a2 2 0 1 0-4 0M484.8 253.6a2 2 0 1 0 4 0a2 2 0 1 0-4 0M459.7 292.4a2 2 0 1 0 4 0a2 2 0 1 0-4 0M389.6 298.4a2 2 0 1 0 4 0a2 2 0 1 0-4 0M415.5 307.4a2 2 0 1 0 4 0a2 2 0 1 0-4 0M480.3 277.5a2 2 0 1 0 4 0a2 2 0 1 0-4 0M466.3 250.6a2 2 0 1 0 4 0a2 2 0 1 0-4 0M402.8 307.4a2 2 0 1 0 4 0a2 2 0 1 0-4 0M484.7 250.6a2 2 0 1 0 4 0a2 2 0 1 0-4 0M466.2 250.6a2 2 0 1 0 4 0a2 2 0 1 0-4 0M458.8 253.6a2 2 0 1 0 4 0a2 2 0 1 0-4 0M465.4 250.6a2 2 0 1 0 4 0a2 2 0 1 0-4 0M445.8 259.5a2 2 0 1 0 4 0a2 2 0 1 0-4 0M478.5 250.6a2 2 0 1 0 4 0a2 2 0 1 0-4 0M395.5 310.4a2 2 0 1 0 4 0a2 2 0 1 0-4 0M434.7 298.4a2 2 0 1 0 4 0a2 2 0 1 0-4 0M440.9 265.5a2 2 0 1 0 4 0a2 2 0 1 0-4 0M484.8 274.5a2 2 0 1 0 4 0a2 2 0 1 0-4 0M418.3 271.5a2 2 0 1 0 4 0a2 2 0 1 0-4 0M445.7 262.5a2 2 0 1 0 4 0a2 2 0 1 0-4 0M490.7 256.6a2 2 0 1 0 4 0a2 2 0 1 0-4 0M452.7 256.6a2 2 0 1 0 4 0a2 2 0 1 0-4 0M393.5 295.4a2 2 0 1 0 4 0a2 2 0 1 0-4 0M481.3 250.6a2 2 0 1 0 4 0a2 2 0 1 0-4 0M482.7 277.5a2 2 0 1 0 4 0a2 2 0 1 0-4 0M462.1 289.4a2 2 0 1 0 4 0a2 2 0 1 0-4 0M393.8 298.4a2 2 0 1 0 4 0a2 2 0 1 0-4 0M480.9 250.6a2 2 0 1 0 4 0a2 2 0 1 0-4 0M475.1 283.5a2 2 0 1 0 4 0a2 2 0 1 0-4 0M432.5 265.5a2 2 0 1 0 4 0a2 2 0 1 0-4 0M489.7 256.6a2 2 0 1 0 4 0a2 2 0 1 0-4 0M392.3 301.4a2 2 0 1 0 4 0a2 2 0 1 0-4 0M456.0 292.4a2 2 0 1 0 4 0a2 2 0 1 0-4 0M403.6 310.4a2 2 0 1 0 4 0a2 2 0 1 0-4 0M480.9 250.6a2 2 0 1 0 4 0a2 2 0 1 0-4 0M426.8 268.5a2 2 0 1 0 4 0a2 2 0 1 0-4 0M480.7 277.5a2 2 0 1 0 4 0a2 2 0 1 0-4 0M456.9 253.6a2 2 0 1 0 4 0a2 2 0 1 0-4 0M477.4 280.5a2 2 0 1 0 4 0a2 2 0 1 0-4 0M420.4 307.4a2 2 0 1 0 4 0a2 2 0 1 0-4 0M398.8 286.4a2 2 0 1 0 4 0a2 2 0 1 0-4 0M408.4 277.5a2 2 0 1 0 4 0a2 2 0 1 0-4 0M393.8 310.4a2 2 0 1 0 4 0a2 2 0 1 0-4 0M491.4 253.6a2 2 0 1 0 4 0a2 2 0 1 0-4 0M488.4 265.5a2 2 0 1 0 4 0a2 2 0 1 0-4 0M450.6 295.4a2 2 0 1 0 4 0a2 2 0 1 0-4 0M425.2 268.5a2 2 0 1 0 4 0a2 2 0 1 0-4 0M473.1 283.5a2 2 0 1 0 4 0a2 2 0 1 0-4 0M486.2 256.6a2 2 0 1 0 4 0a2 2 0 1 0-4 0M398.8 310.4a2 2 0 1 0 4 0a2 2 0 1 0-4 0M490.1 253.6a2 2 0 1 0 4 0a2 2 0 1 0-4 0M424.3 268.5a2 2 0 1 0 4 0a2 2 0 1 0-4 0M485.0 277.5a2 2 0 1 0 4 0a2 2 0 1 0-4 0M461.1 289.4a2 2 0 1 0 4 0a2 2 0 1 0-4 0M454.5 295.4a2 2 0 1 0 4 0a2 2 0 1 0-4 0M445.3 259.5a2 2 0 1 0 4 0a2 2 0 1 0-4 0M436.3 265.5a2 2 0 1 0 4 0a2 2 0 1 0-4 0M475.5 283.5a2 2 0 1 0 4 0a2 2 0 1 0-4 0M443.6 292.4a2 2 0 1 0 4 0a2 2 0 1 0-4 0M393.4 292.4a2 2 0 1 0 4 0a2 2 0 1 0-4 0M479.9 280.5a2 2 0 1 0 4 0a2 2 0 1 0-4 0M482.9 250.6a2 2 0 1 0 4 0a2 2 0 1 0-4 0M399.9 310.4a2 2 0 1 0 4 0a2 2 0 1 0-4 0M470.0 289.4a2 2 0 1 0 4 0a2 2 0 1 0-4 0M453.6 292.4a2 2 0 1 0 4 0a2 2 0 1 0-4 0M398.7 307.4a2 2 0 1 0 4 0a2 2 0 1 0-4 0M489.1 259.5a2 2 0 1 0 4 0a2 2 0 1 0-4 0M416.8 307.4a2 2 0 1 0 4 0a2 2 0 1 0-4 0M469.6 289.4a2 2 0 1 0 4 0a2 2 0 1 0-4 0M483.2 250.6a2 2 0 1 0 4 0a2 2 0 1 0-4 0M450.9 295.4a2 2 0 1 0 4 0a2 2 0 1 0-4 0M434.1 265.5a2 2 0 1 0 4 0a2 2 0 1 0-4 0M484.8 277.5a2 2 0 1 0 4 0a2 2 0 1 0-4 0M453.5 256.6a2 2 0 1 0 4 0a2 2 0 1 0-4 0M480.7 250.6a2 2 0 1 0 4 0a2 2 0 1 0-4 0M476.2 247.6a2 2 0 1 0 4 0a2 2 0 1 0-4 0M425.5 304.4a2 2 0 1 0 4 0a2 2 0 1 0-4 0M449.1 256.6a2 2 0 1 0 4 0a2 2 0 1 0-4 0M485.3 271.5a2 2 0 1 0 4 0a2 2 0 1 0-4 0M458.0 253.6a2 2 0 1 0 4 0a2 2 0 1 0-4 0M460.3 250.6a2 2 0 1 0 4 0a2 2 0 1 0-4 0M474.5 283.5a2 2 0 1 0 4 0a2 2 0 1 0-4 0M398.3 307.4a2 2 0 1 0 4 0a2 2 0 1 0-4 0M456.1 292.4a2 2 0 1 0 4 0a2 2 0 1 0-4 0M470.1 247.6a2 2 0 1 0 4 0a2 2 0 1 0-4 0M464.1 250.6a2 2 0 1 0 4 0a2 2 0 1 0-4 0M461.8 289.4a2 2 0 1 0 4 0a2 2 0 1 0-4 0M449.7 259.5a2 2 0 1 0 4 0a2 2 0 1 0-4 0M479.9 250.6a2 2 0 1 0 4 0a2 2 0 1 0-4 0M465.5 250.6a2 2 0 1 0 4 0a2 2 0 1 0-4 0M464.2 250.6a2 2 0 1 0 4 0a2 2 0 1 0-4 0M477.4 247.6a2 2 0 1 0 4 0a2 2 0 1 0-4 0M408.0 277.5a2 2 0 1 0 4 0a2 2 0 1 0-4 0M483.2 274.5a2 2 0 1 0 4 0a2 2 0 1 0-4 0M472.0 247.6a2 2 0 1 0 4 0a2 2 0 1 0-4 0M441.4 262.5a2 2 0 1 0 4 0a2 2 0 1 0-4 0M483.1 250.6a2 2 0 1 0 4 0a2 2 0 1 0-4 0M455.5 292.4a2 2 0 1 0 4 0a2 2 0 1 0-4 0M485.5 268.5a2 2 0 1 0 4 0a2 2 0 1 0-4 0M458.6 253.6a2 2 0 1 0 4 0a2 2 0 1 0-4 0M447.7 295.4a2 2 0 1 0 4 0a2 2 0 1 0-4 0M485.0 271.5a2 2 0 1 0 4 0a2 2 0 1 0-4 0M483.2 280.5a2 2 0 1 0 4 0a2 2 0 1 0-4 0M480.2 277.5a2 2 0 1 0 4 0a2 2 0 1 0-4 0M437.4 298.4a2 2 0 1 0 4 0a2 2 0 1 0-4 0M487.9 268.5a2 2 0 1 0 4 0a2 2 0 1 0-4 0M487.1 250.6a2 2 0 1 0 4 0a2 2 0 1 0-4 0M415.6 307.4a2 2 0 1 0 4 0a2 2 0 1 0-4 0M453.6 256.6a2 2 0 1 0 4 0a2 2 0 1 0-4 0M489.1 256.6a2 2 0 1 0 4 0a2 2 0 1 0-4 0M467.6 250.6a2 2 0 1 0 4 0a2 2 0 1 0-4 0M454.4 253.6a2 2 0 1 0 4 0a2 2 0 1 0-4 0M450.8 292.4a2 2 0 1 0 4 0a2 2 0 1 0-4 0M452.1 292.4a2 2 0 1 0 4 0a2 2 0 1 0-4 0M392.5 292.4a2 2 0 1 0 4 0a2 2 0 1 0-4 0M445.4 292.4a2 2 0 1 0 4 0a2 2 0 1 0-4 0M391.7 295.4a2 2 0 1 0 4 0a2 2 0 1 0-4 0M476.5 247.6a2 2 0 1 0 4 0a2 2 0 1 0-4 0M466.5 250.6a2 2 0 1 0 4 0a2 2 0 1 0-4 0M490.3 256.6a2 2 0 1 0 4 0a2 2 0 1 0-4 0M417.8 271.5a2 2 0 1 0 4 0a2 2 0 1 0-4 0M415.2 271.5a2 2 0 1 0 4 0a2 2 0 1 0-4 0M453.6 295.4a2 2 0 1 0 4 0a2 2 0 1 0-4 0M454.8 295.4a2 2 0 1 0 4 0a2 2 0 1 0-4 0M435.6 262.5a2 2 0 1 0 4 0a2 2 0 1 0-4 0M477.0 280.5a2 2 0 1 0 4 0a2 2 0 1 0-4 0M487.1 250.6a2 2 0 1 0 4 0a2 2 0 1 0-4 0M468.1 250.6a2 2 0 1 0 4 0a2 2 0 1 0-4 0M412.8 274.5a2 2 0 1 0 4 0a2 2 0 1 0-4 0M398.0 286.4a2 2 0 1 0 4 0a2 2 0 1 0-4 0M405.3 277.5a2 2 0 1 0 4 0a2 2 0 1 0-4 0M398.9 307.4a2 2 0 1 0 4 0a2 2 0 1 0-4 0M481.1 250.6a2 2 0 1 0 4 0a2 2 0 1 0-4 0M435.6 301.4a2 2 0 1 0 4 0a2 2 0 1 0-4 0M415.4 271.5a2 2 0 1 0 4 0a2 2 0 1 0-4 0M482.4 247.6a2 2 0 1 0 4 0a2 2 0 1 0-4 0M486.5 271.5a2 2 0 1 0 4 0a2 2 0 1 0-4 0M489.1 271.5a2 2 0 1 0 4 0a2 2 0 1 0-4 0M472.4 247.6a2 2 0 1 0 4 0a2 2 0 1 0-4 0M394.2 304.4a2 2 0 1 0 4 0a2 2 0 1 0-4 0M401.2 280.5a2 2 0 1 0 4 0a2 2 0 1 0-4 0M489.1 265.5a2 2 0 1 0 4 0a2 2 0 1 0-4 0M440.1 262.5a2 2 0 1 0 4 0a2 2 0 1 0-4 0M484.1 253.6a2 2 0 1 0 4 0a2 2 0 1 0-4 0M418.2 307.4a2 2 0 1 0 4 0a2 2 0 1 0-4 0M428.4 265.5a2 2 0 1 0 4 0a2 2 0 1 0-4 0M394.4 292.4a2 2 0 1 0 4 0a2 2 0 1 0-4 0M449.4 292.4a2 2 0 1 0 4 0a2 2 0 1 0-4 0M440.3 298.4a2 2 0 1 0 4 0a2 2 0 1 0-4 0M490.8 253.6a2 2 0 1 0 4 0a2 2 0 1 0-4 0M438.4 265.5a2 2 0 1 0 4 0a2 2 0 1 0-4 0M447.0 256.6a2 2 0 1 0 4 0a2 2 0 1 0-4 0M491.7 256.6a2 2 0 1 0 4 0a2 2 0 1 0-4 0M424.4 265.5a2 2 0 1 0 4 0a2 2 0 1 0-4 0M436.9 265.5a2 2 0 1 0 4 0a2 2 0 1 0-4 0M463.1 289.4a2 2 0 1 0 4 0a2 2 0 1 0-4 0M489.4 253.6a2 2 0 1 0 4 0a2 2 0 1 0-4 0M479.7 277.5a2 2 0 1 0 4 0a2 2 0 1 0-4 0M442.7 262.5a2 2 0 1 0 4 0a2 2 0 1 0-4 0M479.5 277.5a2 2 0 1 0 4 0a2 2 0 1 0-4 0M394.9 289.4a2 2 0 1 0 4 0a2 2 0 1 0-4 0M443.7 262.5a2 2 0 1 0 4 0a2 2 0 1 0-4 0M484.2 274.5a2 2 0 1 0 4 0a2 2 0 1 0-4 0M445.1 262.5a2 2 0 1 0 4 0a2 2 0 1 0-4 0M472.0 247.6a2 2 0 1 0 4 0a2 2 0 1 0-4 0M485.9 274.5a2 2 0 1 0 4 0a2 2 0 1 0-4 0M469.7 286.4a2 2 0 1 0 4 0a2 2 0 1 0-4 0M396.9 286.4a2 2 0 1 0 4 0a2 2 0 1 0-4 0M418.6 307.4a2 2 0 1 0 4 0a2 2 0 1 0-4 0M440.6 265.5a2 2 0 1 0 4 0a2 2 0 1 0-4 0M433.3 265.5a2 2 0 1 0 4 0a2 2 0 1 0-4 0M488.7 265.5a2 2 0 1 0 4 0a2 2 0 1 0-4 0M407.1 277.5a2 2 0 1 0 4 0a2 2 0 1 0-4 0M487.5 268.5a2 2 0 1 0 4 0a2 2 0 1 0-4 0M478.9 280.5a2 2 0 1 0 4 0a2 2 0 1 0-4 0M486.6 268.5a2 2 0 1 0 4 0a2 2 0 1 0-4 0M461.5 292.4a2 2 0 1 0 4 0a2 2 0 1 0-4 0M408.9 310.4a2 2 0 1 0 4 0a2 2 0 1 0-4 0M404.3 277.5a2 2 0 1 0 4 0a2 2 0 1 0-4 0M445.9 262.5a2 2 0 1 0 4 0a2 2 0 1 0-4 0M470.4 289.4a2 2 0 1 0 4 0a2 2 0 1 0-4 0M472.7 283.5a2 2 0 1 0 4 0a2 2 0 1 0-4 0M391.5 301.4a2 2 0 1 0 4 0a2 2 0 1 0-4 0M468.8 247.6a2 2 0 1 0 4 0a2 2 0 1 0-4 0M400.6 283.5a2 2 0 1 0 4 0a2 2 0 1 0-4 0M474.4 283.5a2 2 0 1 0 4 0a2 2 0 1 0-4 0M401.0 307.4a2 2 0 1 0 4 0a2 2 0 1 0-4 0M474.0 283.5a2 2 0 1 0 4 0a2 2 0 1 0-4 0M413.6 271.5a2 2 0 1 0 4 0a2 2 0 1 0-4 0M437.0 232.4a2 2 0 1 0 4 0a2 2 0 1 0-4 0M451.0 232.4a2 2 0 1 0 4 0a2 2 0 1 0-4 0M453.0 232.4a2 2 0 1 0 4 0a2 2 0 1 0-4 0M463.0 232.4a2 2 0 1 0 4 0a2 2 0 1 0-4 0M466.0 232.4a2 2 0 1 0 4 0a2 2 0 1 0-4 0M469.0 232.4a2 2 0 1 0 4 0a2 2 0 1 0-4 0M427.0 244.0a2 2 0 1 0 4 0a2 2 0 1 0-4 0M434.0 247.0a2 2 0 1 0 4 0a2 2 0 1 0-4 0M432.0 251.0a2 2 0 1 0 4 0a2 2 0 1 0-4 0M420.0 256.0a2 2 0 1 0 4 0a2 2 0 1 0-4 0M397.0 271.0a2 2 0 1 0 4 0a2 2 0 1 0-4 0M383.0 304.0a2 2 0 1 0 4 0a2 2 0 1 0-4 0M389.0 311.0a2 2 0 1 0 4 0a2 2 0 1 0-4 0M398.0 313.0a2 2 0 1 0 4 0a2 2 0 1 0-4 0M422.0 325.0a2 2 0 1 0 4 0a2 2 0 1 0-4 0M429.0 322.0a2 2 0 1 0 4 0a2 2 0 1 0-4 0M440.0 326.0a2 2 0 1 0 4 0a2 2 0 1 0-4 0M454.0 326.0a2 2 0 1 0 4 0a2 2 0 1 0-4 0M446.0 334.0a2 2 0 1 0 4 0a2 2 0 1 0-4 0M460.0 334.0a2 2 0 1 0 4 0a2 2 0 1 0-4 0M453.0 301.0a2 2 0 1 0 4 0a2 2 0 1 0-4 0M456.0 301.0a2 2 0 1 0 4 0a2 2 0 1 0-4 0M459.0 301.0a2 2 0 1 0 4 0a2 2 0 1 0-4 0M462.0 301.0a2 2 0 1 0 4 0a2 2 0 1 0-4 0M465.0 301.0a2 2 0 1 0 4 0a2 2 0 1 0-4 0M456.0 304.0a2 2 0 1 0 4 0a2 2 0 1 0-4 0M473.0 301.0a2 2 0 1 0 4 0a2 2 0 1 0-4 0M483.0 298.0a2 2 0 1 0 4 0a2 2 0 1 0-4 0M498.0 247.0a2 2 0 1 0 4 0a2 2 0 1 0-4 0M499.0 258.0a2 2 0 1 0 4 0a2 2 0 1 0-4 0M490.0 253.0a2 2 0 1 0 4 0a2 2 0 1 0-4 0M492.0 264.0a2 2 0 1 0 4 0a2 2 0 1 0-4 0M494.0 270.0a2 2 0 1 0 4 0a2 2 0 1 0-4 0M479.0 242.0a2 2 0 1 0 4 0a2 2 0 1 0-4 0M450.0 245.0a2 2 0 1 0 4 0a2 2 0 1 0-4 0M453.0 247.0a2 2 0 1 0 4 0a2 2 0 1 0-4 0M457.0 248.0a2 2 0 1 0 4 0a2 2 0 1 0-4 0"/>
<line x1="376.5" y1="308.6" x2="507.5" y2="252.1" stroke="#bcbcbc" stroke-width="0.7"/>
</g>
<rect x="376.5" y="228.5" width="131.0" height="110.0" fill="none" stroke="#999" stroke-width="1"/>
<line x1="394.5" y1="338.5" x2="394.5" y2="342.0" stroke="#aaa" stroke-width="1"/>
<text x="394.5" y="351.8" text-anchor="middle" font-size="8.7">60</text>
<line x1="428.2" y1="338.5" x2="428.2" y2="342.0" stroke="#aaa" stroke-width="1"/>
<text x="428.2" y="351.8" text-anchor="middle" font-size="8.7">65</text>
<line x1="461.8" y1="338.5" x2="461.8" y2="342.0" stroke="#aaa" stroke-width="1"/>
<text x="461.8" y="351.8" text-anchor="middle" font-size="8.7">70</text>
<line x1="495.5" y1="338.5" x2="495.5" y2="342.0" stroke="#aaa" stroke-width="1"/>
<text x="495.5" y="351.8" text-anchor="middle" font-size="8.7">75</text>
<line x1="373.0" y1="331.3" x2="376.5" y2="331.3" stroke="#aaa" stroke-width="1"/>
<text x="369.4" y="334.5" text-anchor="end" font-size="8.7">50</text>
<line x1="373.0" y1="316.4" x2="376.5" y2="316.4" stroke="#aaa" stroke-width="1"/>
<text x="369.4" y="319.6" text-anchor="end" font-size="8.7">55</text>
<line x1="373.0" y1="301.4" x2="376.5" y2="301.4" stroke="#aaa" stroke-width="1"/>
<text x="369.4" y="304.6" text-anchor="end" font-size="8.7">60</text>
<line x1="373.0" y1="286.4" x2="376.5" y2="286.4" stroke="#aaa" stroke-width="1"/>
<text x="369.4" y="289.6" text-anchor="end" font-size="8.7">65</text>
<line x1="373.0" y1="271.5" x2="376.5" y2="271.5" stroke="#aaa" stroke-width="1"/>
<text x="369.4" y="274.7" text-anchor="end" font-size="8.7">70</text>
<line x1="373.0" y1="256.6" x2="376.5" y2="256.6" stroke="#aaa" stroke-width="1"/>
<text x="369.4" y="259.8" text-anchor="end" font-size="8.7">75</text>
<line x1="373.0" y1="241.6" x2="376.5" y2="241.6" stroke="#aaa" stroke-width="1"/>
<text x="369.4" y="244.8" text-anchor="end" font-size="8.7">80</text>
<text transform="translate(353.6,284.3) rotate(-90)" text-anchor="middle" font-size="8.8">Actual HGT</text>
<text x="439.5" y="218.3" text-anchor="middle" font-size="8.66">NHS/HPFS/PHS (<tspan font-style="italic">N</tspan> = 437 K)</text>
<text x="345.4" y="217.0" font-weight="bold" font-size="15.3" fill="#000">g</text>
<text x="439.5" y="365.5" text-anchor="middle" font-size="8.68">Predicted HGT using Lasso+CTPR</text>
<text x="439.5" y="384.0" text-anchor="middle"><tspan font-style="italic">R</tspan><tspan font-size="6.3" dy="-1.9" dx="0.5">2</tspan><tspan dy="1.9"> = 29.8%</tspan></text>
<text x="439.5" y="393.8" text-anchor="middle">(<tspan font-style="italic" dx="0.8">R</tspan><tspan font-size="6.3" dy="-2.4" dx="0.5">2</tspan><tspan font-size="6.3" font-style="italic" dy="5.4" dx="0.5">m</tspan><tspan dy="-3.0" dx="0.8">= 25.6%, </tspan><tspan font-style="italic">R</tspan><tspan font-size="6.3" dy="-2.4" dx="0.5">2</tspan><tspan font-size="6.3" font-style="italic" dy="5.4" dx="0.5">w</tspan><tspan dy="-3.0" dx="0.8">= 32.2%)</tspan></text>
<clipPath id="c7"><rect x="551.5" y="228.5" width="131.0" height="110.0"/></clipPath>
<g clip-path="url(#c7)">
<path fill="#9dc9e1" d="M576.5 314.5L573.5 314.6L570.5 314.3L568 313.5L566 312.3L564.5 310.7L563.6 309L563 306.5L563.1 304L563.7 301L564.6 298.5L566.1 295.5L568.3 292L574 285L580.5 278.8L585.5 274.9L591 271.1L607 262L618.5 252.8L624 248.8L629 245.8L634 243.4L638 241.8L642 240.7L646 240.1L649.5 240L652.5 240.4L655.5 241.3L658 242.8L659.7 244.5L661 246.5L661.9 248.5L662.5 253L662.3 256L661.8 259L659.7 265L656.3 271.5L652.1 277.5L646.9 283.5L641 288.9L636 292.8L631.5 295.8L627 298.2L622.5 300.3L616.5 302.2L605.2 304.5L587 312.2L581.5 313.8L576.5 314.5Z"/>
<path fill="#90c2de" d="M582 307.5L577.5 307.4L575.5 306.7L574 305.8L572.8 304.5L572.1 303L571.8 301.5L571.9 299.5L573.4 295L576.4 290L580.7 285L586.5 279.8L590.5 276.8L595.5 273.7L610.1 266.5L613.7 264L624 255.9L629 252.8L633 250.8L638.5 249.1L641.5 248.6L644 248.6L646.5 248.9L648.5 249.6L650 250.5L651.5 252L653 255L653.4 258.5L652.8 262.5L651.3 267L648.9 271.5L645.3 276.5L641.3 281L636.5 285.2L630.5 289.4L624.5 292.4L620 293.9L609.5 296.2L606.5 297.5L597.5 302.3L592.5 304.7L586.5 306.7L582 307.5Z"/>
<path fill="#87bddc" d="M586.5 304.5L581.5 304.9L579.5 304.6L578 304L576.6 303L575.9 302L575.3 300.5L575.2 299L575.4 297L576.1 295L578.6 290.5L582.7 285.5L587.5 281.1L592 277.9L596.5 275.2L608.1 270L611.9 268L624.5 258.2L628.5 255.7L631.5 254.2L637 252.3L641.5 251.8L643.5 252L645.5 252.6L647 253.5L648.1 254.5L649.5 257L650 260L649.5 263.5L648.2 267.5L646.1 271.5L643.3 275.5L639.7 279.5L636 282.8L630.5 286.7L625.5 289.3L621 290.8L613.5 292.3L610.5 293.2L607.5 294.6L595.5 301.4L591 303.3L586.5 304.5Z"/>
<path fill="#7eb8da" d="M586.5 303.1L582.5 303.2L579.5 302.2L578.5 301.3L577.7 300L577.4 298.5L577.4 297L578.5 293.5L580.9 289.5L584.3 285.5L589 281.3L593.5 278.2L598 275.7L609.5 271L612.4 269.5L615.3 267.5L624.5 260L628 257.7L631.5 255.9L636.5 254.3L640.5 253.9L642.5 254.2L644 254.8L646.2 256.5L647.3 258.5L647.7 261.5L647.2 265L645.9 268.5L643.9 272L641.4 275.5L638.2 279L634.5 282.2L630 285.2L626 287.3L621.5 288.8L614.5 290.1L611.5 291L608.5 292.4L600 297.7L596 299.9L591.5 301.8L586.5 303.1Z"/>
<path fill="#75b3d8" d="M588.5 301.6L584.5 301.9L581.5 301.2L580.4 300.5L579.6 299.5L579.1 298L579.1 296.5L580.1 293L582.2 289.5L585.6 285.5L590 281.6L594 278.8L598.5 276.4L602.5 274.7L609.5 272.3L612.5 270.9L615.5 268.8L624.5 261.3L628 259L631.5 257.3L636 255.8L639.5 255.6L642.5 256.3L644.7 258L645.7 260L646 262.5L645.5 265.5L644.2 269L642.2 272.5L639.9 275.5L637.1 278.5L634 281.2L629.5 284.2L625 286.3L621 287.4L614.4 288.5L611.5 289.5L597.5 298.2L593 300.2L588.5 301.6Z"/>
<path fill="#6caed6" d="M589 300.6L585.5 300.9L582.5 300.1L580.9 298.5L580.5 296L581.2 293L583.2 289.5L586.6 285.5L590.5 282.1L594.5 279.3L599.5 276.7L603.5 275.2L610 273.3L613 272L615.5 270.2L624.5 262.4L628 260.1L631 258.6L635 257.2L638.5 256.9L641.3 257.5L643.3 259L644.3 261L644.6 263.5L644.2 266L643.1 269L641.4 272L639.2 275L636.5 277.9L633.5 280.4L629.5 283.1L625 285.2L621 286.2L614.5 287.1L612 287.9L609.5 289.4L602.5 294.4L598 297.1L593.5 299.3L589 300.6Z"/>
<path fill="#64a9d3" d="M590.5 299.5L587 300L584 299.5L582.2 298L581.8 297L581.6 295.5L582.4 292.5L584.4 289L587.5 285.5L591 282.4L595 279.7L600 277.2L604 275.9L610.5 274.3L613 273.2L615.5 271.5L624 263.7L627.5 261.3L630.5 259.7L634.5 258.3L637.5 258L640.2 258.5L642.2 260L643.2 262L643.4 264L643 266.5L642.1 269L640.4 272L638.2 275L635.8 277.5L633 279.9L628.5 282.7L624.5 284.3L621 285.1L615 285.6L612.5 286.4L610 287.9L603 293.3L599 295.9L594.5 298.2L590.5 299.5Z"/>
<path fill="#5da4d0" d="M589.5 299L586.5 299.1L585 298.7L584 298.2L582.8 296.5L582.7 294.5L583.7 291.5L585.6 288.5L588.5 285.3L592 282.3L596 279.7L600.5 277.6L604.5 276.4L611 275.3L613.5 274.2L616 272.3L624 264.6L627.5 262.1L631 260.3L634.5 259.2L637.5 259L640 259.7L641.4 261L642.1 262.5L642.4 264.5L642 267L641 269.5L639.6 272L637.5 274.8L635 277.3L632.5 279.4L628.5 281.9L624.5 283.5L621 284.1L615 284.3L613 284.9L610.5 286.5L603 292.6L599 295.3L594 297.8L589.5 299Z"/>
<path fill="#559fce" d="M591.5 298.1L588 298.5L585.7 298L584.8 297.5L584 296.5L583.6 294.5L584.2 292L585.9 289L588.4 286L592 282.9L596 280.3L601 278L605.5 276.9L611.5 276.4L613.5 275.6L615.5 274.1L620.6 268.5L623.5 265.8L627 263.1L630.5 261.2L633.5 260.2L636.5 259.9L639 260.4L640.5 261.7L641.2 263L641.5 265L641.2 267L640.3 269.5L638.8 272L637 274.4L632.5 278.6L628.5 281.1L624.5 282.7L621 283.2L615 282.9L613 283.5L611 284.9L604.3 291L600.5 293.9L596 296.4L591.5 298.1Z"/>
<path fill="#4e9acb" d="M591.5 297.5L588.5 297.8L586 297.2L584.8 296L584.5 294L585.1 291.5L586.9 288.5L589.6 285.5L593 282.7L598 279.7L602.5 278.1L606.5 277.5L612 278L613.5 277.7L615 276.3L619.6 270.5L623 267L626.5 264.1L630.5 261.9L633.5 260.9L636 260.7L638.5 261.3L639.8 262.5L640.5 264L640.6 266L640.1 268L639.3 270L637.8 272.5L636.2 274.5L632 278.3L628 280.7L623.5 282.1L620 282.2L615 281.1L613.5 281.2L612 282.4L605.9 289L601.7 292.5L596.5 295.7L591.5 297.5Z"/>
<path fill="#4795c8" d="M625 281.1L622.5 281.5L620.5 281.4L618 280.5L616.7 279.5L616.2 278.5L616.4 277L618.5 273L620.8 270L623.2 267.5L626 265.1L628.5 263.5L631.5 262.1L634 261.5L636 261.4L638 262.1L639.4 263.5L639.8 266L639.1 269L637.5 272L635.1 275L632 277.7L628.5 279.8L625 281.1ZM591.5 297L589 297.2L587 296.8L585.9 296L585.3 294.5L585.4 292.5L586.2 290.5L587.9 288L590.2 285.5L595 281.8L598 280.2L601 279L604 278.4L606.5 278.3L608.5 278.6L610.2 279.5L610.6 280L610.8 281L610 283L607.9 286L604.7 289.5L601.5 292.2L598 294.5L594.5 296.1L591.5 297Z"/>
<path fill="#4090c5" d="M624.5 280.6L622.5 280.7L620.5 280.4L618.8 279.5L618 278.5L617.7 277L618.1 275.5L619.1 273.5L620.7 271L625 266.5L627.5 264.7L630 263.3L632.5 262.4L634.5 262.1L636.5 262.3L637.8 263L638.8 264.5L639 267L638.1 270L636.2 273L633.5 275.8L630.5 278.1L627.5 279.7L624.5 280.6ZM591.5 296.5L589 296.6L587.5 296.2L586.5 295.3L586 294L586.1 292.5L586.8 290.5L588.4 288L590.2 286L595 282.2L597.5 280.9L600.5 279.7L603 279.1L605.5 278.9L607.5 279.3L608.6 280L609.2 281.5L608.7 283.5L606.8 286.5L604.1 289.5L601 292.1L597.5 294.3L594.5 295.7L591.5 296.5Z"/>
<path fill="#3a8ac2" d="M623.5 280L622 279.9L620.5 279.4L619.5 278.5L618.9 277L619 275.5L619.6 274L622.2 270L626 266.3L630 263.8L632 263.1L634 262.7L635.5 262.8L637.1 263.5L638.2 265L638.3 267.5L637.2 270.5L635.5 273.1L632.6 276L629.5 278.2L626.5 279.5L623.5 280ZM591.5 296.1L589.5 296.1L588 295.6L587 294.6L586.7 293.5L586.8 292L587.6 290L588.9 288L590.7 286L595 282.6L600 280.2L602.5 279.6L604.5 279.5L606 279.7L607.5 280.5L608.1 282L607.7 284L606.2 286.5L603.5 289.5L600.6 292L597.5 293.9L594.5 295.3L591.5 296.1Z"/>
<path fill="#3484bf" d="M626 279L624 279.3L622.5 279.2L621 278.5L620.1 277.5L619.9 276.5L620 275L621.7 271.5L625.2 267.5L629.5 264.6L631.5 263.8L633.5 263.4L635 263.4L636.4 264L637.5 265.4L637.7 267L637.1 269.5L635.8 272L634 274.1L631.5 276.3L628.5 278.1L626 279ZM592 295.5L590 295.6L588.5 295.1L587.5 294L587.3 293L587.5 291.5L588.1 290L589.4 288L591 286.2L595 283L599.5 280.8L602 280.2L604 280.1L605.5 280.3L606.6 281L607.2 282.5L606.8 284.5L605.6 286.5L603.5 289L601 291.2L598 293.3L595 294.7L592 295.5Z"/>
<path fill="#2e7ebc" d="M625.5 278.6L624 278.7L622.5 278.3L621.3 277.5L620.8 276.5L620.7 275.5L621 274L623 270.5L626.5 267L630 264.9L633.5 264L635 264.2L636 264.7L636.9 266L637 268L636.4 270L634.8 272.5L633 274.5L630.5 276.5L628 277.8L625.5 278.6ZM592.5 295L591 295.1L589.5 294.9L588.5 294.2L588 293L588 291.5L588.6 290L591.2 286.5L595 283.4L599.5 281.2L601.5 280.7L603.5 280.6L605 280.9L605.9 281.5L606.4 283L606.2 284.5L605.1 286.5L603 289L600.5 291.2L598 292.9L595 294.4L592.5 295Z"/>
<path fill="#2878b9" d="M625 278L623.5 277.8L622.5 277.4L621.8 276.5L621.5 275.5L622.1 273L624 270L627 267.1L630 265.4L633 264.6L634.5 264.7L635.5 265.3L636.3 266.5L636.3 268.5L635.6 270.5L634 272.9L632 274.9L629.5 276.6L627 277.7L625 278ZM593 294.5L591.5 294.7L590 294.4L589 293.7L588.5 292.5L588.7 291L589.4 289.5L591.7 286.5L595.5 283.5L599.5 281.6L603 281.1L604.5 281.5L605.2 282L605.7 283.5L605.4 285L604.2 287L602.5 289L600.3 291L598 292.5L595.5 293.8L593 294.5Z"/>
<path fill="#2272b6" d="M627 277.1L625.5 277.4L624 277.2L623 276.6L622.5 276L622.4 274L623.5 271.5L626 268.5L629 266.4L632 265.3L633.5 265.2L634.5 265.5L635.5 266.5L635.8 268L635.5 269.5L634.5 271.5L632.9 273.5L631 275.1L629 276.4L627 277.1ZM593.5 294L592 294.2L590.5 294L589.8 293.5L589.2 292.5L589.1 291.5L589.6 290L591.7 287L595 284.2L599 282.2L602.5 281.6L603.5 281.8L604.5 282.4L605 283.5L604.8 285L604.1 286.5L602.6 288.5L600.4 290.5L598 292.2L595.5 293.4L593.5 294Z"/>
<path fill="#1d6cb1" d="M627 276.6L624.5 276.5L623.3 275.5L623.2 273.5L624.4 271L626.7 268.5L629.5 266.6L632 265.8L634 266.1L634.9 267L635.1 268L634.9 269.5L633.9 271.5L631 274.6L629 275.8L627 276.6ZM594 293.5L591.5 293.7L590.5 293.2L589.9 292.5L589.7 291.5L589.9 290.5L591.7 287.5L594.5 284.9L598 282.9L601 282.1L602.5 282.1L603.5 282.5L604.3 283.5L604.3 284.5L603.9 286L602.5 288L600.5 290L598.5 291.5L596 292.9L594 293.5Z"/>
<path fill="#1966ad" d="M626.5 276.1L625.5 276L624.5 275.6L623.9 274.5L624.2 272.5L625.4 270.5L627.5 268.4L630 266.9L632 266.4L633 266.5L633.8 267L634.4 268L634.4 269L633.9 270.5L633 272L631.6 273.5L630 274.7L628 275.7L626.5 276.1ZM594.5 293L592 293.2L591 292.8L590.4 292L590.6 290L592.1 287.5L594.9 285L598 283.3L601 282.5L603 283L603.7 284L603.7 285L603.1 286.5L602.1 288L598.5 291.2L594.5 293Z"/>
<path fill="#1461a8" d="M628 275.1L626 275.3L624.8 274.5L624.7 273L625.6 271L627.5 269L629.5 267.7L631.5 267.1L633 267.5L633.5 268L633.7 269L633.5 270L632.7 271.5L630.5 273.8L628 275.1ZM594.5 292.6L593 292.8L592 292.6L591 291.6L591 290.5L591.3 289.5L592.6 287.5L595 285.3L598 283.7L600.5 283L601.5 283.1L602.5 283.5L603.1 284.5L603 285.5L602.3 287L601.2 288.5L598 291.1L594.5 292.6Z"/>
<path fill="#105ba4" d="M627.5 274.6L626.5 274.5L625.8 274L625.6 273.5L625.8 272L626.7 270.5L628.3 269L630 268.1L631.5 267.9L632.5 268.3L632.8 269L632.8 270L631.7 272L629.5 273.8L627.5 274.6ZM595 292.1L593 292.3L591.7 291.5L591.6 290L593.1 287.5L595.3 285.5L598 284L600.5 283.5L602 284L602.3 284.5L602.4 285.5L601.1 288L598.3 290.5L595 292.1Z"/>
<path fill="#0b559f" d="M628.5 273.5L627.5 273.6L626.6 273L626.7 272L627.2 271L628.1 270L629.5 269.1L630.5 268.8L631.5 269L631.8 270L631.2 271.5L630 272.7L628.5 273.5ZM595.5 291.5L593.5 291.7L592.8 291.5L592.3 291L592.3 289.5L593.6 287.5L595.5 285.8L598 284.5L600 284.1L601.4 284.5L601.7 285L601.7 286L600.6 288L598.4 290L595.5 291.5Z"/>
<path fill="#084f9a" d="M629 272.1L628.4 272L628.5 271.1L629.2 270.5L630 270.4L630 271.2L629 272.1ZM595.5 291.1L594 291.2L593 290.5L593.1 289L594.1 287.5L595.9 286L597.8 285L599.5 284.6L600.7 285L601 286L600.1 288L598 289.9L595.5 291.1Z"/>
<path fill="#084991" d="M595.5 290.5L594.4 290.5L593.8 290L593.8 289L594.8 287.5L596 286.4L597.5 285.6L599 285.3L599.8 285.5L600.2 286.5L599.4 288L597.8 289.5L595.5 290.5Z"/>
<path fill="#084388" d="M596.5 289.6L595.5 289.8L594.8 289.5L594.7 289L595.1 288L597 286.5L598 286.1L599 286.3L599.2 287L598.7 288L596.5 289.6Z"/>
<path fill="#9ECAE1" d="M638.8 290.3a2 2 0 1 0 4 0a2 2 0 1 0-4 0M640.6 285.8a2 2 0 1 0 4 0a2 2 0 1 0-4 0M585.7 311.2a2 2 0 1 0 4 0a2 2 0 1 0-4 0M565.1 290.5a2 2 0 1 0 4 0a2 2 0 1 0-4 0M631.8 244.9a2 2 0 1 0 4 0a2 2 0 1 0-4 0M625.9 248.2a2 2 0 1 0 4 0a2 2 0 1 0-4 0M613.7 300.0a2 2 0 1 0 4 0a2 2 0 1 0-4 0M571.1 312.5a2 2 0 1 0 4 0a2 2 0 1 0-4 0M565.8 296.1a2 2 0 1 0 4 0a2 2 0 1 0-4 0M573.5 313.8a2 2 0 1 0 4 0a2 2 0 1 0-4 0M659.0 261.7a2 2 0 1 0 4 0a2 2 0 1 0-4 0M641.9 285.9a2 2 0 1 0 4 0a2 2 0 1 0-4 0M601.8 261.6a2 2 0 1 0 4 0a2 2 0 1 0-4 0M651.8 241.1a2 2 0 1 0 4 0a2 2 0 1 0-4 0M563.4 302.6a2 2 0 1 0 4 0a2 2 0 1 0-4 0M630.2 293.0a2 2 0 1 0 4 0a2 2 0 1 0-4 0M650.7 242.4a2 2 0 1 0 4 0a2 2 0 1 0-4 0M653.5 242.9a2 2 0 1 0 4 0a2 2 0 1 0-4 0M613.3 299.6a2 2 0 1 0 4 0a2 2 0 1 0-4 0M656.3 270.8a2 2 0 1 0 4 0a2 2 0 1 0-4 0M632.2 245.9a2 2 0 1 0 4 0a2 2 0 1 0-4 0M632.3 295.7a2 2 0 1 0 4 0a2 2 0 1 0-4 0M617.9 298.2a2 2 0 1 0 4 0a2 2 0 1 0-4 0M569.4 310.8a2 2 0 1 0 4 0a2 2 0 1 0-4 0M565.5 309.1a2 2 0 1 0 4 0a2 2 0 1 0-4 0M642.2 241.7a2 2 0 1 0 4 0a2 2 0 1 0-4 0M662.1 252.2a2 2 0 1 0 4 0a2 2 0 1 0-4 0M565.3 310.2a2 2 0 1 0 4 0a2 2 0 1 0-4 0M623.7 296.5a2 2 0 1 0 4 0a2 2 0 1 0-4 0M584.2 276.5a2 2 0 1 0 4 0a2 2 0 1 0-4 0M606.0 301.3a2 2 0 1 0 4 0a2 2 0 1 0-4 0M649.9 242.1a2 2 0 1 0 4 0a2 2 0 1 0-4 0M658.2 251.9a2 2 0 1 0 4 0a2 2 0 1 0-4 0M625.1 295.4a2 2 0 1 0 4 0a2 2 0 1 0-4 0M615.7 300.3a2 2 0 1 0 4 0a2 2 0 1 0-4 0M646.4 279.4a2 2 0 1 0 4 0a2 2 0 1 0-4 0M590.0 272.8a2 2 0 1 0 4 0a2 2 0 1 0-4 0M602.2 304.3a2 2 0 1 0 4 0a2 2 0 1 0-4 0M578.7 279.2a2 2 0 1 0 4 0a2 2 0 1 0-4 0M643.0 243.7a2 2 0 1 0 4 0a2 2 0 1 0-4 0M640.7 284.5a2 2 0 1 0 4 0a2 2 0 1 0-4 0M559.2 312.1a2 2 0 1 0 4 0a2 2 0 1 0-4 0M654.1 243.6a2 2 0 1 0 4 0a2 2 0 1 0-4 0M630.2 298.3a2 2 0 1 0 4 0a2 2 0 1 0-4 0M579.5 311.8a2 2 0 1 0 4 0a2 2 0 1 0-4 0M643.5 241.1a2 2 0 1 0 4 0a2 2 0 1 0-4 0M612.4 302.2a2 2 0 1 0 4 0a2 2 0 1 0-4 0M580.7 276.6a2 2 0 1 0 4 0a2 2 0 1 0-4 0M591.7 270.6a2 2 0 1 0 4 0a2 2 0 1 0-4 0M621.7 252.0a2 2 0 1 0 4 0a2 2 0 1 0-4 0M564.9 300.0a2 2 0 1 0 4 0a2 2 0 1 0-4 0M647.1 284.4a2 2 0 1 0 4 0a2 2 0 1 0-4 0M589.8 310.8a2 2 0 1 0 4 0a2 2 0 1 0-4 0M645.2 281.0a2 2 0 1 0 4 0a2 2 0 1 0-4 0M563.9 315.4a2 2 0 1 0 4 0a2 2 0 1 0-4 0M653.9 267.8a2 2 0 1 0 4 0a2 2 0 1 0-4 0M608.0 258.3a2 2 0 1 0 4 0a2 2 0 1 0-4 0M598.9 266.8a2 2 0 1 0 4 0a2 2 0 1 0-4 0M567.6 294.2a2 2 0 1 0 4 0a2 2 0 1 0-4 0M574.8 281.7a2 2 0 1 0 4 0a2 2 0 1 0-4 0M570.8 312.2a2 2 0 1 0 4 0a2 2 0 1 0-4 0M603.6 265.2a2 2 0 1 0 4 0a2 2 0 1 0-4 0M656.8 258.6a2 2 0 1 0 4 0a2 2 0 1 0-4 0M595.4 266.6a2 2 0 1 0 4 0a2 2 0 1 0-4 0M559.6 308.0a2 2 0 1 0 4 0a2 2 0 1 0-4 0M579.6 280.3a2 2 0 1 0 4 0a2 2 0 1 0-4 0M617.1 298.3a2 2 0 1 0 4 0a2 2 0 1 0-4 0M582.8 277.3a2 2 0 1 0 4 0a2 2 0 1 0-4 0M648.6 243.4a2 2 0 1 0 4 0a2 2 0 1 0-4 0M577.1 281.4a2 2 0 1 0 4 0a2 2 0 1 0-4 0M561.0 306.4a2 2 0 1 0 4 0a2 2 0 1 0-4 0M559.0 311.1a2 2 0 1 0 4 0a2 2 0 1 0-4 0M650.4 244.6a2 2 0 1 0 4 0a2 2 0 1 0-4 0M655.3 242.7a2 2 0 1 0 4 0a2 2 0 1 0-4 0M564.0 298.4a2 2 0 1 0 4 0a2 2 0 1 0-4 0M573.7 312.8a2 2 0 1 0 4 0a2 2 0 1 0-4 0M587.0 310.8a2 2 0 1 0 4 0a2 2 0 1 0-4 0M656.3 246.8a2 2 0 1 0 4 0a2 2 0 1 0-4 0M658.1 251.8a2 2 0 1 0 4 0a2 2 0 1 0-4 0M645.8 279.5a2 2 0 1 0 4 0a2 2 0 1 0-4 0M654.1 246.5a2 2 0 1 0 4 0a2 2 0 1 0-4 0M654.6 244.3a2 2 0 1 0 4 0a2 2 0 1 0-4 0M620.3 297.4a2 2 0 1 0 4 0a2 2 0 1 0-4 0M576.9 282.2a2 2 0 1 0 4 0a2 2 0 1 0-4 0M567.2 292.0a2 2 0 1 0 4 0a2 2 0 1 0-4 0M568.3 292.6a2 2 0 1 0 4 0a2 2 0 1 0-4 0M624.4 248.7a2 2 0 1 0 4 0a2 2 0 1 0-4 0M637.0 243.5a2 2 0 1 0 4 0a2 2 0 1 0-4 0M652.9 275.1a2 2 0 1 0 4 0a2 2 0 1 0-4 0M663.3 251.1a2 2 0 1 0 4 0a2 2 0 1 0-4 0M636.7 290.1a2 2 0 1 0 4 0a2 2 0 1 0-4 0M564.1 299.1a2 2 0 1 0 4 0a2 2 0 1 0-4 0M658.7 246.7a2 2 0 1 0 4 0a2 2 0 1 0-4 0M651.3 271.8a2 2 0 1 0 4 0a2 2 0 1 0-4 0M610.4 260.9a2 2 0 1 0 4 0a2 2 0 1 0-4 0M662.3 249.0a2 2 0 1 0 4 0a2 2 0 1 0-4 0M584.9 273.5a2 2 0 1 0 4 0a2 2 0 1 0-4 0M605.4 263.2a2 2 0 1 0 4 0a2 2 0 1 0-4 0M622.0 298.7a2 2 0 1 0 4 0a2 2 0 1 0-4 0M634.1 241.3a2 2 0 1 0 4 0a2 2 0 1 0-4 0M572.4 287.3a2 2 0 1 0 4 0a2 2 0 1 0-4 0M654.7 240.0a2 2 0 1 0 4 0a2 2 0 1 0-4 0M571.8 287.2a2 2 0 1 0 4 0a2 2 0 1 0-4 0M577.0 281.5a2 2 0 1 0 4 0a2 2 0 1 0-4 0M563.4 299.7a2 2 0 1 0 4 0a2 2 0 1 0-4 0M651.6 243.1a2 2 0 1 0 4 0a2 2 0 1 0-4 0M606.8 262.3a2 2 0 1 0 4 0a2 2 0 1 0-4 0M630.0 244.1a2 2 0 1 0 4 0a2 2 0 1 0-4 0M637.4 287.2a2 2 0 1 0 4 0a2 2 0 1 0-4 0M617.7 254.7a2 2 0 1 0 4 0a2 2 0 1 0-4 0M624.9 248.3a2 2 0 1 0 4 0a2 2 0 1 0-4 0M568.1 290.8a2 2 0 1 0 4 0a2 2 0 1 0-4 0M620.0 253.3a2 2 0 1 0 4 0a2 2 0 1 0-4 0M656.0 273.0a2 2 0 1 0 4 0a2 2 0 1 0-4 0M612.3 300.9a2 2 0 1 0 4 0a2 2 0 1 0-4 0M614.1 256.0a2 2 0 1 0 4 0a2 2 0 1 0-4 0M658.6 256.5a2 2 0 1 0 4 0a2 2 0 1 0-4 0M608.5 259.7a2 2 0 1 0 4 0a2 2 0 1 0-4 0M644.6 239.0a2 2 0 1 0 4 0a2 2 0 1 0-4 0M598.6 267.6a2 2 0 1 0 4 0a2 2 0 1 0-4 0M568.7 311.9a2 2 0 1 0 4 0a2 2 0 1 0-4 0M585.4 310.3a2 2 0 1 0 4 0a2 2 0 1 0-4 0M586.8 274.4a2 2 0 1 0 4 0a2 2 0 1 0-4 0M573.8 313.8a2 2 0 1 0 4 0a2 2 0 1 0-4 0M606.8 300.5a2 2 0 1 0 4 0a2 2 0 1 0-4 0M566.1 308.8a2 2 0 1 0 4 0a2 2 0 1 0-4 0M566.7 311.5a2 2 0 1 0 4 0a2 2 0 1 0-4 0M626.4 246.5a2 2 0 1 0 4 0a2 2 0 1 0-4 0M609.2 261.1a2 2 0 1 0 4 0a2 2 0 1 0-4 0M582.9 310.5a2 2 0 1 0 4 0a2 2 0 1 0-4 0M565.0 305.9a2 2 0 1 0 4 0a2 2 0 1 0-4 0M565.6 307.4a2 2 0 1 0 4 0a2 2 0 1 0-4 0M572.7 285.4a2 2 0 1 0 4 0a2 2 0 1 0-4 0M564.7 300.6a2 2 0 1 0 4 0a2 2 0 1 0-4 0M625.5 249.6a2 2 0 1 0 4 0a2 2 0 1 0-4 0M567.8 310.5a2 2 0 1 0 4 0a2 2 0 1 0-4 0M658.5 242.6a2 2 0 1 0 4 0a2 2 0 1 0-4 0M602.8 302.7a2 2 0 1 0 4 0a2 2 0 1 0-4 0M581.2 278.2a2 2 0 1 0 4 0a2 2 0 1 0-4 0M659.1 249.7a2 2 0 1 0 4 0a2 2 0 1 0-4 0M619.6 299.3a2 2 0 1 0 4 0a2 2 0 1 0-4 0M570.5 285.0a2 2 0 1 0 4 0a2 2 0 1 0-4 0M571.6 287.6a2 2 0 1 0 4 0a2 2 0 1 0-4 0M584.4 275.9a2 2 0 1 0 4 0a2 2 0 1 0-4 0M641.2 242.0a2 2 0 1 0 4 0a2 2 0 1 0-4 0M655.8 268.7a2 2 0 1 0 4 0a2 2 0 1 0-4 0M570.8 286.3a2 2 0 1 0 4 0a2 2 0 1 0-4 0M568.1 290.3a2 2 0 1 0 4 0a2 2 0 1 0-4 0M642.8 287.3a2 2 0 1 0 4 0a2 2 0 1 0-4 0M580.0 311.3a2 2 0 1 0 4 0a2 2 0 1 0-4 0M564.8 302.1a2 2 0 1 0 4 0a2 2 0 1 0-4 0M658.0 254.3a2 2 0 1 0 4 0a2 2 0 1 0-4 0M637.4 243.1a2 2 0 1 0 4 0a2 2 0 1 0-4 0M594.3 269.1a2 2 0 1 0 4 0a2 2 0 1 0-4 0M562.5 310.2a2 2 0 1 0 4 0a2 2 0 1 0-4 0M651.1 274.3a2 2 0 1 0 4 0a2 2 0 1 0-4 0M639.3 242.4a2 2 0 1 0 4 0a2 2 0 1 0-4 0M591.5 270.5a2 2 0 1 0 4 0a2 2 0 1 0-4 0M596.5 267.9a2 2 0 1 0 4 0a2 2 0 1 0-4 0M565.8 313.3a2 2 0 1 0 4 0a2 2 0 1 0-4 0M643.5 284.4a2 2 0 1 0 4 0a2 2 0 1 0-4 0M589.6 309.0a2 2 0 1 0 4 0a2 2 0 1 0-4 0M620.8 250.2a2 2 0 1 0 4 0a2 2 0 1 0-4 0M630.5 292.2a2 2 0 1 0 4 0a2 2 0 1 0-4 0M651.3 244.0a2 2 0 1 0 4 0a2 2 0 1 0-4 0M643.9 281.4a2 2 0 1 0 4 0a2 2 0 1 0-4 0M603.5 303.2a2 2 0 1 0 4 0a2 2 0 1 0-4 0M647.6 278.8a2 2 0 1 0 4 0a2 2 0 1 0-4 0M596.5 308.5a2 2 0 1 0 4 0a2 2 0 1 0-4 0M658.6 259.5a2 2 0 1 0 4 0a2 2 0 1 0-4 0M626.5 296.5a2 2 0 1 0 4 0a2 2 0 1 0-4 0M614.5 257.3a2 2 0 1 0 4 0a2 2 0 1 0-4 0M589.3 271.8a2 2 0 1 0 4 0a2 2 0 1 0-4 0M565.2 298.2a2 2 0 1 0 4 0a2 2 0 1 0-4 0M579.6 312.2a2 2 0 1 0 4 0a2 2 0 1 0-4 0M594.0 268.2a2 2 0 1 0 4 0a2 2 0 1 0-4 0M615.1 299.1a2 2 0 1 0 4 0a2 2 0 1 0-4 0M645.4 282.8a2 2 0 1 0 4 0a2 2 0 1 0-4 0M620.5 249.0a2 2 0 1 0 4 0a2 2 0 1 0-4 0M660.2 241.2a2 2 0 1 0 4 0a2 2 0 1 0-4 0M629.4 294.0a2 2 0 1 0 4 0a2 2 0 1 0-4 0M616.3 256.0a2 2 0 1 0 4 0a2 2 0 1 0-4 0M610.2 303.1a2 2 0 1 0 4 0a2 2 0 1 0-4 0M657.4 267.0a2 2 0 1 0 4 0a2 2 0 1 0-4 0M617.6 253.1a2 2 0 1 0 4 0a2 2 0 1 0-4 0M591.8 268.9a2 2 0 1 0 4 0a2 2 0 1 0-4 0M609.5 305.6a2 2 0 1 0 4 0a2 2 0 1 0-4 0M564.6 295.1a2 2 0 1 0 4 0a2 2 0 1 0-4 0M636.4 292.3a2 2 0 1 0 4 0a2 2 0 1 0-4 0M578.4 280.5a2 2 0 1 0 4 0a2 2 0 1 0-4 0M650.1 274.7a2 2 0 1 0 4 0a2 2 0 1 0-4 0M643.8 243.5a2 2 0 1 0 4 0a2 2 0 1 0-4 0M566.3 296.2a2 2 0 1 0 4 0a2 2 0 1 0-4 0M623.1 296.1a2 2 0 1 0 4 0a2 2 0 1 0-4 0M650.9 272.1a2 2 0 1 0 4 0a2 2 0 1 0-4 0M627.7 294.0a2 2 0 1 0 4 0a2 2 0 1 0-4 0M661.1 247.6a2 2 0 1 0 4 0a2 2 0 1 0-4 0M621.1 250.3a2 2 0 1 0 4 0a2 2 0 1 0-4 0M646.0 242.6a2 2 0 1 0 4 0a2 2 0 1 0-4 0M657.1 265.5a2 2 0 1 0 4 0a2 2 0 1 0-4 0M562.4 314.6a2 2 0 1 0 4 0a2 2 0 1 0-4 0M569.0 291.4a2 2 0 1 0 4 0a2 2 0 1 0-4 0M627.5 247.5a2 2 0 1 0 4 0a2 2 0 1 0-4 0M638.1 288.5a2 2 0 1 0 4 0a2 2 0 1 0-4 0M573.4 313.5a2 2 0 1 0 4 0a2 2 0 1 0-4 0M615.0 254.3a2 2 0 1 0 4 0a2 2 0 1 0-4 0M645.9 281.4a2 2 0 1 0 4 0a2 2 0 1 0-4 0M565.4 298.9a2 2 0 1 0 4 0a2 2 0 1 0-4 0M653.0 273.4a2 2 0 1 0 4 0a2 2 0 1 0-4 0M566.6 290.0a2 2 0 1 0 4 0a2 2 0 1 0-4 0M601.2 265.0a2 2 0 1 0 4 0a2 2 0 1 0-4 0M562.9 308.0a2 2 0 1 0 4 0a2 2 0 1 0-4 0M586.9 274.1a2 2 0 1 0 4 0a2 2 0 1 0-4 0M645.3 280.0a2 2 0 1 0 4 0a2 2 0 1 0-4 0M589.2 272.3a2 2 0 1 0 4 0a2 2 0 1 0-4 0M562.6 302.2a2 2 0 1 0 4 0a2 2 0 1 0-4 0M654.4 268.4a2 2 0 1 0 4 0a2 2 0 1 0-4 0M603.9 301.8a2 2 0 1 0 4 0a2 2 0 1 0-4 0M581.2 310.9a2 2 0 1 0 4 0a2 2 0 1 0-4 0M600.3 267.1a2 2 0 1 0 4 0a2 2 0 1 0-4 0M563.8 304.5a2 2 0 1 0 4 0a2 2 0 1 0-4 0M563.7 301.7a2 2 0 1 0 4 0a2 2 0 1 0-4 0M623.4 301.7a2 2 0 1 0 4 0a2 2 0 1 0-4 0M564.0 312.5a2 2 0 1 0 4 0a2 2 0 1 0-4 0M615.5 251.1a2 2 0 1 0 4 0a2 2 0 1 0-4 0M633.0 292.1a2 2 0 1 0 4 0a2 2 0 1 0-4 0M585.0 312.2a2 2 0 1 0 4 0a2 2 0 1 0-4 0M656.6 258.6a2 2 0 1 0 4 0a2 2 0 1 0-4 0M566.5 295.5a2 2 0 1 0 4 0a2 2 0 1 0-4 0M653.2 246.1a2 2 0 1 0 4 0a2 2 0 1 0-4 0M571.7 312.4a2 2 0 1 0 4 0a2 2 0 1 0-4 0M569.5 310.9a2 2 0 1 0 4 0a2 2 0 1 0-4 0M582.8 275.4a2 2 0 1 0 4 0a2 2 0 1 0-4 0M578.9 279.9a2 2 0 1 0 4 0a2 2 0 1 0-4 0M622.9 296.5a2 2 0 1 0 4 0a2 2 0 1 0-4 0M564.4 304.1a2 2 0 1 0 4 0a2 2 0 1 0-4 0M601.0 266.3a2 2 0 1 0 4 0a2 2 0 1 0-4 0M633.0 243.6a2 2 0 1 0 4 0a2 2 0 1 0-4 0M565.1 292.2a2 2 0 1 0 4 0a2 2 0 1 0-4 0M624.4 295.9a2 2 0 1 0 4 0a2 2 0 1 0-4 0M565.0 306.2a2 2 0 1 0 4 0a2 2 0 1 0-4 0M567.7 294.4a2 2 0 1 0 4 0a2 2 0 1 0-4 0M564.6 302.1a2 2 0 1 0 4 0a2 2 0 1 0-4 0M611.9 303.8a2 2 0 1 0 4 0a2 2 0 1 0-4 0M656.2 267.9a2 2 0 1 0 4 0a2 2 0 1 0-4 0M647.8 276.2a2 2 0 1 0 4 0a2 2 0 1 0-4 0M606.7 262.3a2 2 0 1 0 4 0a2 2 0 1 0-4 0M641.8 239.5a2 2 0 1 0 4 0a2 2 0 1 0-4 0M573.0 313.2a2 2 0 1 0 4 0a2 2 0 1 0-4 0M562.1 297.3a2 2 0 1 0 4 0a2 2 0 1 0-4 0M607.8 262.5a2 2 0 1 0 4 0a2 2 0 1 0-4 0M577.5 281.4a2 2 0 1 0 4 0a2 2 0 1 0-4 0M623.8 298.9a2 2 0 1 0 4 0a2 2 0 1 0-4 0M578.4 334.0a2 2 0 1 0 4 0a2 2 0 1 0-4 0M637.0 232.0a2 2 0 1 0 4 0a2 2 0 1 0-4 0M641.0 232.0a2 2 0 1 0 4 0a2 2 0 1 0-4 0M645.0 232.0a2 2 0 1 0 4 0a2 2 0 1 0-4 0M666.0 232.0a2 2 0 1 0 4 0a2 2 0 1 0-4 0M638.0 236.0a2 2 0 1 0 4 0a2 2 0 1 0-4 0M601.0 257.0a2 2 0 1 0 4 0a2 2 0 1 0-4 0M618.0 253.0a2 2 0 1 0 4 0a2 2 0 1 0-4 0M559.0 317.0a2 2 0 1 0 4 0a2 2 0 1 0-4 0M565.0 311.0a2 2 0 1 0 4 0a2 2 0 1 0-4 0M572.0 314.0a2 2 0 1 0 4 0a2 2 0 1 0-4 0M582.0 317.0a2 2 0 1 0 4 0a2 2 0 1 0-4 0M595.0 319.0a2 2 0 1 0 4 0a2 2 0 1 0-4 0M621.0 312.0a2 2 0 1 0 4 0a2 2 0 1 0-4 0M630.0 306.0a2 2 0 1 0 4 0a2 2 0 1 0-4 0M634.0 300.0a2 2 0 1 0 4 0a2 2 0 1 0-4 0M652.0 286.0a2 2 0 1 0 4 0a2 2 0 1 0-4 0M654.0 290.0a2 2 0 1 0 4 0a2 2 0 1 0-4 0M661.0 262.0a2 2 0 1 0 4 0a2 2 0 1 0-4 0M658.0 270.0a2 2 0 1 0 4 0a2 2 0 1 0-4 0"/>
<line x1="551.5" y1="312.9" x2="682.5" y2="244.0" stroke="#bcbcbc" stroke-width="0.7"/>
</g>
<rect x="551.5" y="228.5" width="131.0" height="110.0" fill="none" stroke="#999" stroke-width="1"/>
<line x1="569.5" y1="338.5" x2="569.5" y2="342.0" stroke="#aaa" stroke-width="1"/>
<text x="569.5" y="351.8" text-anchor="middle" font-size="8.7">60</text>
<line x1="603.2" y1="338.5" x2="603.2" y2="342.0" stroke="#aaa" stroke-width="1"/>
<text x="603.2" y="351.8" text-anchor="middle" font-size="8.7">65</text>
<line x1="636.8" y1="338.5" x2="636.8" y2="342.0" stroke="#aaa" stroke-width="1"/>
<text x="636.8" y="351.8" text-anchor="middle" font-size="8.7">70</text>
<line x1="670.5" y1="338.5" x2="670.5" y2="342.0" stroke="#aaa" stroke-width="1"/>
<text x="670.5" y="351.8" text-anchor="middle" font-size="8.7">75</text>
<line x1="548.0" y1="320.3" x2="551.5" y2="320.3" stroke="#aaa" stroke-width="1"/>
<text x="545.3" y="323.5" text-anchor="end" font-size="8.7">55</text>
<line x1="548.0" y1="302.7" x2="551.5" y2="302.7" stroke="#aaa" stroke-width="1"/>
<text x="545.3" y="305.9" text-anchor="end" font-size="8.7">60</text>
<line x1="548.0" y1="285.1" x2="551.5" y2="285.1" stroke="#aaa" stroke-width="1"/>
<text x="545.3" y="288.3" text-anchor="end" font-size="8.7">65</text>
<line x1="548.0" y1="267.5" x2="551.5" y2="267.5" stroke="#aaa" stroke-width="1"/>
<text x="545.3" y="270.7" text-anchor="end" font-size="8.7">70</text>
<line x1="548.0" y1="249.9" x2="551.5" y2="249.9" stroke="#aaa" stroke-width="1"/>
<text x="545.3" y="253.1" text-anchor="end" font-size="8.7">75</text>
<line x1="548.0" y1="232.3" x2="551.5" y2="232.3" stroke="#aaa" stroke-width="1"/>
<text x="545.3" y="235.5" text-anchor="end" font-size="8.7">80</text>
<text transform="translate(527.5,284.3) rotate(-90)" text-anchor="middle" font-size="8.8">Actual HGT</text>
<text x="615.6" y="218.3" text-anchor="middle" font-size="8.66">UK Biobank (<tspan font-style="italic">N</tspan> = 437 K)</text>
<text x="519.7" y="217.0" font-weight="bold" font-size="15.3" fill="#000">h</text>
<text x="615.6" y="365.5" text-anchor="middle" font-size="8.68">Predicted HGT using Lasso+CTPR</text>
<text x="615.6" y="384.0" text-anchor="middle"><tspan font-style="italic">R</tspan><tspan font-size="6.3" dy="-1.9" dx="0.5">2</tspan><tspan dy="1.9"> = 42.8%</tspan></text>
<text x="615.6" y="393.8" text-anchor="middle">(<tspan font-style="italic" dx="0.8">R</tspan><tspan font-size="6.3" dy="-2.4" dx="0.5">2</tspan><tspan font-size="6.3" font-style="italic" dy="5.4" dx="0.5">m</tspan><tspan dy="-3.0" dx="0.8">= 42.1%, </tspan><tspan font-style="italic">R</tspan><tspan font-size="6.3" dy="-2.4" dx="0.5">2</tspan><tspan font-size="6.3" font-style="italic" dy="5.4" dx="0.5">w</tspan><tspan dy="-3.0" dx="0.8">= 43.5%)</tspan></text>
</svg>
</body></html>
